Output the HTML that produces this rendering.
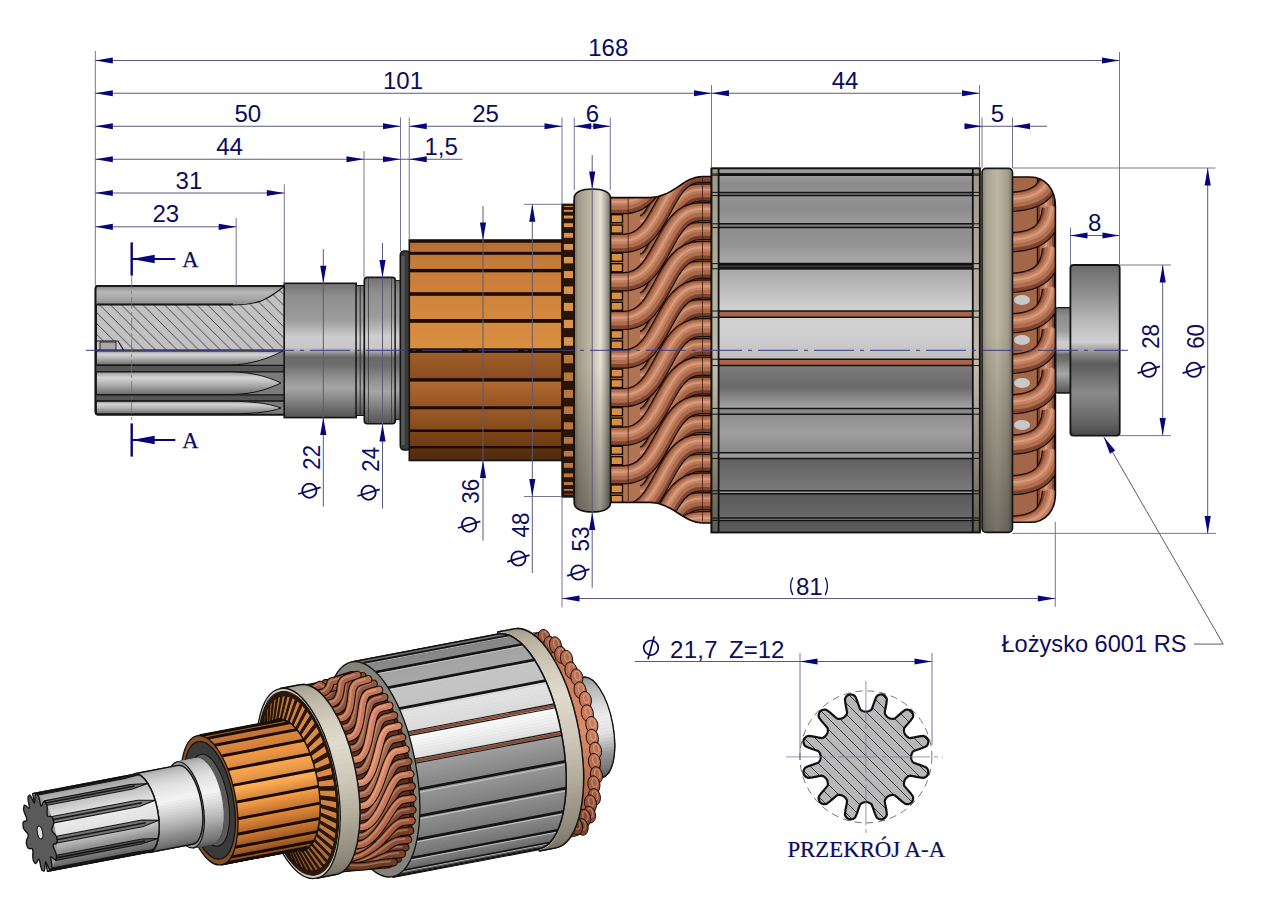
<!DOCTYPE html>
<html><head><meta charset="utf-8"><style>html,body{margin:0;padding:0;background:#fff;overflow:hidden}svg{display:block}</style></head>
<body><svg width="1280" height="905" viewBox="0 0 1280 905"><defs><linearGradient id="metal" x1="0" y1="0" x2="0" y2="1" gradientUnits="objectBoundingBox"><stop offset="0" stop-color="#727272"/><stop offset="0.1" stop-color="#8e8e8e"/><stop offset="0.27" stop-color="#9c9c9c"/><stop offset="0.35" stop-color="#b8b8b8"/><stop offset="0.4" stop-color="#cdcdcd"/><stop offset="0.48" stop-color="#c8c8c8"/><stop offset="0.51" stop-color="#a0a0a0"/><stop offset="0.55" stop-color="#686868"/><stop offset="0.61" stop-color="#6e6e6e"/><stop offset="0.7" stop-color="#909090"/><stop offset="0.78" stop-color="#a6a6a6"/><stop offset="0.88" stop-color="#808080"/><stop offset="1" stop-color="#525252"/></linearGradient><linearGradient id="tooth" x1="0" y1="0" x2="0" y2="1" gradientUnits="objectBoundingBox"><stop offset="0" stop-color="#9a9a9a"/><stop offset="0.25" stop-color="#d4d4d4"/><stop offset="0.5" stop-color="#b8b8b8"/><stop offset="1" stop-color="#6c6c6c"/></linearGradient><linearGradient id="toothTop" x1="0" y1="0" x2="0" y2="1" gradientUnits="objectBoundingBox"><stop offset="0" stop-color="#8a8a8a"/><stop offset="0.3" stop-color="#b8b8b8"/><stop offset="0.7" stop-color="#a6a6a6"/><stop offset="1" stop-color="#8e8e8e"/></linearGradient><pattern id="hatch" patternUnits="userSpaceOnUse" width="10.8" height="10.8" patternTransform="rotate(0)"><rect width="10.8" height="10.8" fill="#c2c2c2"/><path d="M-1,-1 L11.8,11.8 M-6.4,4.4 L6.4,17.2 M4.4,-6.4 L17.2,6.4" stroke="#3a3a3a" stroke-width="0.9"/></pattern><pattern id="hatch2" patternUnits="userSpaceOnUse" width="9" height="9"><rect width="9" height="9" fill="#b9b9b9"/><path d="M-1,-1 L10,10 M-5.5,3.5 L5.5,14.5 M3.5,-5.5 L14.5,5.5" stroke="#2e2e2e" stroke-width="0.9"/></pattern><linearGradient id="collar" x1="0" y1="0" x2="1" y2="0" gradientUnits="objectBoundingBox"><stop offset="0" stop-color="#2a2a2a"/><stop offset="0.5" stop-color="#4a4a4a"/><stop offset="1" stop-color="#2a2a2a"/></linearGradient><linearGradient id="com0" x1="0" y1="0" x2="0" y2="1" gradientUnits="objectBoundingBox"><stop offset="0" stop-color="#b06c32"/><stop offset="1" stop-color="#bf7736"/></linearGradient><linearGradient id="com1" x1="0" y1="0" x2="0" y2="1" gradientUnits="objectBoundingBox"><stop offset="0" stop-color="#c0783a"/><stop offset="1" stop-color="#c97e3a"/></linearGradient><linearGradient id="com2" x1="0" y1="0" x2="0" y2="1" gradientUnits="objectBoundingBox"><stop offset="0" stop-color="#c87c3a"/><stop offset="1" stop-color="#d08238"/></linearGradient><linearGradient id="com3" x1="0" y1="0" x2="0" y2="1" gradientUnits="objectBoundingBox"><stop offset="0" stop-color="#cf833c"/><stop offset="1" stop-color="#d6883e"/></linearGradient><linearGradient id="com4" x1="0" y1="0" x2="0" y2="1" gradientUnits="objectBoundingBox"><stop offset="0" stop-color="#d4893f"/><stop offset="1" stop-color="#d8903f"/></linearGradient><linearGradient id="com5" x1="0" y1="0" x2="0" y2="1" gradientUnits="objectBoundingBox"><stop offset="0" stop-color="#a0602a"/><stop offset="1" stop-color="#8a4c1e"/></linearGradient><linearGradient id="com6" x1="0" y1="0" x2="0" y2="1" gradientUnits="objectBoundingBox"><stop offset="0" stop-color="#b46c32"/><stop offset="1" stop-color="#92521f"/></linearGradient><linearGradient id="com7" x1="0" y1="0" x2="0" y2="1" gradientUnits="objectBoundingBox"><stop offset="0" stop-color="#9c5c28"/><stop offset="1" stop-color="#84481a"/></linearGradient><linearGradient id="com8" x1="0" y1="0" x2="0" y2="1" gradientUnits="objectBoundingBox"><stop offset="0" stop-color="#7e4618"/><stop offset="1" stop-color="#6c3a12"/></linearGradient><linearGradient id="com9" x1="0" y1="0" x2="0" y2="1" gradientUnits="objectBoundingBox"><stop offset="0" stop-color="#5e3210"/><stop offset="1" stop-color="#4e2a0c"/></linearGradient><clipPath id="fwclip"><path d="M610,197.6 L650,197.6 C672,197.6 684,176.6 702,176.6 L712,176.6 L712,523 L702,523 C684,523 672,502.4 650,502.4 L610,502.4 Z"/></clipPath><linearGradient id="ringF" x1="0" y1="0" x2="1" y2="0" gradientUnits="objectBoundingBox"><stop offset="0" stop-color="#7a7366"/><stop offset="0.12" stop-color="#a39b8a"/><stop offset="0.45" stop-color="#bdb6a5"/><stop offset="0.72" stop-color="#e6e2d6"/><stop offset="0.86" stop-color="#b5ad9c"/><stop offset="1" stop-color="#787264"/></linearGradient><linearGradient id="ringFv" x1="0" y1="0" x2="0" y2="1" gradientUnits="objectBoundingBox"><stop offset="0" stop-color="#ffffff"/><stop offset="0.5" stop-color="#ffffff"/><stop offset="1" stop-color="#000000"/></linearGradient><linearGradient id="shadeV" x1="0" y1="0" x2="0" y2="1" gradientUnits="objectBoundingBox"><stop offset="0" stop-color="rgba(0,0,0,0)"/><stop offset="0.55" stop-color="rgba(0,0,0,0)"/><stop offset="1" stop-color="rgba(0,0,0,0.35)"/></linearGradient><linearGradient id="st0" x1="0" y1="0" x2="0" y2="1" gradientUnits="objectBoundingBox"><stop offset="0" stop-color="#a4a4a4"/><stop offset="1" stop-color="#8e8e8e"/></linearGradient><linearGradient id="st1" x1="0" y1="0" x2="0" y2="1" gradientUnits="objectBoundingBox"><stop offset="0" stop-color="#9c9c9c"/><stop offset="0.5" stop-color="#8a8a8a"/><stop offset="1" stop-color="#929292"/></linearGradient><linearGradient id="st2" x1="0" y1="0" x2="0" y2="1" gradientUnits="objectBoundingBox"><stop offset="0" stop-color="#939393"/><stop offset="0.5" stop-color="#8c8c8c"/><stop offset="1" stop-color="#9c9c9c"/></linearGradient><linearGradient id="st3" x1="0" y1="0" x2="0" y2="1" gradientUnits="objectBoundingBox"><stop offset="0" stop-color="#8c8c8c"/><stop offset="0.5" stop-color="#959595"/><stop offset="1" stop-color="#ababab"/></linearGradient><linearGradient id="st4" x1="0" y1="0" x2="0" y2="1" gradientUnits="objectBoundingBox"><stop offset="0" stop-color="#a6a6a6"/><stop offset="0.5" stop-color="#bebebe"/><stop offset="1" stop-color="#d2d2d2"/></linearGradient><linearGradient id="st5" x1="0" y1="0" x2="0" y2="1" gradientUnits="objectBoundingBox"><stop offset="0" stop-color="#d2d2d2"/><stop offset="0.5" stop-color="#cfcfcf"/><stop offset="1" stop-color="#bcbcbc"/></linearGradient><linearGradient id="st6" x1="0" y1="0" x2="0" y2="1" gradientUnits="objectBoundingBox"><stop offset="0" stop-color="#7c7c7c"/><stop offset="0.5" stop-color="#696969"/><stop offset="1" stop-color="#a6a6a6"/></linearGradient><linearGradient id="st7" x1="0" y1="0" x2="0" y2="1" gradientUnits="objectBoundingBox"><stop offset="0" stop-color="#8e8e8e"/><stop offset="0.5" stop-color="#9e9e9e"/><stop offset="1" stop-color="#888888"/></linearGradient><linearGradient id="st8" x1="0" y1="0" x2="0" y2="1" gradientUnits="objectBoundingBox"><stop offset="0" stop-color="#5e5e5e"/><stop offset="0.5" stop-color="#6e6e6e"/><stop offset="1" stop-color="#7a7a7a"/></linearGradient><linearGradient id="st9" x1="0" y1="0" x2="0" y2="1" gradientUnits="objectBoundingBox"><stop offset="0" stop-color="#585858"/><stop offset="0.5" stop-color="#626262"/><stop offset="1" stop-color="#6a6a6a"/></linearGradient><linearGradient id="st10" x1="0" y1="0" x2="0" y2="1" gradientUnits="objectBoundingBox"><stop offset="0" stop-color="#555555"/><stop offset="1" stop-color="#5e5e5e"/></linearGradient><linearGradient id="cap" x1="0" y1="0" x2="0" y2="1" gradientUnits="objectBoundingBox"><stop offset="0" stop-color="#9e9888"/><stop offset="0.3" stop-color="#b4ad9c"/><stop offset="0.55" stop-color="#c2bcaf"/><stop offset="0.8" stop-color="#8e887a"/><stop offset="1" stop-color="#5e5a50"/></linearGradient><clipPath id="bwclip"><path d="M1011,177 L1030,177 C1046,177 1055.4,190 1055.4,206 L1055.4,494 C1055.4,510 1046,522.3 1030,522.3 L1011,522.3 Z"/></clipPath><linearGradient id="ringB" x1="0" y1="0" x2="1" y2="0" gradientUnits="objectBoundingBox"><stop offset="0" stop-color="#8a8372"/><stop offset="0.15" stop-color="#a9a290"/><stop offset="0.5" stop-color="#bdb6a5"/><stop offset="0.85" stop-color="#a49d8c"/><stop offset="1" stop-color="#7a7466"/></linearGradient><linearGradient id="shadeV2" x1="0" y1="0" x2="0" y2="1" gradientUnits="objectBoundingBox"><stop offset="0" stop-color="rgba(0,0,0,0)"/><stop offset="0.45" stop-color="rgba(0,0,0,0)"/><stop offset="1" stop-color="rgba(0,0,0,0.38)"/></linearGradient><linearGradient id="bear" x1="0" y1="0" x2="0" y2="1" gradientUnits="objectBoundingBox"><stop offset="0" stop-color="#6c6c6c"/><stop offset="0.15" stop-color="#8a8a8a"/><stop offset="0.35" stop-color="#bdbdbd"/><stop offset="0.45" stop-color="#d0d0d0"/><stop offset="0.52" stop-color="#8a8a8a"/><stop offset="0.58" stop-color="#5c5c5c"/><stop offset="0.75" stop-color="#8a8a8a"/><stop offset="0.9" stop-color="#6a6a6a"/><stop offset="1" stop-color="#4a4a4a"/></linearGradient><pattern id="hatch3" patternUnits="userSpaceOnUse" width="11" height="11"><rect width="11" height="11" fill="#b8b8b8"/><path d="M-1,-1 L12,12 M-6.5,4.5 L6.5,17.5 M4.5,-6.5 L17.5,6.5" stroke="#2a2a2a" stroke-width="0.9"/></pattern></defs><rect width="1280" height="905" fill="#fff"/><rect x="95.5" y="285.9" width="190" height="128.8" rx="3" fill="#8a8a8a" stroke="#151515" stroke-width="1.6" />
<rect x="96.3" y="286.7" width="188" height="17.5" rx="0" fill="url(#toothTop)" stroke="none" stroke-width="0" />
<path d="M96.3,305 L233,305 C262,305 270,297 284.5,286.2 L284.5,350 L96.3,350 Z" fill="url(#hatch)" stroke="#151515" stroke-width="1.2" />
<line x1="96.3" y1="304.2" x2="233" y2="304.2" stroke="#151515" stroke-width="1.4" />
<path d="M96.3,341 L118,341 L123.5,350 L96.3,350 Z" fill="#c8c8c8" stroke="#151515" stroke-width="1.1" />
<rect x="100" y="342" width="16" height="8" rx="0" fill="#a8a8a8" stroke="#151515" stroke-width="0.9" />
<rect x="96.3" y="350.5" width="188" height="63.5" rx="0" fill="#7a7a7a" stroke="none" stroke-width="0" />
<path d="M96.3,351 L240,351 C262,351 272,351.5 283,350.8 C270,358 250,365 230,365 L96.3,365 Z" fill="url(#tooth)" stroke="#151515" stroke-width="1" />
<rect x="96.3" y="365.3" width="188" height="6.5" rx="0" fill="#575757" stroke="none" stroke-width="0" />
<line x1="96.3" y1="365.3" x2="284" y2="365.3" stroke="#151515" stroke-width="1.3" />
<line x1="96.3" y1="371.8" x2="284" y2="371.8" stroke="#151515" stroke-width="1.3" />
<path d="M96.3,372 L230,372 C255,372 270,378 281,383 C270,388 255,394.5 230,394.5 L96.3,394.5 Z" fill="url(#tooth)" stroke="#151515" stroke-width="1" />
<rect x="96.3" y="394.8" width="188" height="6.2" rx="0" fill="#555" stroke="none" stroke-width="0" />
<line x1="96.3" y1="394.8" x2="284" y2="394.8" stroke="#151515" stroke-width="1.3" />
<line x1="96.3" y1="401" x2="284" y2="401" stroke="#151515" stroke-width="1.3" />
<path d="M96.3,401.3 L230,401.3 C255,401.3 270,404 281,408 C270,412 255,413.8 230,413.8 L96.3,413.8 Z" fill="url(#tooth)" stroke="#151515" stroke-width="1" />
<rect x="95.5" y="285.9" width="190" height="128.8" rx="3" fill="none" stroke="#151515" stroke-width="1.8" />
<rect x="284.2" y="283.3" width="72" height="134.3" rx="0" fill="url(#metal)" stroke="#151515" stroke-width="1.6" />
<rect x="356.2" y="285.5" width="8.2" height="130" rx="0" fill="url(#metal)" stroke="#151515" stroke-width="1" />
<line x1="360.2" y1="286" x2="360.2" y2="415" stroke="#2a2a2a" stroke-width="1.0" />
<rect x="364.3" y="277.4" width="31" height="146.4" rx="3" fill="url(#metal)" stroke="#151515" stroke-width="1.6" />
<line x1="368.5" y1="278" x2="368.5" y2="423" stroke="#3a3a3a" stroke-width="0.8" />
<line x1="391.5" y1="278" x2="391.5" y2="423" stroke="#3a3a3a" stroke-width="0.8" />
<rect x="395.3" y="280.6" width="5.5" height="139" rx="0" fill="url(#metal)" stroke="#151515" stroke-width="1" />
<rect x="400.3" y="251" width="10" height="199" rx="4" fill="#3a3a3a" stroke="#151515" stroke-width="1.6" />
<rect x="401.5" y="256" width="3" height="189" rx="0" fill="#5a5a5a" stroke="none" stroke-width="0" />
<rect x="409.3" y="240" width="152.8" height="13.3" rx="0" fill="url(#com0)" stroke="none" stroke-width="0" />
<rect x="409.3" y="253.3" width="152.8" height="17.3" rx="0" fill="url(#com1)" stroke="none" stroke-width="0" />
<rect x="409.3" y="270.6" width="152.8" height="23.4" rx="0" fill="url(#com2)" stroke="none" stroke-width="0" />
<rect x="409.3" y="294" width="152.8" height="26.9" rx="0" fill="url(#com3)" stroke="none" stroke-width="0" />
<rect x="409.3" y="320.9" width="152.8" height="29.7" rx="0" fill="url(#com4)" stroke="none" stroke-width="0" />
<rect x="409.3" y="350.6" width="152.8" height="29.3" rx="0" fill="url(#com5)" stroke="none" stroke-width="0" />
<rect x="409.3" y="379.9" width="152.8" height="27.9" rx="0" fill="url(#com6)" stroke="none" stroke-width="0" />
<rect x="409.3" y="407.8" width="152.8" height="22.9" rx="0" fill="url(#com7)" stroke="none" stroke-width="0" />
<rect x="409.3" y="430.7" width="152.8" height="16.5" rx="0" fill="url(#com8)" stroke="none" stroke-width="0" />
<rect x="409.3" y="447.2" width="152.8" height="13.3" rx="0" fill="url(#com9)" stroke="none" stroke-width="0" />
<rect x="409.3" y="240.1" width="152.8" height="2.6" rx="0" fill="#1c0a02" stroke="none" stroke-width="0" />
<rect x="409.3" y="251.8" width="152.8" height="3" rx="0" fill="#1c0a02" stroke="none" stroke-width="0" />
<rect x="409.3" y="268.9" width="152.8" height="3.4" rx="0" fill="#1c0a02" stroke="none" stroke-width="0" />
<rect x="409.3" y="292.2" width="152.8" height="3.6" rx="0" fill="#1c0a02" stroke="none" stroke-width="0" />
<rect x="409.3" y="319" width="152.8" height="3.8" rx="0" fill="#1c0a02" stroke="none" stroke-width="0" />
<rect x="409.3" y="348.3" width="152.8" height="4.6" rx="0" fill="#1c0a02" stroke="none" stroke-width="0" />
<rect x="409.3" y="378.2" width="152.8" height="3.4" rx="0" fill="#1c0a02" stroke="none" stroke-width="0" />
<rect x="409.3" y="406.3" width="152.8" height="3" rx="0" fill="#1c0a02" stroke="none" stroke-width="0" />
<rect x="409.3" y="429.4" width="152.8" height="2.6" rx="0" fill="#1c0a02" stroke="none" stroke-width="0" />
<rect x="409.3" y="446" width="152.8" height="2.4" rx="0" fill="#1c0a02" stroke="none" stroke-width="0" />
<rect x="409.3" y="240" width="152.8" height="220.5" rx="0" fill="none" stroke="#151515" stroke-width="1.6" />
<rect x="562" y="204.3" width="12.5" height="292.7" rx="0" fill="#2a1406" stroke="#151515" stroke-width="1.4" />
<rect x="563.3" y="493.21" width="10.3" height="1.7" rx="0" fill="#b8773f" stroke="#1a0a02" stroke-width="0.8" />
<rect x="563.3" y="488.44" width="10.3" height="2.8" rx="0" fill="#b8773f" stroke="#1a0a02" stroke-width="0.8" />
<rect x="563.3" y="481.65" width="10.3" height="3.86" rx="0" fill="#b8773f" stroke="#1a0a02" stroke-width="0.8" />
<rect x="563.3" y="472.94" width="10.3" height="4.87" rx="0" fill="#b8773f" stroke="#1a0a02" stroke-width="0.8" />
<rect x="563.3" y="462.45" width="10.3" height="5.81" rx="0" fill="#b8773f" stroke="#1a0a02" stroke-width="0.8" />
<rect x="563.3" y="450.32" width="10.3" height="6.66" rx="0" fill="#b8773f" stroke="#1a0a02" stroke-width="0.8" />
<rect x="563.3" y="436.73" width="10.3" height="7.41" rx="0" fill="#b8773f" stroke="#1a0a02" stroke-width="0.8" />
<rect x="563.3" y="421.88" width="10.3" height="8.06" rx="0" fill="#b8773f" stroke="#1a0a02" stroke-width="0.8" />
<rect x="563.3" y="405.99" width="10.3" height="8.59" rx="0" fill="#b8773f" stroke="#1a0a02" stroke-width="0.8" />
<rect x="563.3" y="389.29" width="10.3" height="8.99" rx="0" fill="#b8773f" stroke="#1a0a02" stroke-width="0.8" />
<rect x="563.3" y="372.01" width="10.3" height="9.26" rx="0" fill="#b8773f" stroke="#1a0a02" stroke-width="0.8" />
<rect x="563.3" y="354.43" width="10.3" height="9.4" rx="0" fill="#b8773f" stroke="#1a0a02" stroke-width="0.8" />
<rect x="563.3" y="336.78" width="10.3" height="9.4" rx="0" fill="#d8934e" stroke="#1a0a02" stroke-width="0.8" />
<rect x="563.3" y="319.32" width="10.3" height="9.26" rx="0" fill="#d8934e" stroke="#1a0a02" stroke-width="0.8" />
<rect x="563.3" y="302.32" width="10.3" height="8.99" rx="0" fill="#d8934e" stroke="#1a0a02" stroke-width="0.8" />
<rect x="563.3" y="286.02" width="10.3" height="8.59" rx="0" fill="#d8934e" stroke="#1a0a02" stroke-width="0.8" />
<rect x="563.3" y="270.66" width="10.3" height="8.06" rx="0" fill="#d8934e" stroke="#1a0a02" stroke-width="0.8" />
<rect x="563.3" y="256.46" width="10.3" height="7.41" rx="0" fill="#d8934e" stroke="#1a0a02" stroke-width="0.8" />
<rect x="563.3" y="243.62" width="10.3" height="6.66" rx="0" fill="#d8934e" stroke="#1a0a02" stroke-width="0.8" />
<rect x="563.3" y="232.35" width="10.3" height="5.81" rx="0" fill="#d8934e" stroke="#1a0a02" stroke-width="0.8" />
<rect x="563.3" y="222.79" width="10.3" height="4.87" rx="0" fill="#d8934e" stroke="#1a0a02" stroke-width="0.8" />
<rect x="563.3" y="215.09" width="10.3" height="3.86" rx="0" fill="#d8934e" stroke="#1a0a02" stroke-width="0.8" />
<rect x="563.3" y="209.36" width="10.3" height="2.8" rx="0" fill="#d8934e" stroke="#1a0a02" stroke-width="0.8" />
<rect x="563.3" y="205.69" width="10.3" height="1.7" rx="0" fill="#d8934e" stroke="#1a0a02" stroke-width="0.8" />
<g clip-path="url(#fwclip)">
<rect x="609" y="170" width="104" height="360" fill="#b07454"/>
<path d="M640,146.7 C664,146.7 662,76.7 700,76.7 L714,76.7" fill="none" stroke="#1a0a04" stroke-width="18.4" stroke-linecap="butt"/>
<path d="M640,146.7 C664,146.7 662,76.7 700,76.7 L714,76.7" fill="none" stroke="#6e3c28" stroke-width="16" stroke-linecap="butt"/>
<path d="M640,146.7 C664,146.7 662,76.7 700,76.7 L714,76.7" fill="none" stroke="#a86648" stroke-width="12.16" stroke-linecap="butt" transform="translate(0,-1.4)"/>
<path d="M640,146.7 C664,146.7 662,76.7 700,76.7 L714,76.7" fill="none" stroke="#c88868" stroke-width="6.4" stroke-linecap="butt" transform="translate(0,-2.4)" opacity="0.55"/>
<path d="M640,146.7 C664,146.7 662,76.7 700,76.7 L714,76.7" fill="none" stroke="#ecb899" stroke-width="2.24" stroke-linecap="butt" transform="translate(0,-2.8)" opacity="0.45"/>
<path d="M640,185.3 C664,185.3 662,115.3 700,115.3 L714,115.3" fill="none" stroke="#1a0a04" stroke-width="18.4" stroke-linecap="butt"/>
<path d="M640,185.3 C664,185.3 662,115.3 700,115.3 L714,115.3" fill="none" stroke="#6e3c28" stroke-width="16" stroke-linecap="butt"/>
<path d="M640,185.3 C664,185.3 662,115.3 700,115.3 L714,115.3" fill="none" stroke="#a86648" stroke-width="12.16" stroke-linecap="butt" transform="translate(0,-1.4)"/>
<path d="M640,185.3 C664,185.3 662,115.3 700,115.3 L714,115.3" fill="none" stroke="#c88868" stroke-width="6.4" stroke-linecap="butt" transform="translate(0,-2.4)" opacity="0.55"/>
<path d="M640,185.3 C664,185.3 662,115.3 700,115.3 L714,115.3" fill="none" stroke="#ecb899" stroke-width="2.24" stroke-linecap="butt" transform="translate(0,-2.8)" opacity="0.45"/>
<path d="M640,223.9 C664,223.9 662,153.9 700,153.9 L714,153.9" fill="none" stroke="#1a0a04" stroke-width="18.4" stroke-linecap="butt"/>
<path d="M640,223.9 C664,223.9 662,153.9 700,153.9 L714,153.9" fill="none" stroke="#6e3c28" stroke-width="16" stroke-linecap="butt"/>
<path d="M640,223.9 C664,223.9 662,153.9 700,153.9 L714,153.9" fill="none" stroke="#a86648" stroke-width="12.16" stroke-linecap="butt" transform="translate(0,-1.4)"/>
<path d="M640,223.9 C664,223.9 662,153.9 700,153.9 L714,153.9" fill="none" stroke="#c88868" stroke-width="6.4" stroke-linecap="butt" transform="translate(0,-2.4)" opacity="0.55"/>
<path d="M640,223.9 C664,223.9 662,153.9 700,153.9 L714,153.9" fill="none" stroke="#ecb899" stroke-width="2.24" stroke-linecap="butt" transform="translate(0,-2.8)" opacity="0.45"/>
<path d="M640,262.5 C664,262.5 662,192.5 700,192.5 L714,192.5" fill="none" stroke="#1a0a04" stroke-width="18.4" stroke-linecap="butt"/>
<path d="M640,262.5 C664,262.5 662,192.5 700,192.5 L714,192.5" fill="none" stroke="#6e3c28" stroke-width="16" stroke-linecap="butt"/>
<path d="M640,262.5 C664,262.5 662,192.5 700,192.5 L714,192.5" fill="none" stroke="#a86648" stroke-width="12.16" stroke-linecap="butt" transform="translate(0,-1.4)"/>
<path d="M640,262.5 C664,262.5 662,192.5 700,192.5 L714,192.5" fill="none" stroke="#c88868" stroke-width="6.4" stroke-linecap="butt" transform="translate(0,-2.4)" opacity="0.55"/>
<path d="M640,262.5 C664,262.5 662,192.5 700,192.5 L714,192.5" fill="none" stroke="#ecb899" stroke-width="2.24" stroke-linecap="butt" transform="translate(0,-2.8)" opacity="0.45"/>
<path d="M640,301.1 C664,301.1 662,231.1 700,231.1 L714,231.1" fill="none" stroke="#1a0a04" stroke-width="18.4" stroke-linecap="butt"/>
<path d="M640,301.1 C664,301.1 662,231.1 700,231.1 L714,231.1" fill="none" stroke="#6e3c28" stroke-width="16" stroke-linecap="butt"/>
<path d="M640,301.1 C664,301.1 662,231.1 700,231.1 L714,231.1" fill="none" stroke="#a86648" stroke-width="12.16" stroke-linecap="butt" transform="translate(0,-1.4)"/>
<path d="M640,301.1 C664,301.1 662,231.1 700,231.1 L714,231.1" fill="none" stroke="#c88868" stroke-width="6.4" stroke-linecap="butt" transform="translate(0,-2.4)" opacity="0.55"/>
<path d="M640,301.1 C664,301.1 662,231.1 700,231.1 L714,231.1" fill="none" stroke="#ecb899" stroke-width="2.24" stroke-linecap="butt" transform="translate(0,-2.8)" opacity="0.45"/>
<path d="M640,339.7 C664,339.7 662,269.7 700,269.7 L714,269.7" fill="none" stroke="#1a0a04" stroke-width="18.4" stroke-linecap="butt"/>
<path d="M640,339.7 C664,339.7 662,269.7 700,269.7 L714,269.7" fill="none" stroke="#6e3c28" stroke-width="16" stroke-linecap="butt"/>
<path d="M640,339.7 C664,339.7 662,269.7 700,269.7 L714,269.7" fill="none" stroke="#a86648" stroke-width="12.16" stroke-linecap="butt" transform="translate(0,-1.4)"/>
<path d="M640,339.7 C664,339.7 662,269.7 700,269.7 L714,269.7" fill="none" stroke="#c88868" stroke-width="6.4" stroke-linecap="butt" transform="translate(0,-2.4)" opacity="0.55"/>
<path d="M640,339.7 C664,339.7 662,269.7 700,269.7 L714,269.7" fill="none" stroke="#ecb899" stroke-width="2.24" stroke-linecap="butt" transform="translate(0,-2.8)" opacity="0.45"/>
<path d="M640,378.3 C664,378.3 662,308.3 700,308.3 L714,308.3" fill="none" stroke="#1a0a04" stroke-width="18.4" stroke-linecap="butt"/>
<path d="M640,378.3 C664,378.3 662,308.3 700,308.3 L714,308.3" fill="none" stroke="#6e3c28" stroke-width="16" stroke-linecap="butt"/>
<path d="M640,378.3 C664,378.3 662,308.3 700,308.3 L714,308.3" fill="none" stroke="#a86648" stroke-width="12.16" stroke-linecap="butt" transform="translate(0,-1.4)"/>
<path d="M640,378.3 C664,378.3 662,308.3 700,308.3 L714,308.3" fill="none" stroke="#c88868" stroke-width="6.4" stroke-linecap="butt" transform="translate(0,-2.4)" opacity="0.55"/>
<path d="M640,378.3 C664,378.3 662,308.3 700,308.3 L714,308.3" fill="none" stroke="#ecb899" stroke-width="2.24" stroke-linecap="butt" transform="translate(0,-2.8)" opacity="0.45"/>
<path d="M640,416.9 C664,416.9 662,346.9 700,346.9 L714,346.9" fill="none" stroke="#1a0a04" stroke-width="18.4" stroke-linecap="butt"/>
<path d="M640,416.9 C664,416.9 662,346.9 700,346.9 L714,346.9" fill="none" stroke="#6e3c28" stroke-width="16" stroke-linecap="butt"/>
<path d="M640,416.9 C664,416.9 662,346.9 700,346.9 L714,346.9" fill="none" stroke="#a86648" stroke-width="12.16" stroke-linecap="butt" transform="translate(0,-1.4)"/>
<path d="M640,416.9 C664,416.9 662,346.9 700,346.9 L714,346.9" fill="none" stroke="#c88868" stroke-width="6.4" stroke-linecap="butt" transform="translate(0,-2.4)" opacity="0.55"/>
<path d="M640,416.9 C664,416.9 662,346.9 700,346.9 L714,346.9" fill="none" stroke="#ecb899" stroke-width="2.24" stroke-linecap="butt" transform="translate(0,-2.8)" opacity="0.45"/>
<path d="M640,455.5 C664,455.5 662,385.5 700,385.5 L714,385.5" fill="none" stroke="#1a0a04" stroke-width="18.4" stroke-linecap="butt"/>
<path d="M640,455.5 C664,455.5 662,385.5 700,385.5 L714,385.5" fill="none" stroke="#6e3c28" stroke-width="16" stroke-linecap="butt"/>
<path d="M640,455.5 C664,455.5 662,385.5 700,385.5 L714,385.5" fill="none" stroke="#a86648" stroke-width="12.16" stroke-linecap="butt" transform="translate(0,-1.4)"/>
<path d="M640,455.5 C664,455.5 662,385.5 700,385.5 L714,385.5" fill="none" stroke="#c88868" stroke-width="6.4" stroke-linecap="butt" transform="translate(0,-2.4)" opacity="0.55"/>
<path d="M640,455.5 C664,455.5 662,385.5 700,385.5 L714,385.5" fill="none" stroke="#ecb899" stroke-width="2.24" stroke-linecap="butt" transform="translate(0,-2.8)" opacity="0.45"/>
<path d="M640,494.1 C664,494.1 662,424.1 700,424.1 L714,424.1" fill="none" stroke="#1a0a04" stroke-width="18.4" stroke-linecap="butt"/>
<path d="M640,494.1 C664,494.1 662,424.1 700,424.1 L714,424.1" fill="none" stroke="#6e3c28" stroke-width="16" stroke-linecap="butt"/>
<path d="M640,494.1 C664,494.1 662,424.1 700,424.1 L714,424.1" fill="none" stroke="#a86648" stroke-width="12.16" stroke-linecap="butt" transform="translate(0,-1.4)"/>
<path d="M640,494.1 C664,494.1 662,424.1 700,424.1 L714,424.1" fill="none" stroke="#c88868" stroke-width="6.4" stroke-linecap="butt" transform="translate(0,-2.4)" opacity="0.55"/>
<path d="M640,494.1 C664,494.1 662,424.1 700,424.1 L714,424.1" fill="none" stroke="#ecb899" stroke-width="2.24" stroke-linecap="butt" transform="translate(0,-2.8)" opacity="0.45"/>
<path d="M640,532.7 C664,532.7 662,462.7 700,462.7 L714,462.7" fill="none" stroke="#1a0a04" stroke-width="18.4" stroke-linecap="butt"/>
<path d="M640,532.7 C664,532.7 662,462.7 700,462.7 L714,462.7" fill="none" stroke="#6e3c28" stroke-width="16" stroke-linecap="butt"/>
<path d="M640,532.7 C664,532.7 662,462.7 700,462.7 L714,462.7" fill="none" stroke="#a86648" stroke-width="12.16" stroke-linecap="butt" transform="translate(0,-1.4)"/>
<path d="M640,532.7 C664,532.7 662,462.7 700,462.7 L714,462.7" fill="none" stroke="#c88868" stroke-width="6.4" stroke-linecap="butt" transform="translate(0,-2.4)" opacity="0.55"/>
<path d="M640,532.7 C664,532.7 662,462.7 700,462.7 L714,462.7" fill="none" stroke="#ecb899" stroke-width="2.24" stroke-linecap="butt" transform="translate(0,-2.8)" opacity="0.45"/>
<path d="M640,571.3 C664,571.3 662,501.3 700,501.3 L714,501.3" fill="none" stroke="#1a0a04" stroke-width="18.4" stroke-linecap="butt"/>
<path d="M640,571.3 C664,571.3 662,501.3 700,501.3 L714,501.3" fill="none" stroke="#6e3c28" stroke-width="16" stroke-linecap="butt"/>
<path d="M640,571.3 C664,571.3 662,501.3 700,501.3 L714,501.3" fill="none" stroke="#a86648" stroke-width="12.16" stroke-linecap="butt" transform="translate(0,-1.4)"/>
<path d="M640,571.3 C664,571.3 662,501.3 700,501.3 L714,501.3" fill="none" stroke="#c88868" stroke-width="6.4" stroke-linecap="butt" transform="translate(0,-2.4)" opacity="0.55"/>
<path d="M640,571.3 C664,571.3 662,501.3 700,501.3 L714,501.3" fill="none" stroke="#ecb899" stroke-width="2.24" stroke-linecap="butt" transform="translate(0,-2.8)" opacity="0.45"/>
<path d="M640,609.9 C664,609.9 662,539.9 700,539.9 L714,539.9" fill="none" stroke="#1a0a04" stroke-width="18.4" stroke-linecap="butt"/>
<path d="M640,609.9 C664,609.9 662,539.9 700,539.9 L714,539.9" fill="none" stroke="#6e3c28" stroke-width="16" stroke-linecap="butt"/>
<path d="M640,609.9 C664,609.9 662,539.9 700,539.9 L714,539.9" fill="none" stroke="#a86648" stroke-width="12.16" stroke-linecap="butt" transform="translate(0,-1.4)"/>
<path d="M640,609.9 C664,609.9 662,539.9 700,539.9 L714,539.9" fill="none" stroke="#c88868" stroke-width="6.4" stroke-linecap="butt" transform="translate(0,-2.4)" opacity="0.55"/>
<path d="M640,609.9 C664,609.9 662,539.9 700,539.9 L714,539.9" fill="none" stroke="#ecb899" stroke-width="2.24" stroke-linecap="butt" transform="translate(0,-2.8)" opacity="0.45"/>
<path d="M640,648.5 C664,648.5 662,578.5 700,578.5 L714,578.5" fill="none" stroke="#1a0a04" stroke-width="18.4" stroke-linecap="butt"/>
<path d="M640,648.5 C664,648.5 662,578.5 700,578.5 L714,578.5" fill="none" stroke="#6e3c28" stroke-width="16" stroke-linecap="butt"/>
<path d="M640,648.5 C664,648.5 662,578.5 700,578.5 L714,578.5" fill="none" stroke="#a86648" stroke-width="12.16" stroke-linecap="butt" transform="translate(0,-1.4)"/>
<path d="M640,648.5 C664,648.5 662,578.5 700,578.5 L714,578.5" fill="none" stroke="#c88868" stroke-width="6.4" stroke-linecap="butt" transform="translate(0,-2.4)" opacity="0.55"/>
<path d="M640,648.5 C664,648.5 662,578.5 700,578.5 L714,578.5" fill="none" stroke="#ecb899" stroke-width="2.24" stroke-linecap="butt" transform="translate(0,-2.8)" opacity="0.45"/>
<rect x="611" y="98.9" width="11.5" height="8" fill="#d68f45" stroke="#1a0a04" stroke-width="1.4"/>
<rect x="611" y="109.3" width="11.5" height="8" fill="#d68f45" stroke="#1a0a04" stroke-width="1.4"/>
<rect x="611" y="137.5" width="11.5" height="8" fill="#d68f45" stroke="#1a0a04" stroke-width="1.4"/>
<rect x="611" y="147.9" width="11.5" height="8" fill="#d68f45" stroke="#1a0a04" stroke-width="1.4"/>
<rect x="611" y="176.1" width="11.5" height="8" fill="#d68f45" stroke="#1a0a04" stroke-width="1.4"/>
<rect x="611" y="186.5" width="11.5" height="8" fill="#d68f45" stroke="#1a0a04" stroke-width="1.4"/>
<rect x="611" y="214.7" width="11.5" height="8" fill="#d68f45" stroke="#1a0a04" stroke-width="1.4"/>
<rect x="611" y="225.1" width="11.5" height="8" fill="#d68f45" stroke="#1a0a04" stroke-width="1.4"/>
<rect x="611" y="253.3" width="11.5" height="8" fill="#d68f45" stroke="#1a0a04" stroke-width="1.4"/>
<rect x="611" y="263.7" width="11.5" height="8" fill="#d68f45" stroke="#1a0a04" stroke-width="1.4"/>
<rect x="611" y="291.9" width="11.5" height="8" fill="#d68f45" stroke="#1a0a04" stroke-width="1.4"/>
<rect x="611" y="302.3" width="11.5" height="8" fill="#d68f45" stroke="#1a0a04" stroke-width="1.4"/>
<rect x="611" y="330.5" width="11.5" height="8" fill="#d68f45" stroke="#1a0a04" stroke-width="1.4"/>
<rect x="611" y="340.9" width="11.5" height="8" fill="#d68f45" stroke="#1a0a04" stroke-width="1.4"/>
<rect x="611" y="369.1" width="11.5" height="8" fill="#d68f45" stroke="#1a0a04" stroke-width="1.4"/>
<rect x="611" y="379.5" width="11.5" height="8" fill="#d68f45" stroke="#1a0a04" stroke-width="1.4"/>
<rect x="611" y="407.7" width="11.5" height="8" fill="#d68f45" stroke="#1a0a04" stroke-width="1.4"/>
<rect x="611" y="418.1" width="11.5" height="8" fill="#d68f45" stroke="#1a0a04" stroke-width="1.4"/>
<rect x="611" y="446.3" width="11.5" height="8" fill="#d68f45" stroke="#1a0a04" stroke-width="1.4"/>
<rect x="611" y="456.7" width="11.5" height="8" fill="#d68f45" stroke="#1a0a04" stroke-width="1.4"/>
<rect x="611" y="484.9" width="11.5" height="8" fill="#d68f45" stroke="#1a0a04" stroke-width="1.4"/>
<rect x="611" y="495.3" width="11.5" height="8" fill="#d68f45" stroke="#1a0a04" stroke-width="1.4"/>
<rect x="611" y="523.5" width="11.5" height="8" fill="#d68f45" stroke="#1a0a04" stroke-width="1.4"/>
<rect x="611" y="533.9" width="11.5" height="8" fill="#d68f45" stroke="#1a0a04" stroke-width="1.4"/>
<rect x="611" y="562.1" width="11.5" height="8" fill="#d68f45" stroke="#1a0a04" stroke-width="1.4"/>
<rect x="611" y="572.5" width="11.5" height="8" fill="#d68f45" stroke="#1a0a04" stroke-width="1.4"/>
<rect x="611" y="600.7" width="11.5" height="8" fill="#d68f45" stroke="#1a0a04" stroke-width="1.4"/>
<rect x="611" y="611.1" width="11.5" height="8" fill="#d68f45" stroke="#1a0a04" stroke-width="1.4"/>
<path d="M606,127.4 L624,127.4 C664,127.4 662,57.4 700,57.4 L714,57.4" fill="none" stroke="#1a0a04" stroke-width="19.4" stroke-linecap="butt"/>
<path d="M606,127.4 L624,127.4 C664,127.4 662,57.4 700,57.4 L714,57.4" fill="none" stroke="#7e4630" stroke-width="17" stroke-linecap="butt"/>
<path d="M606,127.4 L624,127.4 C664,127.4 662,57.4 700,57.4 L714,57.4" fill="none" stroke="#b06c4c" stroke-width="12.92" stroke-linecap="butt" transform="translate(0,-1.4)"/>
<path d="M606,127.4 L624,127.4 C664,127.4 662,57.4 700,57.4 L714,57.4" fill="none" stroke="#d49878" stroke-width="6.8" stroke-linecap="butt" transform="translate(0,-2.4)" opacity="0.55"/>
<path d="M606,127.4 L624,127.4 C664,127.4 662,57.4 700,57.4 L714,57.4" fill="none" stroke="#ecb899" stroke-width="2.38" stroke-linecap="butt" transform="translate(0,-2.8)" opacity="0.45"/>
<path d="M606,166 L624,166 C664,166 662,96 700,96 L714,96" fill="none" stroke="#1a0a04" stroke-width="19.4" stroke-linecap="butt"/>
<path d="M606,166 L624,166 C664,166 662,96 700,96 L714,96" fill="none" stroke="#7e4630" stroke-width="17" stroke-linecap="butt"/>
<path d="M606,166 L624,166 C664,166 662,96 700,96 L714,96" fill="none" stroke="#b06c4c" stroke-width="12.92" stroke-linecap="butt" transform="translate(0,-1.4)"/>
<path d="M606,166 L624,166 C664,166 662,96 700,96 L714,96" fill="none" stroke="#d49878" stroke-width="6.8" stroke-linecap="butt" transform="translate(0,-2.4)" opacity="0.55"/>
<path d="M606,166 L624,166 C664,166 662,96 700,96 L714,96" fill="none" stroke="#ecb899" stroke-width="2.38" stroke-linecap="butt" transform="translate(0,-2.8)" opacity="0.45"/>
<path d="M606,204.6 L624,204.6 C664,204.6 662,134.6 700,134.6 L714,134.6" fill="none" stroke="#1a0a04" stroke-width="19.4" stroke-linecap="butt"/>
<path d="M606,204.6 L624,204.6 C664,204.6 662,134.6 700,134.6 L714,134.6" fill="none" stroke="#7e4630" stroke-width="17" stroke-linecap="butt"/>
<path d="M606,204.6 L624,204.6 C664,204.6 662,134.6 700,134.6 L714,134.6" fill="none" stroke="#b06c4c" stroke-width="12.92" stroke-linecap="butt" transform="translate(0,-1.4)"/>
<path d="M606,204.6 L624,204.6 C664,204.6 662,134.6 700,134.6 L714,134.6" fill="none" stroke="#d49878" stroke-width="6.8" stroke-linecap="butt" transform="translate(0,-2.4)" opacity="0.55"/>
<path d="M606,204.6 L624,204.6 C664,204.6 662,134.6 700,134.6 L714,134.6" fill="none" stroke="#ecb899" stroke-width="2.38" stroke-linecap="butt" transform="translate(0,-2.8)" opacity="0.45"/>
<path d="M606,243.2 L624,243.2 C664,243.2 662,173.2 700,173.2 L714,173.2" fill="none" stroke="#1a0a04" stroke-width="19.4" stroke-linecap="butt"/>
<path d="M606,243.2 L624,243.2 C664,243.2 662,173.2 700,173.2 L714,173.2" fill="none" stroke="#7e4630" stroke-width="17" stroke-linecap="butt"/>
<path d="M606,243.2 L624,243.2 C664,243.2 662,173.2 700,173.2 L714,173.2" fill="none" stroke="#b06c4c" stroke-width="12.92" stroke-linecap="butt" transform="translate(0,-1.4)"/>
<path d="M606,243.2 L624,243.2 C664,243.2 662,173.2 700,173.2 L714,173.2" fill="none" stroke="#d49878" stroke-width="6.8" stroke-linecap="butt" transform="translate(0,-2.4)" opacity="0.55"/>
<path d="M606,243.2 L624,243.2 C664,243.2 662,173.2 700,173.2 L714,173.2" fill="none" stroke="#ecb899" stroke-width="2.38" stroke-linecap="butt" transform="translate(0,-2.8)" opacity="0.45"/>
<path d="M606,281.8 L624,281.8 C664,281.8 662,211.8 700,211.8 L714,211.8" fill="none" stroke="#1a0a04" stroke-width="19.4" stroke-linecap="butt"/>
<path d="M606,281.8 L624,281.8 C664,281.8 662,211.8 700,211.8 L714,211.8" fill="none" stroke="#7e4630" stroke-width="17" stroke-linecap="butt"/>
<path d="M606,281.8 L624,281.8 C664,281.8 662,211.8 700,211.8 L714,211.8" fill="none" stroke="#b06c4c" stroke-width="12.92" stroke-linecap="butt" transform="translate(0,-1.4)"/>
<path d="M606,281.8 L624,281.8 C664,281.8 662,211.8 700,211.8 L714,211.8" fill="none" stroke="#d49878" stroke-width="6.8" stroke-linecap="butt" transform="translate(0,-2.4)" opacity="0.55"/>
<path d="M606,281.8 L624,281.8 C664,281.8 662,211.8 700,211.8 L714,211.8" fill="none" stroke="#ecb899" stroke-width="2.38" stroke-linecap="butt" transform="translate(0,-2.8)" opacity="0.45"/>
<path d="M606,320.4 L624,320.4 C664,320.4 662,250.4 700,250.4 L714,250.4" fill="none" stroke="#1a0a04" stroke-width="19.4" stroke-linecap="butt"/>
<path d="M606,320.4 L624,320.4 C664,320.4 662,250.4 700,250.4 L714,250.4" fill="none" stroke="#7e4630" stroke-width="17" stroke-linecap="butt"/>
<path d="M606,320.4 L624,320.4 C664,320.4 662,250.4 700,250.4 L714,250.4" fill="none" stroke="#b06c4c" stroke-width="12.92" stroke-linecap="butt" transform="translate(0,-1.4)"/>
<path d="M606,320.4 L624,320.4 C664,320.4 662,250.4 700,250.4 L714,250.4" fill="none" stroke="#d49878" stroke-width="6.8" stroke-linecap="butt" transform="translate(0,-2.4)" opacity="0.55"/>
<path d="M606,320.4 L624,320.4 C664,320.4 662,250.4 700,250.4 L714,250.4" fill="none" stroke="#ecb899" stroke-width="2.38" stroke-linecap="butt" transform="translate(0,-2.8)" opacity="0.45"/>
<path d="M606,359 L624,359 C664,359 662,289 700,289 L714,289" fill="none" stroke="#1a0a04" stroke-width="19.4" stroke-linecap="butt"/>
<path d="M606,359 L624,359 C664,359 662,289 700,289 L714,289" fill="none" stroke="#7e4630" stroke-width="17" stroke-linecap="butt"/>
<path d="M606,359 L624,359 C664,359 662,289 700,289 L714,289" fill="none" stroke="#b06c4c" stroke-width="12.92" stroke-linecap="butt" transform="translate(0,-1.4)"/>
<path d="M606,359 L624,359 C664,359 662,289 700,289 L714,289" fill="none" stroke="#d49878" stroke-width="6.8" stroke-linecap="butt" transform="translate(0,-2.4)" opacity="0.55"/>
<path d="M606,359 L624,359 C664,359 662,289 700,289 L714,289" fill="none" stroke="#ecb899" stroke-width="2.38" stroke-linecap="butt" transform="translate(0,-2.8)" opacity="0.45"/>
<path d="M606,397.6 L624,397.6 C664,397.6 662,327.6 700,327.6 L714,327.6" fill="none" stroke="#1a0a04" stroke-width="19.4" stroke-linecap="butt"/>
<path d="M606,397.6 L624,397.6 C664,397.6 662,327.6 700,327.6 L714,327.6" fill="none" stroke="#7e4630" stroke-width="17" stroke-linecap="butt"/>
<path d="M606,397.6 L624,397.6 C664,397.6 662,327.6 700,327.6 L714,327.6" fill="none" stroke="#b06c4c" stroke-width="12.92" stroke-linecap="butt" transform="translate(0,-1.4)"/>
<path d="M606,397.6 L624,397.6 C664,397.6 662,327.6 700,327.6 L714,327.6" fill="none" stroke="#d49878" stroke-width="6.8" stroke-linecap="butt" transform="translate(0,-2.4)" opacity="0.55"/>
<path d="M606,397.6 L624,397.6 C664,397.6 662,327.6 700,327.6 L714,327.6" fill="none" stroke="#ecb899" stroke-width="2.38" stroke-linecap="butt" transform="translate(0,-2.8)" opacity="0.45"/>
<path d="M606,436.2 L624,436.2 C664,436.2 662,366.2 700,366.2 L714,366.2" fill="none" stroke="#1a0a04" stroke-width="19.4" stroke-linecap="butt"/>
<path d="M606,436.2 L624,436.2 C664,436.2 662,366.2 700,366.2 L714,366.2" fill="none" stroke="#7e4630" stroke-width="17" stroke-linecap="butt"/>
<path d="M606,436.2 L624,436.2 C664,436.2 662,366.2 700,366.2 L714,366.2" fill="none" stroke="#b06c4c" stroke-width="12.92" stroke-linecap="butt" transform="translate(0,-1.4)"/>
<path d="M606,436.2 L624,436.2 C664,436.2 662,366.2 700,366.2 L714,366.2" fill="none" stroke="#d49878" stroke-width="6.8" stroke-linecap="butt" transform="translate(0,-2.4)" opacity="0.55"/>
<path d="M606,436.2 L624,436.2 C664,436.2 662,366.2 700,366.2 L714,366.2" fill="none" stroke="#ecb899" stroke-width="2.38" stroke-linecap="butt" transform="translate(0,-2.8)" opacity="0.45"/>
<path d="M606,474.8 L624,474.8 C664,474.8 662,404.8 700,404.8 L714,404.8" fill="none" stroke="#1a0a04" stroke-width="19.4" stroke-linecap="butt"/>
<path d="M606,474.8 L624,474.8 C664,474.8 662,404.8 700,404.8 L714,404.8" fill="none" stroke="#7e4630" stroke-width="17" stroke-linecap="butt"/>
<path d="M606,474.8 L624,474.8 C664,474.8 662,404.8 700,404.8 L714,404.8" fill="none" stroke="#b06c4c" stroke-width="12.92" stroke-linecap="butt" transform="translate(0,-1.4)"/>
<path d="M606,474.8 L624,474.8 C664,474.8 662,404.8 700,404.8 L714,404.8" fill="none" stroke="#d49878" stroke-width="6.8" stroke-linecap="butt" transform="translate(0,-2.4)" opacity="0.55"/>
<path d="M606,474.8 L624,474.8 C664,474.8 662,404.8 700,404.8 L714,404.8" fill="none" stroke="#ecb899" stroke-width="2.38" stroke-linecap="butt" transform="translate(0,-2.8)" opacity="0.45"/>
<path d="M606,513.4 L624,513.4 C664,513.4 662,443.4 700,443.4 L714,443.4" fill="none" stroke="#1a0a04" stroke-width="19.4" stroke-linecap="butt"/>
<path d="M606,513.4 L624,513.4 C664,513.4 662,443.4 700,443.4 L714,443.4" fill="none" stroke="#7e4630" stroke-width="17" stroke-linecap="butt"/>
<path d="M606,513.4 L624,513.4 C664,513.4 662,443.4 700,443.4 L714,443.4" fill="none" stroke="#b06c4c" stroke-width="12.92" stroke-linecap="butt" transform="translate(0,-1.4)"/>
<path d="M606,513.4 L624,513.4 C664,513.4 662,443.4 700,443.4 L714,443.4" fill="none" stroke="#d49878" stroke-width="6.8" stroke-linecap="butt" transform="translate(0,-2.4)" opacity="0.55"/>
<path d="M606,513.4 L624,513.4 C664,513.4 662,443.4 700,443.4 L714,443.4" fill="none" stroke="#ecb899" stroke-width="2.38" stroke-linecap="butt" transform="translate(0,-2.8)" opacity="0.45"/>
<path d="M606,552 L624,552 C664,552 662,482 700,482 L714,482" fill="none" stroke="#1a0a04" stroke-width="19.4" stroke-linecap="butt"/>
<path d="M606,552 L624,552 C664,552 662,482 700,482 L714,482" fill="none" stroke="#7e4630" stroke-width="17" stroke-linecap="butt"/>
<path d="M606,552 L624,552 C664,552 662,482 700,482 L714,482" fill="none" stroke="#b06c4c" stroke-width="12.92" stroke-linecap="butt" transform="translate(0,-1.4)"/>
<path d="M606,552 L624,552 C664,552 662,482 700,482 L714,482" fill="none" stroke="#d49878" stroke-width="6.8" stroke-linecap="butt" transform="translate(0,-2.4)" opacity="0.55"/>
<path d="M606,552 L624,552 C664,552 662,482 700,482 L714,482" fill="none" stroke="#ecb899" stroke-width="2.38" stroke-linecap="butt" transform="translate(0,-2.8)" opacity="0.45"/>
<path d="M606,590.6 L624,590.6 C664,590.6 662,520.6 700,520.6 L714,520.6" fill="none" stroke="#1a0a04" stroke-width="19.4" stroke-linecap="butt"/>
<path d="M606,590.6 L624,590.6 C664,590.6 662,520.6 700,520.6 L714,520.6" fill="none" stroke="#7e4630" stroke-width="17" stroke-linecap="butt"/>
<path d="M606,590.6 L624,590.6 C664,590.6 662,520.6 700,520.6 L714,520.6" fill="none" stroke="#b06c4c" stroke-width="12.92" stroke-linecap="butt" transform="translate(0,-1.4)"/>
<path d="M606,590.6 L624,590.6 C664,590.6 662,520.6 700,520.6 L714,520.6" fill="none" stroke="#d49878" stroke-width="6.8" stroke-linecap="butt" transform="translate(0,-2.4)" opacity="0.55"/>
<path d="M606,590.6 L624,590.6 C664,590.6 662,520.6 700,520.6 L714,520.6" fill="none" stroke="#ecb899" stroke-width="2.38" stroke-linecap="butt" transform="translate(0,-2.8)" opacity="0.45"/>
<path d="M606,629.2 L624,629.2 C664,629.2 662,559.2 700,559.2 L714,559.2" fill="none" stroke="#1a0a04" stroke-width="19.4" stroke-linecap="butt"/>
<path d="M606,629.2 L624,629.2 C664,629.2 662,559.2 700,559.2 L714,559.2" fill="none" stroke="#7e4630" stroke-width="17" stroke-linecap="butt"/>
<path d="M606,629.2 L624,629.2 C664,629.2 662,559.2 700,559.2 L714,559.2" fill="none" stroke="#b06c4c" stroke-width="12.92" stroke-linecap="butt" transform="translate(0,-1.4)"/>
<path d="M606,629.2 L624,629.2 C664,629.2 662,559.2 700,559.2 L714,559.2" fill="none" stroke="#d49878" stroke-width="6.8" stroke-linecap="butt" transform="translate(0,-2.4)" opacity="0.55"/>
<path d="M606,629.2 L624,629.2 C664,629.2 662,559.2 700,559.2 L714,559.2" fill="none" stroke="#ecb899" stroke-width="2.38" stroke-linecap="butt" transform="translate(0,-2.8)" opacity="0.45"/>
</g>
<path d="M610,197.6 L650,197.6 C672,197.6 684,176.6 702,176.6 L712,176.6" fill="none" stroke="#140800" stroke-width="1.6"/>
<path d="M610,502.4 L650,502.4 C672,502.4 684,523 702,523 L712,523" fill="none" stroke="#140800" stroke-width="1.6"/>
<line x1="628.2" y1="199" x2="628.2" y2="501" stroke="#3a1a0a" stroke-width="0.8" />
<line x1="702.5" y1="178" x2="702.5" y2="521" stroke="#3a1a0a" stroke-width="0.8" />
<path d="M574.2,198 C574.2,192 582,189 592.3,189 C602.6,189 610.5,192 610.5,198 L610.5,503 C610.5,509 602.6,512 592.3,512 C582,512 574.2,509 574.2,503 Z" fill="url(#ringF)" stroke="#151515" stroke-width="1.6" />
<path d="M574.2,198 C574.2,192 582,189 592.3,189 C602.6,189 610.5,192 610.5,198 L610.5,503 C610.5,509 602.6,512 592.3,512 C582,512 574.2,509 574.2,503 Z" fill="url(#shadeV)" stroke="none" stroke-width="0" />
<line x1="574.2" y1="200" x2="574.2" y2="500" stroke="#151515" stroke-width="1.2" />
<rect x="711.5" y="168.4" width="268.3" height="364" rx="0" fill="#222" stroke="#111" stroke-width="1.6" />
<rect x="711.5" y="168.4" width="268.3" height="5.6" rx="0" fill="url(#st0)" stroke="none" stroke-width="0" />
<rect x="711.5" y="175.2" width="268.3" height="17.2" rx="0" fill="url(#st1)" stroke="none" stroke-width="0" />
<rect x="711.5" y="195.6" width="268.3" height="28.2" rx="0" fill="url(#st2)" stroke="none" stroke-width="0" />
<rect x="711.5" y="227.6" width="268.3" height="36" rx="0" fill="url(#st3)" stroke="none" stroke-width="0" />
<rect x="711.5" y="268.8" width="268.3" height="42.2" rx="0" fill="url(#st4)" stroke="none" stroke-width="0" />
<rect x="711.5" y="317.2" width="268.3" height="42" rx="0" fill="url(#st5)" stroke="none" stroke-width="0" />
<rect x="711.5" y="365.6" width="268.3" height="42.8" rx="0" fill="url(#st6)" stroke="none" stroke-width="0" />
<rect x="711.5" y="414.2" width="268.3" height="38.6" rx="0" fill="url(#st7)" stroke="none" stroke-width="0" />
<rect x="711.5" y="458.4" width="268.3" height="32.4" rx="0" fill="url(#st8)" stroke="none" stroke-width="0" />
<rect x="711.5" y="493.8" width="268.3" height="24.2" rx="0" fill="url(#st9)" stroke="none" stroke-width="0" />
<rect x="711.5" y="520.4" width="268.3" height="11.9" rx="0" fill="url(#st10)" stroke="none" stroke-width="0" />
<rect x="711.5" y="174" width="268.3" height="1.2" rx="0" fill="#111" stroke="none" stroke-width="0" />
<line x1="711.5" y1="174" x2="979.8" y2="174" stroke="#111" stroke-width="1.5" />
<line x1="711.5" y1="175.2" x2="979.8" y2="175.2" stroke="#111" stroke-width="1.5" />
<rect x="711.5" y="192.4" width="268.3" height="3.2" rx="0" fill="#777" stroke="none" stroke-width="0" />
<line x1="711.5" y1="192.4" x2="979.8" y2="192.4" stroke="#111" stroke-width="1.5" />
<line x1="711.5" y1="195.6" x2="979.8" y2="195.6" stroke="#111" stroke-width="1.5" />
<rect x="711.5" y="223.8" width="268.3" height="3.8" rx="0" fill="#7a7a7a" stroke="none" stroke-width="0" />
<line x1="711.5" y1="223.8" x2="979.8" y2="223.8" stroke="#111" stroke-width="1.5" />
<line x1="711.5" y1="227.6" x2="979.8" y2="227.6" stroke="#111" stroke-width="1.5" />
<rect x="711.5" y="263.6" width="268.3" height="5.2" rx="0" fill="#3a3a3a" stroke="none" stroke-width="0" />
<line x1="711.5" y1="263.6" x2="979.8" y2="263.6" stroke="#111" stroke-width="1.5" />
<line x1="711.5" y1="268.8" x2="979.8" y2="268.8" stroke="#111" stroke-width="1.5" />
<rect x="711.5" y="311" width="268.3" height="6.2" rx="0" fill="#a8654a" stroke="none" stroke-width="0" />
<line x1="711.5" y1="311" x2="979.8" y2="311" stroke="#111" stroke-width="1.5" />
<line x1="711.5" y1="317.2" x2="979.8" y2="317.2" stroke="#111" stroke-width="1.5" />
<rect x="711.5" y="359.2" width="268.3" height="6.4" rx="0" fill="#a8654a" stroke="none" stroke-width="0" />
<line x1="711.5" y1="359.2" x2="979.8" y2="359.2" stroke="#111" stroke-width="1.5" />
<line x1="711.5" y1="365.6" x2="979.8" y2="365.6" stroke="#111" stroke-width="1.5" />
<rect x="711.5" y="408.4" width="268.3" height="5.8" rx="0" fill="#8a8a8a" stroke="none" stroke-width="0" />
<line x1="711.5" y1="408.4" x2="979.8" y2="408.4" stroke="#111" stroke-width="1.5" />
<line x1="711.5" y1="414.2" x2="979.8" y2="414.2" stroke="#111" stroke-width="1.5" />
<rect x="711.5" y="452.8" width="268.3" height="5.6" rx="0" fill="#9a9a9a" stroke="none" stroke-width="0" />
<line x1="711.5" y1="452.8" x2="979.8" y2="452.8" stroke="#111" stroke-width="1.5" />
<line x1="711.5" y1="458.4" x2="979.8" y2="458.4" stroke="#111" stroke-width="1.5" />
<rect x="711.5" y="490.8" width="268.3" height="3" rx="0" fill="#9a9a9a" stroke="none" stroke-width="0" />
<line x1="711.5" y1="490.8" x2="979.8" y2="490.8" stroke="#111" stroke-width="1.5" />
<line x1="711.5" y1="493.8" x2="979.8" y2="493.8" stroke="#111" stroke-width="1.5" />
<rect x="711.5" y="518" width="268.3" height="2.4" rx="0" fill="#8a8a8a" stroke="none" stroke-width="0" />
<line x1="711.5" y1="518" x2="979.8" y2="518" stroke="#111" stroke-width="1.5" />
<line x1="711.5" y1="520.4" x2="979.8" y2="520.4" stroke="#111" stroke-width="1.5" />
<line x1="711.5" y1="174.6" x2="979.8" y2="174.6" stroke="#111" stroke-width="2.4" />
<line x1="711.5" y1="264.5" x2="979.8" y2="264.5" stroke="#111" stroke-width="2.2" />
<line x1="711.5" y1="268.2" x2="979.8" y2="268.2" stroke="#111" stroke-width="2.0" />
<rect x="712.3" y="169.2" width="5.9" height="362.4" rx="0" fill="url(#cap)" stroke="none" stroke-width="0" />
<line x1="712.3" y1="174" x2="718.2" y2="174" stroke="#111" stroke-width="1.0" />
<line x1="712.3" y1="175.2" x2="718.2" y2="175.2" stroke="#111" stroke-width="1.0" />
<line x1="712.3" y1="192.4" x2="718.2" y2="192.4" stroke="#111" stroke-width="1.0" />
<line x1="712.3" y1="195.6" x2="718.2" y2="195.6" stroke="#111" stroke-width="1.0" />
<line x1="712.3" y1="223.8" x2="718.2" y2="223.8" stroke="#111" stroke-width="1.0" />
<line x1="712.3" y1="227.6" x2="718.2" y2="227.6" stroke="#111" stroke-width="1.0" />
<line x1="712.3" y1="263.6" x2="718.2" y2="263.6" stroke="#111" stroke-width="1.0" />
<line x1="712.3" y1="268.8" x2="718.2" y2="268.8" stroke="#111" stroke-width="1.0" />
<line x1="712.3" y1="311" x2="718.2" y2="311" stroke="#111" stroke-width="1.0" />
<line x1="712.3" y1="317.2" x2="718.2" y2="317.2" stroke="#111" stroke-width="1.0" />
<line x1="712.3" y1="359.2" x2="718.2" y2="359.2" stroke="#111" stroke-width="1.0" />
<line x1="712.3" y1="365.6" x2="718.2" y2="365.6" stroke="#111" stroke-width="1.0" />
<line x1="712.3" y1="408.4" x2="718.2" y2="408.4" stroke="#111" stroke-width="1.0" />
<line x1="712.3" y1="414.2" x2="718.2" y2="414.2" stroke="#111" stroke-width="1.0" />
<line x1="712.3" y1="452.8" x2="718.2" y2="452.8" stroke="#111" stroke-width="1.0" />
<line x1="712.3" y1="458.4" x2="718.2" y2="458.4" stroke="#111" stroke-width="1.0" />
<line x1="712.3" y1="490.8" x2="718.2" y2="490.8" stroke="#111" stroke-width="1.0" />
<line x1="712.3" y1="493.8" x2="718.2" y2="493.8" stroke="#111" stroke-width="1.0" />
<line x1="712.3" y1="518" x2="718.2" y2="518" stroke="#111" stroke-width="1.0" />
<line x1="712.3" y1="520.4" x2="718.2" y2="520.4" stroke="#111" stroke-width="1.0" />
<rect x="973.2" y="169.2" width="6" height="362.4" rx="0" fill="url(#cap)" stroke="none" stroke-width="0" />
<line x1="973.2" y1="174" x2="979.2" y2="174" stroke="#111" stroke-width="1.0" />
<line x1="973.2" y1="175.2" x2="979.2" y2="175.2" stroke="#111" stroke-width="1.0" />
<line x1="973.2" y1="192.4" x2="979.2" y2="192.4" stroke="#111" stroke-width="1.0" />
<line x1="973.2" y1="195.6" x2="979.2" y2="195.6" stroke="#111" stroke-width="1.0" />
<line x1="973.2" y1="223.8" x2="979.2" y2="223.8" stroke="#111" stroke-width="1.0" />
<line x1="973.2" y1="227.6" x2="979.2" y2="227.6" stroke="#111" stroke-width="1.0" />
<line x1="973.2" y1="263.6" x2="979.2" y2="263.6" stroke="#111" stroke-width="1.0" />
<line x1="973.2" y1="268.8" x2="979.2" y2="268.8" stroke="#111" stroke-width="1.0" />
<line x1="973.2" y1="311" x2="979.2" y2="311" stroke="#111" stroke-width="1.0" />
<line x1="973.2" y1="317.2" x2="979.2" y2="317.2" stroke="#111" stroke-width="1.0" />
<line x1="973.2" y1="359.2" x2="979.2" y2="359.2" stroke="#111" stroke-width="1.0" />
<line x1="973.2" y1="365.6" x2="979.2" y2="365.6" stroke="#111" stroke-width="1.0" />
<line x1="973.2" y1="408.4" x2="979.2" y2="408.4" stroke="#111" stroke-width="1.0" />
<line x1="973.2" y1="414.2" x2="979.2" y2="414.2" stroke="#111" stroke-width="1.0" />
<line x1="973.2" y1="452.8" x2="979.2" y2="452.8" stroke="#111" stroke-width="1.0" />
<line x1="973.2" y1="458.4" x2="979.2" y2="458.4" stroke="#111" stroke-width="1.0" />
<line x1="973.2" y1="490.8" x2="979.2" y2="490.8" stroke="#111" stroke-width="1.0" />
<line x1="973.2" y1="493.8" x2="979.2" y2="493.8" stroke="#111" stroke-width="1.0" />
<line x1="973.2" y1="518" x2="979.2" y2="518" stroke="#111" stroke-width="1.0" />
<line x1="973.2" y1="520.4" x2="979.2" y2="520.4" stroke="#111" stroke-width="1.0" />
<line x1="718.6" y1="168.4" x2="718.6" y2="532.3" stroke="#111" stroke-width="1.8" />
<line x1="972.8" y1="168.4" x2="972.8" y2="532.3" stroke="#111" stroke-width="1.8" />
<rect x="711.5" y="168.4" width="268.3" height="364" rx="0" fill="none" stroke="#111" stroke-width="1.8" />
<g clip-path="url(#bwclip)">
<rect x="1010" y="170" width="50" height="360" fill="#a46648"/>
<ellipse cx="1022" cy="300" rx="8" ry="5" fill="#c8c8c8"/>
<ellipse cx="1022" cy="340" rx="8" ry="5" fill="#c8c8c8"/>
<ellipse cx="1022" cy="383" rx="8" ry="5" fill="#c8c8c8"/>
<ellipse cx="1022" cy="425" rx="8" ry="5" fill="#c8c8c8"/>
<path d="M1046,160 L1046,540" fill="none" stroke="#1a0a04" stroke-width="18.4" stroke-linecap="butt"/>
<path d="M1046,160 L1046,540" fill="none" stroke="#7e4630" stroke-width="16" stroke-linecap="butt"/>
<path d="M1046,160 L1046,540" fill="none" stroke="#b06c4c" stroke-width="12.16" stroke-linecap="butt" transform="translate(0,-1.4)"/>
<path d="M1046,160 L1046,540" fill="none" stroke="#d49878" stroke-width="6.4" stroke-linecap="butt" transform="translate(0,-2.4)" opacity="0.55"/>
<path d="M1046,160 L1046,540" fill="none" stroke="#ecb899" stroke-width="2.24" stroke-linecap="butt" transform="translate(0,-2.8)" opacity="0.45"/>
<path d="M1006,161.5 C1034,161.5 1050,153.5 1052,127.5" fill="none" stroke="#1a0a04" stroke-width="20.4" stroke-linecap="butt"/>
<path d="M1006,161.5 C1034,161.5 1050,153.5 1052,127.5" fill="none" stroke="#7e4630" stroke-width="18" stroke-linecap="butt"/>
<path d="M1006,161.5 C1034,161.5 1050,153.5 1052,127.5" fill="none" stroke="#b06c4c" stroke-width="13.68" stroke-linecap="butt" transform="translate(0,-1.4)"/>
<path d="M1006,161.5 C1034,161.5 1050,153.5 1052,127.5" fill="none" stroke="#d49878" stroke-width="7.2" stroke-linecap="butt" transform="translate(0,-2.4)" opacity="0.55"/>
<path d="M1006,161.5 C1034,161.5 1050,153.5 1052,127.5" fill="none" stroke="#ecb899" stroke-width="2.52" stroke-linecap="butt" transform="translate(0,-2.8)" opacity="0.45"/>
<path d="M1006,202 C1034,202 1050,194 1052,168" fill="none" stroke="#1a0a04" stroke-width="20.4" stroke-linecap="butt"/>
<path d="M1006,202 C1034,202 1050,194 1052,168" fill="none" stroke="#7e4630" stroke-width="18" stroke-linecap="butt"/>
<path d="M1006,202 C1034,202 1050,194 1052,168" fill="none" stroke="#b06c4c" stroke-width="13.68" stroke-linecap="butt" transform="translate(0,-1.4)"/>
<path d="M1006,202 C1034,202 1050,194 1052,168" fill="none" stroke="#d49878" stroke-width="7.2" stroke-linecap="butt" transform="translate(0,-2.4)" opacity="0.55"/>
<path d="M1006,202 C1034,202 1050,194 1052,168" fill="none" stroke="#ecb899" stroke-width="2.52" stroke-linecap="butt" transform="translate(0,-2.8)" opacity="0.45"/>
<path d="M1006,242.5 C1034,242.5 1050,234.5 1052,208.5" fill="none" stroke="#1a0a04" stroke-width="20.4" stroke-linecap="butt"/>
<path d="M1006,242.5 C1034,242.5 1050,234.5 1052,208.5" fill="none" stroke="#7e4630" stroke-width="18" stroke-linecap="butt"/>
<path d="M1006,242.5 C1034,242.5 1050,234.5 1052,208.5" fill="none" stroke="#b06c4c" stroke-width="13.68" stroke-linecap="butt" transform="translate(0,-1.4)"/>
<path d="M1006,242.5 C1034,242.5 1050,234.5 1052,208.5" fill="none" stroke="#d49878" stroke-width="7.2" stroke-linecap="butt" transform="translate(0,-2.4)" opacity="0.55"/>
<path d="M1006,242.5 C1034,242.5 1050,234.5 1052,208.5" fill="none" stroke="#ecb899" stroke-width="2.52" stroke-linecap="butt" transform="translate(0,-2.8)" opacity="0.45"/>
<path d="M1006,283 C1034,283 1050,275 1052,249" fill="none" stroke="#1a0a04" stroke-width="20.4" stroke-linecap="butt"/>
<path d="M1006,283 C1034,283 1050,275 1052,249" fill="none" stroke="#7e4630" stroke-width="18" stroke-linecap="butt"/>
<path d="M1006,283 C1034,283 1050,275 1052,249" fill="none" stroke="#b06c4c" stroke-width="13.68" stroke-linecap="butt" transform="translate(0,-1.4)"/>
<path d="M1006,283 C1034,283 1050,275 1052,249" fill="none" stroke="#d49878" stroke-width="7.2" stroke-linecap="butt" transform="translate(0,-2.4)" opacity="0.55"/>
<path d="M1006,283 C1034,283 1050,275 1052,249" fill="none" stroke="#ecb899" stroke-width="2.52" stroke-linecap="butt" transform="translate(0,-2.8)" opacity="0.45"/>
<path d="M1006,323.5 C1034,323.5 1050,315.5 1052,289.5" fill="none" stroke="#1a0a04" stroke-width="20.4" stroke-linecap="butt"/>
<path d="M1006,323.5 C1034,323.5 1050,315.5 1052,289.5" fill="none" stroke="#7e4630" stroke-width="18" stroke-linecap="butt"/>
<path d="M1006,323.5 C1034,323.5 1050,315.5 1052,289.5" fill="none" stroke="#b06c4c" stroke-width="13.68" stroke-linecap="butt" transform="translate(0,-1.4)"/>
<path d="M1006,323.5 C1034,323.5 1050,315.5 1052,289.5" fill="none" stroke="#d49878" stroke-width="7.2" stroke-linecap="butt" transform="translate(0,-2.4)" opacity="0.55"/>
<path d="M1006,323.5 C1034,323.5 1050,315.5 1052,289.5" fill="none" stroke="#ecb899" stroke-width="2.52" stroke-linecap="butt" transform="translate(0,-2.8)" opacity="0.45"/>
<path d="M1006,364 C1034,364 1050,356 1052,330" fill="none" stroke="#1a0a04" stroke-width="20.4" stroke-linecap="butt"/>
<path d="M1006,364 C1034,364 1050,356 1052,330" fill="none" stroke="#7e4630" stroke-width="18" stroke-linecap="butt"/>
<path d="M1006,364 C1034,364 1050,356 1052,330" fill="none" stroke="#b06c4c" stroke-width="13.68" stroke-linecap="butt" transform="translate(0,-1.4)"/>
<path d="M1006,364 C1034,364 1050,356 1052,330" fill="none" stroke="#d49878" stroke-width="7.2" stroke-linecap="butt" transform="translate(0,-2.4)" opacity="0.55"/>
<path d="M1006,364 C1034,364 1050,356 1052,330" fill="none" stroke="#ecb899" stroke-width="2.52" stroke-linecap="butt" transform="translate(0,-2.8)" opacity="0.45"/>
<path d="M1006,404.5 C1034,404.5 1050,396.5 1052,370.5" fill="none" stroke="#1a0a04" stroke-width="20.4" stroke-linecap="butt"/>
<path d="M1006,404.5 C1034,404.5 1050,396.5 1052,370.5" fill="none" stroke="#7e4630" stroke-width="18" stroke-linecap="butt"/>
<path d="M1006,404.5 C1034,404.5 1050,396.5 1052,370.5" fill="none" stroke="#b06c4c" stroke-width="13.68" stroke-linecap="butt" transform="translate(0,-1.4)"/>
<path d="M1006,404.5 C1034,404.5 1050,396.5 1052,370.5" fill="none" stroke="#d49878" stroke-width="7.2" stroke-linecap="butt" transform="translate(0,-2.4)" opacity="0.55"/>
<path d="M1006,404.5 C1034,404.5 1050,396.5 1052,370.5" fill="none" stroke="#ecb899" stroke-width="2.52" stroke-linecap="butt" transform="translate(0,-2.8)" opacity="0.45"/>
<path d="M1006,445 C1034,445 1050,437 1052,411" fill="none" stroke="#1a0a04" stroke-width="20.4" stroke-linecap="butt"/>
<path d="M1006,445 C1034,445 1050,437 1052,411" fill="none" stroke="#7e4630" stroke-width="18" stroke-linecap="butt"/>
<path d="M1006,445 C1034,445 1050,437 1052,411" fill="none" stroke="#b06c4c" stroke-width="13.68" stroke-linecap="butt" transform="translate(0,-1.4)"/>
<path d="M1006,445 C1034,445 1050,437 1052,411" fill="none" stroke="#d49878" stroke-width="7.2" stroke-linecap="butt" transform="translate(0,-2.4)" opacity="0.55"/>
<path d="M1006,445 C1034,445 1050,437 1052,411" fill="none" stroke="#ecb899" stroke-width="2.52" stroke-linecap="butt" transform="translate(0,-2.8)" opacity="0.45"/>
<path d="M1006,485.5 C1034,485.5 1050,477.5 1052,451.5" fill="none" stroke="#1a0a04" stroke-width="20.4" stroke-linecap="butt"/>
<path d="M1006,485.5 C1034,485.5 1050,477.5 1052,451.5" fill="none" stroke="#7e4630" stroke-width="18" stroke-linecap="butt"/>
<path d="M1006,485.5 C1034,485.5 1050,477.5 1052,451.5" fill="none" stroke="#b06c4c" stroke-width="13.68" stroke-linecap="butt" transform="translate(0,-1.4)"/>
<path d="M1006,485.5 C1034,485.5 1050,477.5 1052,451.5" fill="none" stroke="#d49878" stroke-width="7.2" stroke-linecap="butt" transform="translate(0,-2.4)" opacity="0.55"/>
<path d="M1006,485.5 C1034,485.5 1050,477.5 1052,451.5" fill="none" stroke="#ecb899" stroke-width="2.52" stroke-linecap="butt" transform="translate(0,-2.8)" opacity="0.45"/>
<path d="M1006,526 C1034,526 1050,518 1052,492" fill="none" stroke="#1a0a04" stroke-width="20.4" stroke-linecap="butt"/>
<path d="M1006,526 C1034,526 1050,518 1052,492" fill="none" stroke="#7e4630" stroke-width="18" stroke-linecap="butt"/>
<path d="M1006,526 C1034,526 1050,518 1052,492" fill="none" stroke="#b06c4c" stroke-width="13.68" stroke-linecap="butt" transform="translate(0,-1.4)"/>
<path d="M1006,526 C1034,526 1050,518 1052,492" fill="none" stroke="#d49878" stroke-width="7.2" stroke-linecap="butt" transform="translate(0,-2.4)" opacity="0.55"/>
<path d="M1006,526 C1034,526 1050,518 1052,492" fill="none" stroke="#ecb899" stroke-width="2.52" stroke-linecap="butt" transform="translate(0,-2.8)" opacity="0.45"/>
<path d="M1006,566.5 C1034,566.5 1050,558.5 1052,532.5" fill="none" stroke="#1a0a04" stroke-width="20.4" stroke-linecap="butt"/>
<path d="M1006,566.5 C1034,566.5 1050,558.5 1052,532.5" fill="none" stroke="#7e4630" stroke-width="18" stroke-linecap="butt"/>
<path d="M1006,566.5 C1034,566.5 1050,558.5 1052,532.5" fill="none" stroke="#b06c4c" stroke-width="13.68" stroke-linecap="butt" transform="translate(0,-1.4)"/>
<path d="M1006,566.5 C1034,566.5 1050,558.5 1052,532.5" fill="none" stroke="#d49878" stroke-width="7.2" stroke-linecap="butt" transform="translate(0,-2.4)" opacity="0.55"/>
<path d="M1006,566.5 C1034,566.5 1050,558.5 1052,532.5" fill="none" stroke="#ecb899" stroke-width="2.52" stroke-linecap="butt" transform="translate(0,-2.8)" opacity="0.45"/>
</g>
<path d="M1011,177 L1030,177 C1046,177 1055.4,190 1055.4,206 L1055.4,494 C1055.4,510 1046,522.3 1030,522.3 L1011,522.3" fill="none" stroke="#140800" stroke-width="1.6"/>
<rect x="982" y="168.4" width="30.5" height="364" rx="4" fill="url(#ringB)" stroke="#151515" stroke-width="1.6" />
<rect x="982" y="168.4" width="30.5" height="364" rx="4" fill="url(#shadeV2)" stroke="none" stroke-width="0" />
<rect x="1055.8" y="307.6" width="15" height="85.4" rx="2" fill="url(#metal)" stroke="#151515" stroke-width="1.3" />
<rect x="1070.4" y="265" width="49.3" height="170.6" rx="3" fill="url(#bear)" stroke="#151515" stroke-width="1.8" />
<line x1="95.3" y1="51" x2="95.3" y2="286" stroke="#66668e" stroke-width="0.9" />
<line x1="1119.5" y1="52" x2="1119.5" y2="265" stroke="#66668e" stroke-width="0.9" />
<line x1="711.5" y1="85" x2="711.5" y2="168" stroke="#66668e" stroke-width="0.9" />
<line x1="979.5" y1="85" x2="979.5" y2="168" stroke="#66668e" stroke-width="0.9" />
<line x1="400.5" y1="117.5" x2="400.5" y2="251" stroke="#66668e" stroke-width="0.9" />
<line x1="409.25" y1="117.5" x2="409.25" y2="240" stroke="#66668e" stroke-width="0.9" />
<line x1="364" y1="151" x2="364" y2="277" stroke="#66668e" stroke-width="0.9" />
<line x1="284.3" y1="184.4" x2="284.3" y2="284" stroke="#66668e" stroke-width="0.9" />
<line x1="236.2" y1="218" x2="236.2" y2="286" stroke="#66668e" stroke-width="0.9" />
<line x1="562" y1="117.5" x2="562" y2="204" stroke="#66668e" stroke-width="0.9" />
<line x1="574.25" y1="117.5" x2="574.25" y2="190" stroke="#66668e" stroke-width="0.9" />
<line x1="610.25" y1="117.5" x2="610.25" y2="190" stroke="#66668e" stroke-width="0.9" />
<line x1="982" y1="117.5" x2="982" y2="168" stroke="#66668e" stroke-width="0.9" />
<line x1="1012.5" y1="117.5" x2="1012.5" y2="168" stroke="#66668e" stroke-width="0.9" />
<line x1="1070.5" y1="227.5" x2="1070.5" y2="265" stroke="#66668e" stroke-width="0.9" />
<line x1="562" y1="497" x2="562" y2="607.5" stroke="#66668e" stroke-width="0.9" />
<line x1="1055.3" y1="522" x2="1055.3" y2="606.8" stroke="#66668e" stroke-width="0.9" />
<line x1="524" y1="204.3" x2="562" y2="204.3" stroke="#66668e" stroke-width="0.9" />
<line x1="524" y1="496.5" x2="562" y2="496.5" stroke="#66668e" stroke-width="0.9" />
<line x1="1119.7" y1="265" x2="1171" y2="265" stroke="#66668e" stroke-width="0.9" />
<line x1="1119.7" y1="435.6" x2="1171" y2="435.6" stroke="#66668e" stroke-width="0.9" />
<line x1="1012.5" y1="168" x2="1215.5" y2="168" stroke="#66668e" stroke-width="0.9" />
<line x1="1012.5" y1="533.4" x2="1216" y2="533.4" stroke="#66668e" stroke-width="0.9" />
<line x1="95.3" y1="60.5" x2="1119.5" y2="60.5" stroke="#5a5a7e" stroke-width="1.0" />
<polygon points="95.3,60.5 112.8,57.4 112.8,63.6" fill="#06067a"/>
<polygon points="1119.5,60.5 1102,63.6 1102,57.4" fill="#06067a"/>
<text x="608.3" y="55.8" font-family="&quot;Liberation Sans&quot;, sans-serif" font-size="24" text-anchor="middle" fill="#0c0c5e" >168</text>
<line x1="95.3" y1="93.25" x2="979.5" y2="93.25" stroke="#5a5a7e" stroke-width="1.0" />
<polygon points="95.3,93.25 112.8,90.15 112.8,96.35" fill="#06067a"/>
<polygon points="711.5,93.25 694,96.35 694,90.15" fill="#06067a"/>
<polygon points="711.5,93.25 729,90.15 729,96.35" fill="#06067a"/>
<polygon points="979.5,93.25 962,96.35 962,90.15" fill="#06067a"/>
<text x="403" y="89" font-family="&quot;Liberation Sans&quot;, sans-serif" font-size="24" text-anchor="middle" fill="#0c0c5e" >101</text>
<text x="845" y="89" font-family="&quot;Liberation Sans&quot;, sans-serif" font-size="24" text-anchor="middle" fill="#0c0c5e" >44</text>
<line x1="95.3" y1="126.25" x2="400.5" y2="126.25" stroke="#5a5a7e" stroke-width="1.0" />
<polygon points="95.3,126.25 112.8,123.15 112.8,129.35" fill="#06067a"/>
<polygon points="400.5,126.25 383,129.35 383,123.15" fill="#06067a"/>
<text x="247.8" y="122.4" font-family="&quot;Liberation Sans&quot;, sans-serif" font-size="24" text-anchor="middle" fill="#0c0c5e" >50</text>
<line x1="409.25" y1="126.25" x2="562" y2="126.25" stroke="#5a5a7e" stroke-width="1.0" />
<polygon points="409.25,126.25 426.75,123.15 426.75,129.35" fill="#06067a"/>
<polygon points="562,126.25 544.5,129.35 544.5,123.15" fill="#06067a"/>
<text x="485.5" y="122" font-family="&quot;Liberation Sans&quot;, sans-serif" font-size="24" text-anchor="middle" fill="#0c0c5e" >25</text>
<line x1="574.25" y1="126.25" x2="610.25" y2="126.25" stroke="#5a5a7e" stroke-width="1.0" />
<polygon points="574.25,126.25 591.25,123.15 591.25,129.35" fill="#06067a"/>
<polygon points="610.25,126.25 593.25,129.35 593.25,123.15" fill="#06067a"/>
<text x="592.5" y="122" font-family="&quot;Liberation Sans&quot;, sans-serif" font-size="24" text-anchor="middle" fill="#0c0c5e" >6</text>
<line x1="964.5" y1="126.25" x2="1047" y2="126.25" stroke="#5a5a7e" stroke-width="1.0" />
<polygon points="982,126.25 964.5,129.35 964.5,123.15" fill="#06067a"/>
<polygon points="1012.5,126.25 1030,123.15 1030,129.35" fill="#06067a"/>
<text x="997.4" y="122" font-family="&quot;Liberation Sans&quot;, sans-serif" font-size="24" text-anchor="middle" fill="#0c0c5e" >5</text>
<line x1="95.3" y1="159.25" x2="462.5" y2="159.25" stroke="#5a5a7e" stroke-width="1.0" />
<polygon points="95.3,159.25 112.8,156.15 112.8,162.35" fill="#06067a"/>
<polygon points="364,159.25 346.5,162.35 346.5,156.15" fill="#06067a"/>
<polygon points="400.5,159.25 383,162.35 383,156.15" fill="#06067a"/>
<polygon points="409.25,159.25 426.75,156.15 426.75,162.35" fill="#06067a"/>
<text x="229.5" y="154.6" font-family="&quot;Liberation Sans&quot;, sans-serif" font-size="24" text-anchor="middle" fill="#0c0c5e" >44</text>
<text x="424.5" y="155" font-family="&quot;Liberation Sans&quot;, sans-serif" font-size="24" text-anchor="start" fill="#0c0c5e" >1,5</text>
<line x1="95.3" y1="193" x2="284.3" y2="193" stroke="#5a5a7e" stroke-width="1.0" />
<polygon points="95.3,193 112.8,189.9 112.8,196.1" fill="#06067a"/>
<polygon points="284.3,193 266.8,196.1 266.8,189.9" fill="#06067a"/>
<text x="188.9" y="189" font-family="&quot;Liberation Sans&quot;, sans-serif" font-size="24" text-anchor="middle" fill="#0c0c5e" >31</text>
<line x1="95.3" y1="226.8" x2="236.2" y2="226.8" stroke="#5a5a7e" stroke-width="1.0" />
<polygon points="95.3,226.8 112.8,223.7 112.8,229.9" fill="#06067a"/>
<polygon points="236.2,226.8 218.7,229.9 218.7,223.7" fill="#06067a"/>
<text x="165.8" y="222.2" font-family="&quot;Liberation Sans&quot;, sans-serif" font-size="24" text-anchor="middle" fill="#0c0c5e" >23</text>
<line x1="1070.5" y1="235.5" x2="1119.5" y2="235.5" stroke="#5a5a7e" stroke-width="1.0" />
<polygon points="1070.5,235.5 1087.5,232.4 1087.5,238.6" fill="#06067a"/>
<polygon points="1119.5,235.5 1102.5,238.6 1102.5,232.4" fill="#06067a"/>
<text x="1094.6" y="231" font-family="&quot;Liberation Sans&quot;, sans-serif" font-size="24" text-anchor="middle" fill="#0c0c5e" >8</text>
<line x1="562" y1="598.5" x2="1055.3" y2="598.5" stroke="#5a5a7e" stroke-width="1.0" />
<polygon points="562,598.5 579.5,595.4 579.5,601.6" fill="#06067a"/>
<polygon points="1055.3,598.5 1037.8,601.6 1037.8,595.4" fill="#06067a"/>
<path d="M792.8,577.5 Q788.3,586 792.8,595" fill="none" stroke="#0c0c5e" stroke-width="1.3"/>
<text x="809.3" y="594.5" font-family="&quot;Liberation Sans&quot;, sans-serif" font-size="24" text-anchor="middle" fill="#0c0c5e" >81</text>
<path d="M825.2,577.5 Q829.7,586 825.2,595" fill="none" stroke="#0c0c5e" stroke-width="1.3"/>
<line x1="634.6" y1="661.5" x2="932" y2="661.5" stroke="#5a5a7e" stroke-width="1.0" />
<polygon points="800,661.5 817.5,658.4 817.5,664.6" fill="#06067a"/>
<polygon points="932,661.5 914.5,664.6 914.5,658.4" fill="#06067a"/>
<line x1="800" y1="653" x2="800" y2="760" stroke="#66668e" stroke-width="0.9" />
<line x1="932" y1="653" x2="932" y2="745" stroke="#66668e" stroke-width="0.9" />
<g transform="translate(651,647.8) rotate(0) scale(1)"><ellipse cx="0" cy="0" rx="7.3" ry="7.3" fill="none" stroke="#0c0c5e" stroke-width="1.7"/><line x1="3.2" y1="-11.5" x2="-3" y2="11.5" stroke="#0c0c5e" stroke-width="1.7"/></g>
<text x="670" y="657.7" font-family="&quot;Liberation Sans&quot;, sans-serif" font-size="24" text-anchor="start" fill="#0c0c5e" letter-spacing="0.3">21,7</text>
<text x="729" y="657.7" font-family="&quot;Liberation Sans&quot;, sans-serif" font-size="24" text-anchor="start" fill="#0c0c5e" >Z=12</text>
<line x1="323.3" y1="249" x2="323.3" y2="506.6" stroke="#5a5a7e" stroke-width="1.0" />
<polygon points="323.3,283.3 320.2,265.8 326.4,265.8" fill="#06067a"/>
<polygon points="323.3,417.6 326.4,435.1 320.2,435.1" fill="#06067a"/>
<g transform="translate(319.7,490.7) rotate(-90)"><ellipse cx="0" cy="-10.3" rx="7.1" ry="7.1" fill="none" stroke="#0c0c5e" stroke-width="1.8"/><line x1="-3.3" y1="-21.5" x2="3.4" y2="0.9" stroke="#0c0c5e" stroke-width="1.8"/><text x="21" y="0" font-family="&quot;Liberation Sans&quot;, sans-serif" font-size="24" fill="#0c0c5e" textLength="24.8" lengthAdjust="spacingAndGlyphs">22</text></g>
<line x1="382.5" y1="243" x2="382.5" y2="508.6" stroke="#5a5a7e" stroke-width="1.0" />
<polygon points="382.5,277.5 379.4,260 385.6,260" fill="#06067a"/>
<polygon points="382.5,424 385.6,441.5 379.4,441.5" fill="#06067a"/>
<g transform="translate(378.9,492.7) rotate(-90)"><ellipse cx="0" cy="-10.3" rx="7.1" ry="7.1" fill="none" stroke="#0c0c5e" stroke-width="1.8"/><line x1="-3.3" y1="-21.5" x2="3.4" y2="0.9" stroke="#0c0c5e" stroke-width="1.8"/><text x="21" y="0" font-family="&quot;Liberation Sans&quot;, sans-serif" font-size="24" fill="#0c0c5e" textLength="24.8" lengthAdjust="spacingAndGlyphs">24</text></g>
<line x1="483" y1="206" x2="483" y2="540.6" stroke="#5a5a7e" stroke-width="1.0" />
<polygon points="483,240 479.9,222.5 486.1,222.5" fill="#06067a"/>
<polygon points="483,460.5 486.1,478 479.9,478" fill="#06067a"/>
<g transform="translate(479.4,524.7) rotate(-90)"><ellipse cx="0" cy="-10.3" rx="7.1" ry="7.1" fill="none" stroke="#0c0c5e" stroke-width="1.8"/><line x1="-3.3" y1="-21.5" x2="3.4" y2="0.9" stroke="#0c0c5e" stroke-width="1.8"/><text x="21" y="0" font-family="&quot;Liberation Sans&quot;, sans-serif" font-size="24" fill="#0c0c5e" textLength="24.8" lengthAdjust="spacingAndGlyphs">36</text></g>
<line x1="532.3" y1="204.3" x2="532.3" y2="573" stroke="#5a5a7e" stroke-width="1.0" />
<polygon points="532.3,204.3 535.4,221.8 529.2,221.8" fill="#06067a"/>
<polygon points="532.3,496.5 529.2,479 535.4,479" fill="#06067a"/>
<g transform="translate(528.7,558.5) rotate(-90)"><ellipse cx="0" cy="-10.3" rx="7.1" ry="7.1" fill="none" stroke="#0c0c5e" stroke-width="1.8"/><line x1="-3.3" y1="-21.5" x2="3.4" y2="0.9" stroke="#0c0c5e" stroke-width="1.8"/><text x="21" y="0" font-family="&quot;Liberation Sans&quot;, sans-serif" font-size="24" fill="#0c0c5e" textLength="24.8" lengthAdjust="spacingAndGlyphs">48</text></g>
<line x1="592.2" y1="155" x2="592.2" y2="587.8" stroke="#5a5a7e" stroke-width="1.0" />
<polygon points="592.2,189 589.1,171.5 595.3,171.5" fill="#06067a"/>
<polygon points="592.2,512.5 595.3,530 589.1,530" fill="#06067a"/>
<g transform="translate(588.6,572.5) rotate(-90)"><ellipse cx="0" cy="-10.3" rx="7.1" ry="7.1" fill="none" stroke="#0c0c5e" stroke-width="1.8"/><line x1="-3.3" y1="-21.5" x2="3.4" y2="0.9" stroke="#0c0c5e" stroke-width="1.8"/><text x="21" y="0" font-family="&quot;Liberation Sans&quot;, sans-serif" font-size="24" fill="#0c0c5e" textLength="24.8" lengthAdjust="spacingAndGlyphs">53</text></g>
<line x1="1162.7" y1="265" x2="1162.7" y2="435.6" stroke="#5a5a7e" stroke-width="1.0" />
<polygon points="1162.7,265 1165.8,282.5 1159.6,282.5" fill="#06067a"/>
<polygon points="1162.7,435.6 1159.6,418.1 1165.8,418.1" fill="#06067a"/>
<g transform="translate(1159.1,369.8) rotate(-90)"><ellipse cx="0" cy="-10.3" rx="7.1" ry="7.1" fill="none" stroke="#0c0c5e" stroke-width="1.8"/><line x1="-3.3" y1="-21.5" x2="3.4" y2="0.9" stroke="#0c0c5e" stroke-width="1.8"/><text x="21" y="0" font-family="&quot;Liberation Sans&quot;, sans-serif" font-size="24" fill="#0c0c5e" textLength="24.8" lengthAdjust="spacingAndGlyphs">28</text></g>
<line x1="1207.7" y1="168" x2="1207.7" y2="533.4" stroke="#5a5a7e" stroke-width="1.0" />
<polygon points="1207.7,168 1210.8,185.5 1204.6,185.5" fill="#06067a"/>
<polygon points="1207.7,533.4 1204.6,515.9 1210.8,515.9" fill="#06067a"/>
<g transform="translate(1204.1,369.8) rotate(-90)"><ellipse cx="0" cy="-10.3" rx="7.1" ry="7.1" fill="none" stroke="#0c0c5e" stroke-width="1.8"/><line x1="-3.3" y1="-21.5" x2="3.4" y2="0.9" stroke="#0c0c5e" stroke-width="1.8"/><text x="21" y="0" font-family="&quot;Liberation Sans&quot;, sans-serif" font-size="24" fill="#0c0c5e" textLength="24.8" lengthAdjust="spacingAndGlyphs">60</text></g>
<polyline points="1103.8,437 1223.2,644.1 1194,644.1" fill="none" stroke="#5a5a7e" stroke-width="1"/>
<polygon points="1103.8,437 1115.23,450.61 1109.86,453.71" fill="#06067a"/>
<text x="1001.5" y="652.4" font-family="&quot;Liberation Sans&quot;, sans-serif" font-size="23.6" text-anchor="start" fill="#0c0c5e" >Łożysko 6001 RS</text>
<line x1="131.7" y1="242.4" x2="131.7" y2="275.6" stroke="#06067a" stroke-width="2.4" />
<line x1="131.7" y1="259" x2="175.3" y2="259" stroke="#06067a" stroke-width="1.8" />
<polygon points="131.7,259 154.7,254.8 154.7,263.2" fill="#06067a"/>
<text x="182.3" y="267.3" font-family="&quot;Liberation Serif&quot;, serif" font-size="22.5" text-anchor="start" fill="#0c0c5e" stroke="#0c0c5e" stroke-width="0.25">A</text>
<line x1="131.7" y1="423.4" x2="131.7" y2="456.6" stroke="#06067a" stroke-width="2.4" />
<line x1="131.7" y1="440" x2="175.3" y2="440" stroke="#06067a" stroke-width="1.8" />
<polygon points="131.7,440 154.7,435.8 154.7,444.2" fill="#06067a"/>
<text x="182.3" y="448.3" font-family="&quot;Liberation Serif&quot;, serif" font-size="22.5" text-anchor="start" fill="#0c0c5e" stroke="#0c0c5e" stroke-width="0.25">A</text>
<line x1="131.7" y1="276" x2="131.7" y2="423" stroke="#6a6a9a" stroke-width="0.8" stroke-dasharray="12,3,3,3"/>
<line x1="86" y1="350.3" x2="1128" y2="350.3" stroke="#3a3a8a" stroke-width="1.0" stroke-dasharray="40,6,4,6"/>
<g transform="translate(40,832.5) rotate(-10.77)">
<path d="M535.68,-51 L562.46,-51 A20.4,51 0 0 1 562.46,51 L535.68,51 Z" fill="#888" stroke="#111" stroke-width="1.2"/>
<polygon points="535.68,-51 562.46,-51 563.8,-50.89 537.01,-50.89" fill="#7b7b7b" stroke="#7b7b7b" stroke-width="0.6"/>
<polygon points="537.01,-50.89 563.8,-50.89 565.13,-50.57 538.34,-50.57" fill="#828282" stroke="#828282" stroke-width="0.6"/>
<polygon points="538.34,-50.57 565.13,-50.57 566.44,-50.02 539.66,-50.02" fill="#898989" stroke="#898989" stroke-width="0.6"/>
<polygon points="539.66,-50.02 566.44,-50.02 567.74,-49.26 540.96,-49.26" fill="#909090" stroke="#909090" stroke-width="0.6"/>
<polygon points="540.96,-49.26 567.74,-49.26 569.02,-48.3 542.24,-48.3" fill="#969696" stroke="#969696" stroke-width="0.6"/>
<polygon points="542.24,-48.3 569.02,-48.3 570.27,-47.12 543.49,-47.12" fill="#9d9d9d" stroke="#9d9d9d" stroke-width="0.6"/>
<polygon points="543.49,-47.12 570.27,-47.12 571.49,-45.74 544.7,-45.74" fill="#a4a4a4" stroke="#a4a4a4" stroke-width="0.6"/>
<polygon points="544.7,-45.74 571.49,-45.74 572.66,-44.17 545.88,-44.17" fill="#a9a9a9" stroke="#a9a9a9" stroke-width="0.6"/>
<polygon points="545.88,-44.17 572.66,-44.17 573.8,-42.41 547.01,-42.41" fill="#adadad" stroke="#adadad" stroke-width="0.6"/>
<polygon points="547.01,-42.41 573.8,-42.41 574.88,-40.46 548.1,-40.46" fill="#b1b1b1" stroke="#b1b1b1" stroke-width="0.6"/>
<polygon points="548.1,-40.46 574.88,-40.46 575.91,-38.35 549.13,-38.35" fill="#b6b6b6" stroke="#b6b6b6" stroke-width="0.6"/>
<polygon points="549.13,-38.35 575.91,-38.35 576.89,-36.06 550.1,-36.06" fill="#bababa" stroke="#bababa" stroke-width="0.6"/>
<polygon points="550.1,-36.06 576.89,-36.06 577.8,-33.63 551.02,-33.63" fill="#bfbfbf" stroke="#bfbfbf" stroke-width="0.6"/>
<polygon points="551.02,-33.63 577.8,-33.63 578.65,-31.05 551.86,-31.05" fill="#c3c3c3" stroke="#c3c3c3" stroke-width="0.6"/>
<polygon points="551.86,-31.05 578.65,-31.05 579.42,-28.34 552.64,-28.34" fill="#c7c7c7" stroke="#c7c7c7" stroke-width="0.6"/>
<polygon points="552.64,-28.34 579.42,-28.34 580.13,-25.5 553.35,-25.5" fill="#cdcdcd" stroke="#cdcdcd" stroke-width="0.6"/>
<polygon points="553.35,-25.5 580.13,-25.5 580.76,-22.56 553.97,-22.56" fill="#d2d2d2" stroke="#d2d2d2" stroke-width="0.6"/>
<polygon points="553.97,-22.56 580.76,-22.56 581.31,-19.52 554.53,-19.52" fill="#d8d8d8" stroke="#d8d8d8" stroke-width="0.6"/>
<polygon points="554.53,-19.52 581.31,-19.52 581.78,-16.39 555,-16.39" fill="#dedede" stroke="#dedede" stroke-width="0.6"/>
<polygon points="555,-16.39 581.78,-16.39 582.17,-13.2 555.38,-13.2" fill="#e4e4e4" stroke="#e4e4e4" stroke-width="0.6"/>
<polygon points="555.38,-13.2 582.17,-13.2 582.47,-9.95 555.69,-9.95" fill="#e9e9e9" stroke="#e9e9e9" stroke-width="0.6"/>
<polygon points="555.69,-9.95 582.47,-9.95 582.69,-6.66 555.9,-6.66" fill="#eeeeee" stroke="#eeeeee" stroke-width="0.6"/>
<polygon points="555.9,-6.66 582.69,-6.66 582.82,-3.34 556.03,-3.34" fill="#ebebeb" stroke="#ebebeb" stroke-width="0.6"/>
<polygon points="556.03,-3.34 582.82,-3.34 582.86,-0 556.08,-0" fill="#e9e9e9" stroke="#e9e9e9" stroke-width="0.6"/>
<polygon points="556.08,-0 582.86,-0 582.82,3.34 556.03,3.34" fill="#e6e6e6" stroke="#e6e6e6" stroke-width="0.6"/>
<polygon points="556.03,3.34 582.82,3.34 582.69,6.66 555.9,6.66" fill="#e4e4e4" stroke="#e4e4e4" stroke-width="0.6"/>
<polygon points="555.9,6.66 582.69,6.66 582.47,9.95 555.69,9.95" fill="#e1e1e1" stroke="#e1e1e1" stroke-width="0.6"/>
<polygon points="555.69,9.95 582.47,9.95 582.17,13.2 555.38,13.2" fill="#d8d8d8" stroke="#d8d8d8" stroke-width="0.6"/>
<polygon points="555.38,13.2 582.17,13.2 581.78,16.39 555,16.39" fill="#cccccc" stroke="#cccccc" stroke-width="0.6"/>
<polygon points="555,16.39 581.78,16.39 581.31,19.52 554.53,19.52" fill="#c1c1c1" stroke="#c1c1c1" stroke-width="0.6"/>
<polygon points="554.53,19.52 581.31,19.52 580.76,22.56 553.97,22.56" fill="#b6b6b6" stroke="#b6b6b6" stroke-width="0.6"/>
<polygon points="553.97,22.56 580.76,22.56 580.13,25.5 553.35,25.5" fill="#ababab" stroke="#ababab" stroke-width="0.6"/>
<polygon points="553.35,25.5 580.13,25.5 579.42,28.34 552.64,28.34" fill="#9f9f9f" stroke="#9f9f9f" stroke-width="0.6"/>
<polygon points="552.64,28.34 579.42,28.34 578.65,31.05 551.86,31.05" fill="#959595" stroke="#959595" stroke-width="0.6"/>
<polygon points="551.86,31.05 578.65,31.05 577.8,33.63 551.02,33.63" fill="#8f8f8f" stroke="#8f8f8f" stroke-width="0.6"/>
<polygon points="551.02,33.63 577.8,33.63 576.89,36.06 550.1,36.06" fill="#8a8a8a" stroke="#8a8a8a" stroke-width="0.6"/>
<polygon points="550.1,36.06 576.89,36.06 575.91,38.35 549.13,38.35" fill="#848484" stroke="#848484" stroke-width="0.6"/>
<polygon points="549.13,38.35 575.91,38.35 574.88,40.46 548.1,40.46" fill="#7f7f7f" stroke="#7f7f7f" stroke-width="0.6"/>
<polygon points="548.1,40.46 574.88,40.46 573.8,42.41 547.01,42.41" fill="#797979" stroke="#797979" stroke-width="0.6"/>
<polygon points="547.01,42.41 573.8,42.41 572.66,44.17 545.88,44.17" fill="#737373" stroke="#737373" stroke-width="0.6"/>
<polygon points="545.88,44.17 572.66,44.17 571.49,45.74 544.7,45.74" fill="#6e6e6e" stroke="#6e6e6e" stroke-width="0.6"/>
<polygon points="544.7,45.74 571.49,45.74 570.27,47.12 543.49,47.12" fill="#686868" stroke="#686868" stroke-width="0.6"/>
<polygon points="543.49,47.12 570.27,47.12 569.02,48.3 542.24,48.3" fill="#656565" stroke="#656565" stroke-width="0.6"/>
<polygon points="542.24,48.3 569.02,48.3 567.74,49.26 540.96,49.26" fill="#616161" stroke="#616161" stroke-width="0.6"/>
<polygon points="540.96,49.26 567.74,49.26 566.44,50.02 539.66,50.02" fill="#5d5d5d" stroke="#5d5d5d" stroke-width="0.6"/>
<polygon points="539.66,50.02 566.44,50.02 565.13,50.57 538.34,50.57" fill="#595959" stroke="#595959" stroke-width="0.6"/>
<polygon points="538.34,50.57 565.13,50.57 563.8,50.89 537.01,50.89" fill="#565656" stroke="#565656" stroke-width="0.6"/>
<polygon points="537.01,50.89 563.8,50.89 562.46,51 535.68,51" fill="#525252" stroke="#525252" stroke-width="0.6"/>
<path d="M535.68,-51 L562.46,-51 A20.4,51 0 0 1 562.46,51 L535.68,51" fill="none" stroke="#111" stroke-width="1.3"/>
<ellipse cx="535.68" cy="0" rx="20.4" ry="51" fill="#b8b8b8" stroke="#222" stroke-width="1" />
<path d="M527.64,-26.23 L535.68,-26.23 A10.49,26.23 0 0 1 535.68,26.23 L527.64,26.23 Z" fill="#999" stroke="#111" stroke-width="1.2"/>
<polygon points="527.64,-26.23 535.68,-26.23 537.05,-26.01 529.01,-26.01" fill="#7f7f7f" stroke="#7f7f7f" stroke-width="0.6"/>
<polygon points="529.01,-26.01 537.05,-26.01 538.4,-25.34 530.36,-25.34" fill="#8c8c8c" stroke="#8c8c8c" stroke-width="0.6"/>
<polygon points="530.36,-25.34 538.4,-25.34 539.69,-24.23 531.66,-24.23" fill="#9a9a9a" stroke="#9a9a9a" stroke-width="0.6"/>
<polygon points="531.66,-24.23 539.69,-24.23 540.93,-22.72 532.89,-22.72" fill="#a6a6a6" stroke="#a6a6a6" stroke-width="0.6"/>
<polygon points="532.89,-22.72 540.93,-22.72 542.07,-20.81 534.03,-20.81" fill="#afafaf" stroke="#afafaf" stroke-width="0.6"/>
<polygon points="534.03,-20.81 542.07,-20.81 543.1,-18.55 535.06,-18.55" fill="#b8b8b8" stroke="#b8b8b8" stroke-width="0.6"/>
<polygon points="535.06,-18.55 543.1,-18.55 544,-15.97 535.97,-15.97" fill="#c1c1c1" stroke="#c1c1c1" stroke-width="0.6"/>
<polygon points="535.97,-15.97 544,-15.97 544.76,-13.11 536.73,-13.11" fill="#cacaca" stroke="#cacaca" stroke-width="0.6"/>
<polygon points="536.73,-13.11 544.76,-13.11 545.37,-10.04 537.34,-10.04" fill="#d5d5d5" stroke="#d5d5d5" stroke-width="0.6"/>
<polygon points="537.34,-10.04 545.37,-10.04 545.81,-6.79 537.78,-6.79" fill="#e1e1e1" stroke="#e1e1e1" stroke-width="0.6"/>
<polygon points="537.78,-6.79 545.81,-6.79 546.08,-3.42 538.05,-3.42" fill="#ececec" stroke="#ececec" stroke-width="0.6"/>
<polygon points="538.05,-3.42 546.08,-3.42 546.17,-0 538.14,-0" fill="#eaeaea" stroke="#eaeaea" stroke-width="0.6"/>
<polygon points="538.14,-0 546.17,-0 546.08,3.42 538.05,3.42" fill="#e5e5e5" stroke="#e5e5e5" stroke-width="0.6"/>
<polygon points="538.05,3.42 546.08,3.42 545.81,6.79 537.78,6.79" fill="#dddddd" stroke="#dddddd" stroke-width="0.6"/>
<polygon points="537.78,6.79 545.81,6.79 545.37,10.04 537.34,10.04" fill="#c7c7c7" stroke="#c7c7c7" stroke-width="0.6"/>
<polygon points="537.34,10.04 545.37,10.04 544.76,13.11 536.73,13.11" fill="#b0b0b0" stroke="#b0b0b0" stroke-width="0.6"/>
<polygon points="536.73,13.11 544.76,13.11 544,15.97 535.97,15.97" fill="#9a9a9a" stroke="#9a9a9a" stroke-width="0.6"/>
<polygon points="535.97,15.97 544,15.97 543.1,18.55 535.06,18.55" fill="#8d8d8d" stroke="#8d8d8d" stroke-width="0.6"/>
<polygon points="535.06,18.55 543.1,18.55 542.07,20.81 534.03,20.81" fill="#818181" stroke="#818181" stroke-width="0.6"/>
<polygon points="534.03,20.81 542.07,20.81 540.93,22.72 532.89,22.72" fill="#767676" stroke="#767676" stroke-width="0.6"/>
<polygon points="532.89,22.72 540.93,22.72 539.69,24.23 531.66,24.23" fill="#6b6b6b" stroke="#6b6b6b" stroke-width="0.6"/>
<polygon points="531.66,24.23 539.69,24.23 538.4,25.34 530.36,25.34" fill="#636363" stroke="#636363" stroke-width="0.6"/>
<polygon points="530.36,25.34 538.4,25.34 537.05,26.01 529.01,26.01" fill="#5b5b5b" stroke="#5b5b5b" stroke-width="0.6"/>
<polygon points="529.01,26.01 537.05,26.01 535.68,26.23 527.64,26.23" fill="#545454" stroke="#545454" stroke-width="0.6"/>
<path d="M503.87,-103.46 L523.96,-103.46 A41.38,103.46 0 0 1 523.96,103.46 L503.87,103.46 Z" fill="#8a4a30" stroke="#1a0a02" stroke-width="1.2"/>
<polygon points="503.87,-103.46 523.96,-103.46 526.67,-103.24 506.58,-103.24" fill="#98563d" stroke="#98563d" stroke-width="0.6"/>
<polygon points="506.58,-103.24 526.67,-103.24 529.36,-102.58 509.28,-102.58" fill="#9c593f" stroke="#9c593f" stroke-width="0.6"/>
<polygon points="509.28,-102.58 529.36,-102.58 532.03,-101.47 511.95,-101.47" fill="#9f5c42" stroke="#9f5c42" stroke-width="0.6"/>
<polygon points="511.95,-101.47 532.03,-101.47 534.67,-99.94 514.58,-99.94" fill="#a35e44" stroke="#a35e44" stroke-width="0.6"/>
<polygon points="514.58,-99.94 534.67,-99.94 537.26,-97.97 517.17,-97.97" fill="#a76146" stroke="#a76146" stroke-width="0.6"/>
<polygon points="517.17,-97.97 537.26,-97.97 539.8,-95.59 519.71,-95.59" fill="#ab6348" stroke="#ab6348" stroke-width="0.6"/>
<polygon points="519.71,-95.59 539.8,-95.59 542.26,-92.79 522.18,-92.79" fill="#ae664b" stroke="#ae664b" stroke-width="0.6"/>
<polygon points="522.18,-92.79 542.26,-92.79 544.65,-89.6 524.56,-89.6" fill="#b2694d" stroke="#b2694d" stroke-width="0.6"/>
<polygon points="524.56,-89.6 544.65,-89.6 546.95,-86.02 526.86,-86.02" fill="#b66b4f" stroke="#b66b4f" stroke-width="0.6"/>
<polygon points="526.86,-86.02 546.95,-86.02 549.15,-82.08 529.06,-82.08" fill="#ba6e51" stroke="#ba6e51" stroke-width="0.6"/>
<polygon points="529.06,-82.08 549.15,-82.08 551.24,-77.79 531.16,-77.79" fill="#bd7154" stroke="#bd7154" stroke-width="0.6"/>
<polygon points="531.16,-77.79 551.24,-77.79 553.22,-73.16 533.13,-73.16" fill="#c17356" stroke="#c17356" stroke-width="0.6"/>
<polygon points="533.13,-73.16 553.22,-73.16 555.07,-68.22 534.98,-68.22" fill="#c57658" stroke="#c57658" stroke-width="0.6"/>
<polygon points="534.98,-68.22 555.07,-68.22 556.79,-62.98 536.7,-62.98" fill="#c8785a" stroke="#c8785a" stroke-width="0.6"/>
<polygon points="536.7,-62.98 556.79,-62.98 558.37,-57.48 538.28,-57.48" fill="#ca7a5c" stroke="#ca7a5c" stroke-width="0.6"/>
<polygon points="538.28,-57.48 558.37,-57.48 559.8,-51.73 539.71,-51.73" fill="#cc7c5d" stroke="#cc7c5d" stroke-width="0.6"/>
<polygon points="539.71,-51.73 559.8,-51.73 561.07,-45.76 540.99,-45.76" fill="#ce7e5e" stroke="#ce7e5e" stroke-width="0.6"/>
<polygon points="540.99,-45.76 561.07,-45.76 562.19,-39.59 542.1,-39.59" fill="#d08060" stroke="#d08060" stroke-width="0.6"/>
<polygon points="542.1,-39.59 562.19,-39.59 563.14,-33.26 543.06,-33.26" fill="#d28261" stroke="#d28261" stroke-width="0.6"/>
<polygon points="543.06,-33.26 563.14,-33.26 563.93,-26.78 543.84,-26.78" fill="#d48463" stroke="#d48463" stroke-width="0.6"/>
<polygon points="543.84,-26.78 563.93,-26.78 564.55,-20.18 544.46,-20.18" fill="#d58564" stroke="#d58564" stroke-width="0.6"/>
<polygon points="544.46,-20.18 564.55,-20.18 564.99,-13.5 544.9,-13.5" fill="#d78765" stroke="#d78765" stroke-width="0.6"/>
<polygon points="544.9,-13.5 564.99,-13.5 565.25,-6.77 545.16,-6.77" fill="#d98967" stroke="#d98967" stroke-width="0.6"/>
<polygon points="545.16,-6.77 565.25,-6.77 565.34,-0 545.25,-0" fill="#db8b68" stroke="#db8b68" stroke-width="0.6"/>
<polygon points="545.25,-0 565.34,-0 565.25,6.77 545.16,6.77" fill="#da8a67" stroke="#da8a67" stroke-width="0.6"/>
<polygon points="545.16,6.77 565.25,6.77 564.99,13.5 544.9,13.5" fill="#d68664" stroke="#d68664" stroke-width="0.6"/>
<polygon points="544.9,13.5 564.99,13.5 564.55,20.18 544.46,20.18" fill="#d28361" stroke="#d28361" stroke-width="0.6"/>
<polygon points="544.46,20.18 564.55,20.18 563.93,26.78 543.84,26.78" fill="#ce7f5d" stroke="#ce7f5d" stroke-width="0.6"/>
<polygon points="543.84,26.78 563.93,26.78 563.14,33.26 543.06,33.26" fill="#c97b5a" stroke="#c97b5a" stroke-width="0.6"/>
<polygon points="543.06,33.26 563.14,33.26 562.19,39.59 542.1,39.59" fill="#c57756" stroke="#c57756" stroke-width="0.6"/>
<polygon points="542.1,39.59 562.19,39.59 561.07,45.76 540.99,45.76" fill="#c17453" stroke="#c17453" stroke-width="0.6"/>
<polygon points="540.99,45.76 561.07,45.76 559.8,51.73 539.71,51.73" fill="#bd7050" stroke="#bd7050" stroke-width="0.6"/>
<polygon points="539.71,51.73 559.8,51.73 558.37,57.48 538.28,57.48" fill="#b96c4c" stroke="#b96c4c" stroke-width="0.6"/>
<polygon points="538.28,57.48 558.37,57.48 556.79,62.98 536.7,62.98" fill="#b56849" stroke="#b56849" stroke-width="0.6"/>
<polygon points="536.7,62.98 556.79,62.98 555.07,68.22 534.98,68.22" fill="#b16546" stroke="#b16546" stroke-width="0.6"/>
<polygon points="534.98,68.22 555.07,68.22 553.22,73.16 533.13,73.16" fill="#ad6142" stroke="#ad6142" stroke-width="0.6"/>
<polygon points="533.13,73.16 553.22,73.16 551.24,77.79 531.16,77.79" fill="#a85d3f" stroke="#a85d3f" stroke-width="0.6"/>
<polygon points="531.16,77.79 551.24,77.79 549.15,82.08 529.06,82.08" fill="#a45a3c" stroke="#a45a3c" stroke-width="0.6"/>
<polygon points="529.06,82.08 549.15,82.08 546.95,86.02 526.86,86.02" fill="#9f573a" stroke="#9f573a" stroke-width="0.6"/>
<polygon points="526.86,86.02 546.95,86.02 544.65,89.6 524.56,89.6" fill="#9a5438" stroke="#9a5438" stroke-width="0.6"/>
<polygon points="524.56,89.6 544.65,89.6 542.26,92.79 522.18,92.79" fill="#955135" stroke="#955135" stroke-width="0.6"/>
<polygon points="522.18,92.79 542.26,92.79 539.8,95.59 519.71,95.59" fill="#904e33" stroke="#904e33" stroke-width="0.6"/>
<polygon points="519.71,95.59 539.8,95.59 537.26,97.97 517.17,97.97" fill="#8a4b31" stroke="#8a4b31" stroke-width="0.6"/>
<polygon points="517.17,97.97 537.26,97.97 534.67,99.94 514.58,99.94" fill="#85492f" stroke="#85492f" stroke-width="0.6"/>
<polygon points="514.58,99.94 534.67,99.94 532.03,101.47 511.95,101.47" fill="#80462d" stroke="#80462d" stroke-width="0.6"/>
<polygon points="511.95,101.47 532.03,101.47 529.36,102.58 509.28,102.58" fill="#7b432b" stroke="#7b432b" stroke-width="0.6"/>
<polygon points="509.28,102.58 529.36,102.58 526.67,103.24 506.58,103.24" fill="#764029" stroke="#764029" stroke-width="0.6"/>
<polygon points="506.58,103.24 526.67,103.24 523.96,103.46 503.87,103.46" fill="#713d27" stroke="#713d27" stroke-width="0.6"/>
<ellipse cx="526.28" cy="-94.92" rx="6" ry="8.5" fill="#92533b" stroke="#1a0a02" stroke-width="0.9"/>
<ellipse cx="527.28" cy="-96.42" rx="2.5" ry="4.5" fill="none" stroke="#b88369" stroke-width="1.2"/>
<ellipse cx="531.61" cy="-97.06" rx="6" ry="8.5" fill="#98583e" stroke="#1a0a02" stroke-width="0.9"/>
<ellipse cx="532.61" cy="-98.56" rx="2.5" ry="4.5" fill="none" stroke="#bc866b" stroke-width="1.2"/>
<ellipse cx="535.97" cy="-89.11" rx="6" ry="8.5" fill="#9f5c42" stroke="#1a0a02" stroke-width="0.9"/>
<ellipse cx="536.97" cy="-90.61" rx="2.5" ry="4.5" fill="none" stroke="#c1896e" stroke-width="1.2"/>
<ellipse cx="541.34" cy="-87.72" rx="6" ry="8.5" fill="#a56146" stroke="#1a0a02" stroke-width="0.9"/>
<ellipse cx="542.34" cy="-89.22" rx="2.5" ry="4.5" fill="none" stroke="#c58c70" stroke-width="1.2"/>
<ellipse cx="544.73" cy="-77.22" rx="6" ry="8.5" fill="#ac654a" stroke="#1a0a02" stroke-width="0.9"/>
<ellipse cx="545.73" cy="-78.72" rx="2.5" ry="4.5" fill="none" stroke="#c98f73" stroke-width="1.2"/>
<ellipse cx="549.77" cy="-72.41" rx="6" ry="8.5" fill="#b26a4e" stroke="#1a0a02" stroke-width="0.9"/>
<ellipse cx="550.77" cy="-73.91" rx="2.5" ry="4.5" fill="none" stroke="#cd9275" stroke-width="1.2"/>
<ellipse cx="551.95" cy="-60.07" rx="6" ry="8.5" fill="#b86e51" stroke="#1a0a02" stroke-width="0.9"/>
<ellipse cx="552.95" cy="-61.57" rx="2.5" ry="4.5" fill="none" stroke="#d19477" stroke-width="1.2"/>
<ellipse cx="556.33" cy="-52.15" rx="6" ry="8.5" fill="#bb7154" stroke="#1a0a02" stroke-width="0.9"/>
<ellipse cx="557.33" cy="-53.65" rx="2.5" ry="4.5" fill="none" stroke="#d39779" stroke-width="1.2"/>
<ellipse cx="557.16" cy="-38.82" rx="6" ry="8.5" fill="#be7456" stroke="#1a0a02" stroke-width="0.9"/>
<ellipse cx="558.16" cy="-40.32" rx="2.5" ry="4.5" fill="none" stroke="#d5997a" stroke-width="1.2"/>
<ellipse cx="560.57" cy="-28.35" rx="6" ry="8.5" fill="#c17758" stroke="#1a0a02" stroke-width="0.9"/>
<ellipse cx="561.57" cy="-29.85" rx="2.5" ry="4.5" fill="none" stroke="#d79b7c" stroke-width="1.2"/>
<ellipse cx="559.99" cy="-14.93" rx="6" ry="8.5" fill="#c57b5b" stroke="#1a0a02" stroke-width="0.9"/>
<ellipse cx="560.99" cy="-16.43" rx="2.5" ry="4.5" fill="none" stroke="#d99d7e" stroke-width="1.2"/>
<ellipse cx="562.2" cy="-2.61" rx="6" ry="8.5" fill="#c87e5d" stroke="#1a0a02" stroke-width="0.9"/>
<ellipse cx="563.2" cy="-4.11" rx="2.5" ry="4.5" fill="none" stroke="#db9f7f" stroke-width="1.2"/>
<ellipse cx="560.25" cy="9.98" rx="6" ry="8.5" fill="#c37959" stroke="#1a0a02" stroke-width="0.9"/>
<ellipse cx="561.25" cy="8.48" rx="2.5" ry="4.5" fill="none" stroke="#d89c7c" stroke-width="1.2"/>
<ellipse cx="561.11" cy="23.3" rx="6" ry="8.5" fill="#bc7353" stroke="#1a0a02" stroke-width="0.9"/>
<ellipse cx="562.11" cy="21.8" rx="2.5" ry="4.5" fill="none" stroke="#d39879" stroke-width="1.2"/>
<ellipse cx="557.93" cy="34.21" rx="6" ry="8.5" fill="#b56d4e" stroke="#1a0a02" stroke-width="0.9"/>
<ellipse cx="558.93" cy="32.71" rx="2.5" ry="4.5" fill="none" stroke="#cf9475" stroke-width="1.2"/>
<ellipse cx="557.37" cy="47.63" rx="6" ry="8.5" fill="#ae6648" stroke="#1a0a02" stroke-width="0.9"/>
<ellipse cx="558.37" cy="46.13" rx="2.5" ry="4.5" fill="none" stroke="#ca8f71" stroke-width="1.2"/>
<ellipse cx="553.17" cy="56.1" rx="6" ry="8.5" fill="#a76042" stroke="#1a0a02" stroke-width="0.9"/>
<ellipse cx="554.17" cy="54.6" rx="2.5" ry="4.5" fill="none" stroke="#c68b6e" stroke-width="1.2"/>
<ellipse cx="551.25" cy="68.71" rx="6" ry="8.5" fill="#a05a3c" stroke="#1a0a02" stroke-width="0.9"/>
<ellipse cx="552.25" cy="67.21" rx="2.5" ry="4.5" fill="none" stroke="#c1876a" stroke-width="1.2"/>
<ellipse cx="546.31" cy="74.18" rx="6" ry="8.5" fill="#995337" stroke="#1a0a02" stroke-width="0.9"/>
<ellipse cx="547.31" cy="72.68" rx="2.5" ry="4.5" fill="none" stroke="#bc8366" stroke-width="1.2"/>
<ellipse cx="543.15" cy="85.11" rx="6" ry="8.5" fill="#904f34" stroke="#1a0a02" stroke-width="0.9"/>
<ellipse cx="544.15" cy="83.61" rx="2.5" ry="4.5" fill="none" stroke="#b78064" stroke-width="1.2"/>
<ellipse cx="537.81" cy="87.19" rx="6" ry="8.5" fill="#874a30" stroke="#1a0a02" stroke-width="0.9"/>
<ellipse cx="538.81" cy="85.69" rx="2.5" ry="4.5" fill="none" stroke="#b17d62" stroke-width="1.2"/>
<ellipse cx="533.63" cy="95.71" rx="6" ry="8.5" fill="#7e452d" stroke="#1a0a02" stroke-width="0.9"/>
<ellipse cx="534.63" cy="94.21" rx="2.5" ry="4.5" fill="none" stroke="#ab7a5f" stroke-width="1.2"/>
<ellipse cx="528.26" cy="94.27" rx="6" ry="8.5" fill="#764029" stroke="#1a0a02" stroke-width="0.9"/>
<ellipse cx="529.26" cy="92.77" rx="2.5" ry="4.5" fill="none" stroke="#a6775d" stroke-width="1.2"/>
<path d="M487.13,-111.48 L503.87,-111.48 A44.58,111.48 0 0 1 503.87,111.48 L487.13,111.48 Z" fill="#bbb" stroke="#111" stroke-width="1.4"/>
<polygon points="487.13,-111.48 503.87,-111.48 506.21,-111.32 489.47,-111.32" fill="#989182" stroke="#989182" stroke-width="0.6"/>
<polygon points="489.47,-111.32 506.21,-111.32 508.53,-110.87 491.79,-110.87" fill="#9b9485" stroke="#9b9485" stroke-width="0.6"/>
<polygon points="491.79,-110.87 508.53,-110.87 510.85,-110.1 494.11,-110.1" fill="#9f9888" stroke="#9f9888" stroke-width="0.6"/>
<polygon points="494.11,-110.1 510.85,-110.1 513.14,-109.04 496.4,-109.04" fill="#a29b8b" stroke="#a29b8b" stroke-width="0.6"/>
<polygon points="496.4,-109.04 513.14,-109.04 515.41,-107.68 498.67,-107.68" fill="#a59e8f" stroke="#a59e8f" stroke-width="0.6"/>
<polygon points="498.67,-107.68 515.41,-107.68 517.65,-106.02 500.91,-106.02" fill="#a9a292" stroke="#a9a292" stroke-width="0.6"/>
<polygon points="500.91,-106.02 517.65,-106.02 519.85,-104.07 503.11,-104.07" fill="#aca595" stroke="#aca595" stroke-width="0.6"/>
<polygon points="503.11,-104.07 519.85,-104.07 522.01,-101.84 505.27,-101.84" fill="#b0a998" stroke="#b0a998" stroke-width="0.6"/>
<polygon points="505.27,-101.84 522.01,-101.84 524.11,-99.33 507.37,-99.33" fill="#b3ac9c" stroke="#b3ac9c" stroke-width="0.6"/>
<polygon points="507.37,-99.33 524.11,-99.33 526.17,-96.54 509.43,-96.54" fill="#b7b09f" stroke="#b7b09f" stroke-width="0.6"/>
<polygon points="509.43,-96.54 526.17,-96.54 528.16,-93.49 511.42,-93.49" fill="#bab3a2" stroke="#bab3a2" stroke-width="0.6"/>
<polygon points="511.42,-93.49 528.16,-93.49 530.08,-90.19 513.34,-90.19" fill="#bdb6a5" stroke="#bdb6a5" stroke-width="0.6"/>
<polygon points="513.34,-90.19 530.08,-90.19 531.93,-86.63 515.19,-86.63" fill="#c0baa9" stroke="#c0baa9" stroke-width="0.6"/>
<polygon points="515.19,-86.63 531.93,-86.63 533.71,-82.84 516.97,-82.84" fill="#c4bdac" stroke="#c4bdac" stroke-width="0.6"/>
<polygon points="516.97,-82.84 533.71,-82.84 535.4,-78.83 518.66,-78.83" fill="#c6c0af" stroke="#c6c0af" stroke-width="0.6"/>
<polygon points="518.66,-78.83 535.4,-78.83 537.01,-74.59 520.27,-74.59" fill="#cac3b3" stroke="#cac3b3" stroke-width="0.6"/>
<polygon points="520.27,-74.59 537.01,-74.59 538.52,-70.15 521.78,-70.15" fill="#ccc6b6" stroke="#ccc6b6" stroke-width="0.6"/>
<polygon points="521.78,-70.15 538.52,-70.15 539.94,-65.52 523.2,-65.52" fill="#d0caba" stroke="#d0caba" stroke-width="0.6"/>
<polygon points="523.2,-65.52 539.94,-65.52 541.27,-60.71 524.53,-60.71" fill="#d2cdbd" stroke="#d2cdbd" stroke-width="0.6"/>
<polygon points="524.53,-60.71 541.27,-60.71 542.49,-55.74 525.75,-55.74" fill="#d6d0c0" stroke="#d6d0c0" stroke-width="0.6"/>
<polygon points="525.75,-55.74 542.49,-55.74 543.6,-50.61 526.86,-50.61" fill="#d8d3c4" stroke="#d8d3c4" stroke-width="0.6"/>
<polygon points="526.86,-50.61 543.6,-50.61 544.6,-45.34 527.86,-45.34" fill="#dcd6c7" stroke="#dcd6c7" stroke-width="0.6"/>
<polygon points="527.86,-45.34 544.6,-45.34 545.5,-39.95 528.76,-39.95" fill="#ded9ca" stroke="#ded9ca" stroke-width="0.6"/>
<polygon points="528.76,-39.95 545.5,-39.95 546.28,-34.45 529.54,-34.45" fill="#e1dccd" stroke="#e1dccd" stroke-width="0.6"/>
<polygon points="529.54,-34.45 546.28,-34.45 546.94,-28.85 530.2,-28.85" fill="#ded9ca" stroke="#ded9ca" stroke-width="0.6"/>
<polygon points="530.2,-28.85 546.94,-28.85 547.48,-23.18 530.74,-23.18" fill="#dcd6c7" stroke="#dcd6c7" stroke-width="0.6"/>
<polygon points="530.74,-23.18 547.48,-23.18 547.91,-17.44 531.17,-17.44" fill="#d9d4c4" stroke="#d9d4c4" stroke-width="0.6"/>
<polygon points="531.17,-17.44 547.91,-17.44 548.21,-11.65 531.47,-11.65" fill="#d7d1c2" stroke="#d7d1c2" stroke-width="0.6"/>
<polygon points="531.47,-11.65 548.21,-11.65 548.4,-5.83 531.66,-5.83" fill="#d5cebf" stroke="#d5cebf" stroke-width="0.6"/>
<polygon points="531.66,-5.83 548.4,-5.83 548.46,-0 531.72,-0" fill="#d2ccbc" stroke="#d2ccbc" stroke-width="0.6"/>
<polygon points="531.72,-0 548.46,-0 548.4,5.83 531.66,5.83" fill="#d0c9b9" stroke="#d0c9b9" stroke-width="0.6"/>
<polygon points="531.66,5.83 548.4,5.83 548.21,11.65 531.47,11.65" fill="#cdc6b6" stroke="#cdc6b6" stroke-width="0.6"/>
<polygon points="531.47,11.65 548.21,11.65 547.91,17.44 531.17,17.44" fill="#cac3b3" stroke="#cac3b3" stroke-width="0.6"/>
<polygon points="531.17,17.44 547.91,17.44 547.48,23.18 530.74,23.18" fill="#c6bfaf" stroke="#c6bfaf" stroke-width="0.6"/>
<polygon points="530.74,23.18 547.48,23.18 546.94,28.85 530.2,28.85" fill="#c2bbab" stroke="#c2bbab" stroke-width="0.6"/>
<polygon points="530.2,28.85 546.94,28.85 546.28,34.45 529.54,34.45" fill="#beb7a8" stroke="#beb7a8" stroke-width="0.6"/>
<polygon points="529.54,34.45 546.28,34.45 545.5,39.95 528.76,39.95" fill="#bab3a4" stroke="#bab3a4" stroke-width="0.6"/>
<polygon points="528.76,39.95 545.5,39.95 544.6,45.34 527.86,45.34" fill="#b6b0a0" stroke="#b6b0a0" stroke-width="0.6"/>
<polygon points="527.86,45.34 544.6,45.34 543.6,50.61 526.86,50.61" fill="#b3ac9c" stroke="#b3ac9c" stroke-width="0.6"/>
<polygon points="526.86,50.61 543.6,50.61 542.49,55.74 525.75,55.74" fill="#afa898" stroke="#afa898" stroke-width="0.6"/>
<polygon points="525.75,55.74 542.49,55.74 541.27,60.71 524.53,60.71" fill="#aba495" stroke="#aba495" stroke-width="0.6"/>
<polygon points="524.53,60.71 541.27,60.71 539.94,65.52 523.2,65.52" fill="#a7a091" stroke="#a7a091" stroke-width="0.6"/>
<polygon points="523.2,65.52 539.94,65.52 538.52,70.15 521.78,70.15" fill="#a39c8d" stroke="#a39c8d" stroke-width="0.6"/>
<polygon points="521.78,70.15 538.52,70.15 537.01,74.59 520.27,74.59" fill="#a0998a" stroke="#a0998a" stroke-width="0.6"/>
<polygon points="520.27,74.59 537.01,74.59 535.4,78.83 518.66,78.83" fill="#9c9687" stroke="#9c9687" stroke-width="0.6"/>
<polygon points="518.66,78.83 535.4,78.83 533.71,82.84 516.97,82.84" fill="#9a9384" stroke="#9a9384" stroke-width="0.6"/>
<polygon points="516.97,82.84 533.71,82.84 531.93,86.63 515.19,86.63" fill="#969081" stroke="#969081" stroke-width="0.6"/>
<polygon points="515.19,86.63 531.93,86.63 530.08,90.19 513.34,90.19" fill="#948d7e" stroke="#948d7e" stroke-width="0.6"/>
<polygon points="513.34,90.19 530.08,90.19 528.16,93.49 511.42,93.49" fill="#908a7c" stroke="#908a7c" stroke-width="0.6"/>
<polygon points="511.42,93.49 528.16,93.49 526.17,96.54 509.43,96.54" fill="#8e8779" stroke="#8e8779" stroke-width="0.6"/>
<polygon points="509.43,96.54 526.17,96.54 524.11,99.33 507.37,99.33" fill="#8a8476" stroke="#8a8476" stroke-width="0.6"/>
<polygon points="507.37,99.33 524.11,99.33 522.01,101.84 505.27,101.84" fill="#888173" stroke="#888173" stroke-width="0.6"/>
<polygon points="505.27,101.84 522.01,101.84 519.85,104.07 503.11,104.07" fill="#847e70" stroke="#847e70" stroke-width="0.6"/>
<polygon points="503.11,104.07 519.85,104.07 517.65,106.02 500.91,106.02" fill="#817b6e" stroke="#817b6e" stroke-width="0.6"/>
<polygon points="500.91,106.02 517.65,106.02 515.41,107.68 498.67,107.68" fill="#7e786a" stroke="#7e786a" stroke-width="0.6"/>
<polygon points="498.67,107.68 515.41,107.68 513.14,109.04 496.4,109.04" fill="#7a7468" stroke="#7a7468" stroke-width="0.6"/>
<polygon points="496.4,109.04 513.14,109.04 510.85,110.1 494.11,110.1" fill="#767164" stroke="#767164" stroke-width="0.6"/>
<polygon points="494.11,110.1 510.85,110.1 508.53,110.87 491.79,110.87" fill="#726d62" stroke="#726d62" stroke-width="0.6"/>
<polygon points="491.79,110.87 508.53,110.87 506.21,111.32 489.47,111.32" fill="#6f695e" stroke="#6f695e" stroke-width="0.6"/>
<polygon points="489.47,111.32 506.21,111.32 503.87,111.48 487.13,111.48" fill="#6b665c" stroke="#6b665c" stroke-width="0.6"/>
<path d="M487.13,-111.48 L503.87,-111.48 A44.58,111.48 0 0 1 503.87,111.48 L487.13,111.48" fill="none" stroke="#111" stroke-width="1.4"/>
<path d="M338.15,-109.29 L487.13,-109.29 A43.71,109.29 0 0 1 487.13,109.29 L338.15,109.29 Z" fill="#999" stroke="#111" stroke-width="1.4"/>
<polygon points="338.15,-109.29 487.13,-109.29 488.28,-109.25 339.29,-109.25" fill="#717171" stroke="#717171" stroke-width="0.6"/>
<polygon points="339.29,-109.25 488.28,-109.25 489.42,-109.14 340.44,-109.14" fill="#727272" stroke="#727272" stroke-width="0.6"/>
<polygon points="340.44,-109.14 489.42,-109.14 490.56,-108.95 341.58,-108.95" fill="#727272" stroke="#727272" stroke-width="0.6"/>
<polygon points="341.58,-108.95 490.56,-108.95 491.7,-108.69 342.72,-108.69" fill="#727272" stroke="#727272" stroke-width="0.6"/>
<polygon points="342.72,-108.69 491.7,-108.69 492.84,-108.36 343.85,-108.36" fill="#727272" stroke="#727272" stroke-width="0.6"/>
<polygon points="343.85,-108.36 492.84,-108.36 493.97,-107.94 344.99,-107.94" fill="#717171" stroke="#717171" stroke-width="0.6"/>
<polygon points="344.99,-107.94 493.97,-107.94 495.1,-107.46 346.11,-107.46" fill="#717171" stroke="#717171" stroke-width="0.6"/>
<polygon points="346.11,-107.46 495.1,-107.46 496.22,-106.9 347.24,-106.9" fill="#717171" stroke="#717171" stroke-width="0.6"/>
<polygon points="347.24,-106.9 496.22,-106.9 497.34,-106.27 348.35,-106.27" fill="#717171" stroke="#717171" stroke-width="0.6"/>
<polygon points="348.35,-106.27 497.34,-106.27 498.45,-105.57 349.46,-105.57" fill="#707070" stroke="#707070" stroke-width="0.6"/>
<polygon points="349.46,-105.57 498.45,-105.57 499.55,-104.79 350.56,-104.79" fill="#848484" stroke="#848484" stroke-width="0.6"/>
<polygon points="350.56,-104.79 499.55,-104.79 500.64,-103.94 351.66,-103.94" fill="#858585" stroke="#858585" stroke-width="0.6"/>
<polygon points="351.66,-103.94 500.64,-103.94 501.72,-103.02 352.74,-103.02" fill="#868686" stroke="#868686" stroke-width="0.6"/>
<polygon points="352.74,-103.02 501.72,-103.02 502.8,-102.03 353.81,-102.03" fill="#878787" stroke="#878787" stroke-width="0.6"/>
<polygon points="353.81,-102.03 502.8,-102.03 503.86,-100.97 354.88,-100.97" fill="#888888" stroke="#888888" stroke-width="0.6"/>
<polygon points="354.88,-100.97 503.86,-100.97 504.91,-99.84 355.93,-99.84" fill="#888888" stroke="#888888" stroke-width="0.6"/>
<polygon points="355.93,-99.84 504.91,-99.84 505.95,-98.64 356.97,-98.64" fill="#898989" stroke="#898989" stroke-width="0.6"/>
<polygon points="356.97,-98.64 505.95,-98.64 506.98,-97.38 357.99,-97.38" fill="#898989" stroke="#898989" stroke-width="0.6"/>
<polygon points="357.99,-97.38 506.98,-97.38 507.99,-96.05 359,-96.05" fill="#8a8a8a" stroke="#8a8a8a" stroke-width="0.6"/>
<polygon points="359,-96.05 507.99,-96.05 508.99,-94.65 360,-94.65" fill="#8a8a8a" stroke="#8a8a8a" stroke-width="0.6"/>
<polygon points="360,-94.65 508.99,-94.65 509.97,-93.19 360.99,-93.19" fill="#a3a3a3" stroke="#a3a3a3" stroke-width="0.6"/>
<polygon points="360.99,-93.19 509.97,-93.19 510.94,-91.66 361.95,-91.66" fill="#a3a3a3" stroke="#a3a3a3" stroke-width="0.6"/>
<polygon points="361.95,-91.66 510.94,-91.66 511.89,-90.07 362.91,-90.07" fill="#a4a4a4" stroke="#a4a4a4" stroke-width="0.6"/>
<polygon points="362.91,-90.07 511.89,-90.07 512.83,-88.42 363.84,-88.42" fill="#a5a5a5" stroke="#a5a5a5" stroke-width="0.6"/>
<polygon points="363.84,-88.42 512.83,-88.42 513.74,-86.71 364.76,-86.71" fill="#a6a6a6" stroke="#a6a6a6" stroke-width="0.6"/>
<polygon points="364.76,-86.71 513.74,-86.71 514.64,-84.93 365.66,-84.93" fill="#a6a6a6" stroke="#a6a6a6" stroke-width="0.6"/>
<polygon points="365.66,-84.93 514.64,-84.93 515.52,-83.1 366.54,-83.1" fill="#a7a7a7" stroke="#a7a7a7" stroke-width="0.6"/>
<polygon points="366.54,-83.1 515.52,-83.1 516.38,-81.22 367.4,-81.22" fill="#a7a7a7" stroke="#a7a7a7" stroke-width="0.6"/>
<polygon points="367.4,-81.22 516.38,-81.22 517.22,-79.28 368.24,-79.28" fill="#a7a7a7" stroke="#a7a7a7" stroke-width="0.6"/>
<polygon points="368.24,-79.28 517.22,-79.28 518.04,-77.28 369.06,-77.28" fill="#a7a7a7" stroke="#a7a7a7" stroke-width="0.6"/>
<polygon points="369.06,-77.28 518.04,-77.28 518.84,-75.23 369.85,-75.23" fill="#c5c5c5" stroke="#c5c5c5" stroke-width="0.6"/>
<polygon points="369.85,-75.23 518.84,-75.23 519.62,-73.13 370.63,-73.13" fill="#c5c5c5" stroke="#c5c5c5" stroke-width="0.6"/>
<polygon points="370.63,-73.13 519.62,-73.13 520.37,-70.98 371.39,-70.98" fill="#c5c5c5" stroke="#c5c5c5" stroke-width="0.6"/>
<polygon points="371.39,-70.98 520.37,-70.98 521.1,-68.78 372.12,-68.78" fill="#c5c5c5" stroke="#c5c5c5" stroke-width="0.6"/>
<polygon points="372.12,-68.78 521.1,-68.78 521.81,-66.53 372.83,-66.53" fill="#c5c5c5" stroke="#c5c5c5" stroke-width="0.6"/>
<polygon points="372.83,-66.53 521.81,-66.53 522.5,-64.24 373.51,-64.24" fill="#c5c5c5" stroke="#c5c5c5" stroke-width="0.6"/>
<polygon points="373.51,-64.24 522.5,-64.24 523.16,-61.9 374.17,-61.9" fill="#c5c5c5" stroke="#c5c5c5" stroke-width="0.6"/>
<polygon points="374.17,-61.9 523.16,-61.9 523.79,-59.52 374.81,-59.52" fill="#c4c4c4" stroke="#c4c4c4" stroke-width="0.6"/>
<polygon points="374.81,-59.52 523.79,-59.52 524.4,-57.1 375.42,-57.1" fill="#c4c4c4" stroke="#c4c4c4" stroke-width="0.6"/>
<polygon points="375.42,-57.1 524.4,-57.1 524.99,-54.65 376,-54.65" fill="#c3c3c3" stroke="#c3c3c3" stroke-width="0.6"/>
<polygon points="376,-54.65 524.99,-54.65 525.55,-52.15 376.56,-52.15" fill="#e5e5e5" stroke="#e5e5e5" stroke-width="0.6"/>
<polygon points="376.56,-52.15 525.55,-52.15 526.08,-49.62 377.09,-49.62" fill="#e4e4e4" stroke="#e4e4e4" stroke-width="0.6"/>
<polygon points="377.09,-49.62 526.08,-49.62 526.59,-47.05 377.6,-47.05" fill="#e3e3e3" stroke="#e3e3e3" stroke-width="0.6"/>
<polygon points="377.6,-47.05 526.59,-47.05 527.07,-44.45 378.08,-44.45" fill="#e2e2e2" stroke="#e2e2e2" stroke-width="0.6"/>
<polygon points="378.08,-44.45 527.07,-44.45 527.52,-41.82 378.53,-41.82" fill="#e1e1e1" stroke="#e1e1e1" stroke-width="0.6"/>
<polygon points="378.53,-41.82 527.52,-41.82 527.94,-39.17 378.95,-39.17" fill="#dfdfdf" stroke="#dfdfdf" stroke-width="0.6"/>
<polygon points="378.95,-39.17 527.94,-39.17 528.34,-36.48 379.35,-36.48" fill="#dedede" stroke="#dedede" stroke-width="0.6"/>
<polygon points="379.35,-36.48 528.34,-36.48 528.7,-33.77 379.72,-33.77" fill="#dddddd" stroke="#dddddd" stroke-width="0.6"/>
<polygon points="379.72,-33.77 528.7,-33.77 529.04,-31.04 380.06,-31.04" fill="#dbdbdb" stroke="#dbdbdb" stroke-width="0.6"/>
<polygon points="380.06,-31.04 529.04,-31.04 529.35,-28.29 380.37,-28.29" fill="#dadada" stroke="#dadada" stroke-width="0.6"/>
<polygon points="380.37,-28.29 529.35,-28.29 529.64,-25.51 380.65,-25.51" fill="#fdfdfd" stroke="#fdfdfd" stroke-width="0.6"/>
<polygon points="380.65,-25.51 529.64,-25.51 529.89,-22.72 380.9,-22.72" fill="#fafafa" stroke="#fafafa" stroke-width="0.6"/>
<polygon points="380.9,-22.72 529.89,-22.72 530.11,-19.92 381.13,-19.92" fill="#f7f7f7" stroke="#f7f7f7" stroke-width="0.6"/>
<polygon points="381.13,-19.92 530.11,-19.92 530.31,-17.1 381.32,-17.1" fill="#f3f3f3" stroke="#f3f3f3" stroke-width="0.6"/>
<polygon points="381.32,-17.1 530.31,-17.1 530.47,-14.27 381.48,-14.27" fill="#f0f0f0" stroke="#f0f0f0" stroke-width="0.6"/>
<polygon points="381.48,-14.27 530.47,-14.27 530.6,-11.42 381.62,-11.42" fill="#ededed" stroke="#ededed" stroke-width="0.6"/>
<polygon points="381.62,-11.42 530.6,-11.42 530.71,-8.57 381.72,-8.57" fill="#e9e9e9" stroke="#e9e9e9" stroke-width="0.6"/>
<polygon points="381.72,-8.57 530.71,-8.57 530.78,-5.72 381.8,-5.72" fill="#e6e6e6" stroke="#e6e6e6" stroke-width="0.6"/>
<polygon points="381.8,-5.72 530.78,-5.72 530.83,-2.86 381.84,-2.86" fill="#e2e2e2" stroke="#e2e2e2" stroke-width="0.6"/>
<polygon points="381.84,-2.86 530.83,-2.86 530.84,-0 381.86,-0" fill="#bcbcbc" stroke="#bcbcbc" stroke-width="0.6"/>
<polygon points="381.86,-0 530.84,-0 530.83,2.86 381.84,2.86" fill="#a9a9a9" stroke="#a9a9a9" stroke-width="0.6"/>
<polygon points="381.84,2.86 530.83,2.86 530.78,5.72 381.8,5.72" fill="#9e9e9e" stroke="#9e9e9e" stroke-width="0.6"/>
<polygon points="381.8,5.72 530.78,5.72 530.71,8.57 381.72,8.57" fill="#9a9a9a" stroke="#9a9a9a" stroke-width="0.6"/>
<polygon points="381.72,8.57 530.71,8.57 530.6,11.42 381.62,11.42" fill="#979797" stroke="#979797" stroke-width="0.6"/>
<polygon points="381.62,11.42 530.6,11.42 530.47,14.27 381.48,14.27" fill="#949494" stroke="#949494" stroke-width="0.6"/>
<polygon points="381.48,14.27 530.47,14.27 530.31,17.1 381.32,17.1" fill="#919191" stroke="#919191" stroke-width="0.6"/>
<polygon points="381.32,17.1 530.31,17.1 530.11,19.92 381.13,19.92" fill="#8e8e8e" stroke="#8e8e8e" stroke-width="0.6"/>
<polygon points="381.13,19.92 530.11,19.92 529.89,22.72 380.9,22.72" fill="#8b8b8b" stroke="#8b8b8b" stroke-width="0.6"/>
<polygon points="380.9,22.72 529.89,22.72 529.64,25.51 380.65,25.51" fill="#888888" stroke="#888888" stroke-width="0.6"/>
<polygon points="380.65,25.51 529.64,25.51 529.35,28.29 380.37,28.29" fill="#858585" stroke="#858585" stroke-width="0.6"/>
<polygon points="380.37,28.29 529.35,28.29 529.04,31.04 380.06,31.04" fill="#989898" stroke="#989898" stroke-width="0.6"/>
<polygon points="380.06,31.04 529.04,31.04 528.7,33.77 379.72,33.77" fill="#959595" stroke="#959595" stroke-width="0.6"/>
<polygon points="379.72,33.77 528.7,33.77 528.34,36.48 379.35,36.48" fill="#929292" stroke="#929292" stroke-width="0.6"/>
<polygon points="379.35,36.48 528.34,36.48 527.94,39.17 378.95,39.17" fill="#8f8f8f" stroke="#8f8f8f" stroke-width="0.6"/>
<polygon points="378.95,39.17 527.94,39.17 527.52,41.82 378.53,41.82" fill="#8c8c8c" stroke="#8c8c8c" stroke-width="0.6"/>
<polygon points="378.53,41.82 527.52,41.82 527.07,44.45 378.08,44.45" fill="#8a8a8a" stroke="#8a8a8a" stroke-width="0.6"/>
<polygon points="378.08,44.45 527.07,44.45 526.59,47.05 377.6,47.05" fill="#878787" stroke="#878787" stroke-width="0.6"/>
<polygon points="377.6,47.05 526.59,47.05 526.08,49.62 377.09,49.62" fill="#848484" stroke="#848484" stroke-width="0.6"/>
<polygon points="377.09,49.62 526.08,49.62 525.55,52.15 376.56,52.15" fill="#818181" stroke="#818181" stroke-width="0.6"/>
<polygon points="376.56,52.15 525.55,52.15 524.99,54.64 376,54.64" fill="#7e7e7e" stroke="#7e7e7e" stroke-width="0.6"/>
<polygon points="376,54.64 524.99,54.64 524.4,57.1 375.42,57.1" fill="#919191" stroke="#919191" stroke-width="0.6"/>
<polygon points="375.42,57.1 524.4,57.1 523.79,59.52 374.81,59.52" fill="#8f8f8f" stroke="#8f8f8f" stroke-width="0.6"/>
<polygon points="374.81,59.52 523.79,59.52 523.16,61.9 374.17,61.9" fill="#8c8c8c" stroke="#8c8c8c" stroke-width="0.6"/>
<polygon points="374.17,61.9 523.16,61.9 522.5,64.24 373.51,64.24" fill="#898989" stroke="#898989" stroke-width="0.6"/>
<polygon points="373.51,64.24 522.5,64.24 521.81,66.53 372.83,66.53" fill="#868686" stroke="#868686" stroke-width="0.6"/>
<polygon points="372.83,66.53 521.81,66.53 521.1,68.78 372.12,68.78" fill="#848484" stroke="#848484" stroke-width="0.6"/>
<polygon points="372.12,68.78 521.1,68.78 520.37,70.98 371.39,70.98" fill="#818181" stroke="#818181" stroke-width="0.6"/>
<polygon points="371.39,70.98 520.37,70.98 519.62,73.13 370.63,73.13" fill="#7e7e7e" stroke="#7e7e7e" stroke-width="0.6"/>
<polygon points="370.63,73.13 519.62,73.13 518.84,75.23 369.85,75.23" fill="#7b7b7b" stroke="#7b7b7b" stroke-width="0.6"/>
<polygon points="369.85,75.23 518.84,75.23 518.04,77.28 369.06,77.28" fill="#797979" stroke="#797979" stroke-width="0.6"/>
<polygon points="369.06,77.28 518.04,77.28 517.22,79.28 368.24,79.28" fill="#8a8a8a" stroke="#8a8a8a" stroke-width="0.6"/>
<polygon points="368.24,79.28 517.22,79.28 516.38,81.22 367.4,81.22" fill="#888888" stroke="#888888" stroke-width="0.6"/>
<polygon points="367.4,81.22 516.38,81.22 515.52,83.1 366.54,83.1" fill="#858585" stroke="#858585" stroke-width="0.6"/>
<polygon points="366.54,83.1 515.52,83.1 514.64,84.93 365.66,84.93" fill="#828282" stroke="#828282" stroke-width="0.6"/>
<polygon points="365.66,84.93 514.64,84.93 513.74,86.71 364.76,86.71" fill="#7f7f7f" stroke="#7f7f7f" stroke-width="0.6"/>
<polygon points="364.76,86.71 513.74,86.71 512.83,88.42 363.84,88.42" fill="#7c7c7c" stroke="#7c7c7c" stroke-width="0.6"/>
<polygon points="363.84,88.42 512.83,88.42 511.89,90.07 362.91,90.07" fill="#7a7a7a" stroke="#7a7a7a" stroke-width="0.6"/>
<polygon points="362.91,90.07 511.89,90.07 510.94,91.66 361.95,91.66" fill="#777777" stroke="#777777" stroke-width="0.6"/>
<polygon points="361.95,91.66 510.94,91.66 509.97,93.19 360.99,93.19" fill="#747474" stroke="#747474" stroke-width="0.6"/>
<polygon points="360.99,93.19 509.97,93.19 508.99,94.65 360,94.65" fill="#727272" stroke="#727272" stroke-width="0.6"/>
<polygon points="360,94.65 508.99,94.65 507.99,96.05 359,96.05" fill="#828282" stroke="#828282" stroke-width="0.6"/>
<polygon points="359,96.05 507.99,96.05 506.98,97.38 357.99,97.38" fill="#7f7f7f" stroke="#7f7f7f" stroke-width="0.6"/>
<polygon points="357.99,97.38 506.98,97.38 505.95,98.64 356.97,98.64" fill="#7c7c7c" stroke="#7c7c7c" stroke-width="0.6"/>
<polygon points="356.97,98.64 505.95,98.64 504.91,99.84 355.93,99.84" fill="#787878" stroke="#787878" stroke-width="0.6"/>
<polygon points="355.93,99.84 504.91,99.84 503.86,100.97 354.88,100.97" fill="#757575" stroke="#757575" stroke-width="0.6"/>
<polygon points="354.88,100.97 503.86,100.97 502.8,102.03 353.81,102.03" fill="#727272" stroke="#727272" stroke-width="0.6"/>
<polygon points="353.81,102.03 502.8,102.03 501.72,103.02 352.74,103.02" fill="#6f6f6f" stroke="#6f6f6f" stroke-width="0.6"/>
<polygon points="352.74,103.02 501.72,103.02 500.64,103.94 351.66,103.94" fill="#6c6c6c" stroke="#6c6c6c" stroke-width="0.6"/>
<polygon points="351.66,103.94 500.64,103.94 499.55,104.79 350.56,104.79" fill="#696969" stroke="#696969" stroke-width="0.6"/>
<polygon points="350.56,104.79 499.55,104.79 498.45,105.57 349.46,105.57" fill="#666666" stroke="#666666" stroke-width="0.6"/>
<polygon points="349.46,105.57 498.45,105.57 497.34,106.27 348.35,106.27" fill="#747474" stroke="#747474" stroke-width="0.6"/>
<polygon points="348.35,106.27 497.34,106.27 496.22,106.9 347.24,106.9" fill="#717171" stroke="#717171" stroke-width="0.6"/>
<polygon points="347.24,106.9 496.22,106.9 495.1,107.46 346.11,107.46" fill="#6e6e6e" stroke="#6e6e6e" stroke-width="0.6"/>
<polygon points="346.11,107.46 495.1,107.46 493.97,107.94 344.99,107.94" fill="#6b6b6b" stroke="#6b6b6b" stroke-width="0.6"/>
<polygon points="344.99,107.94 493.97,107.94 492.84,108.36 343.85,108.36" fill="#686868" stroke="#686868" stroke-width="0.6"/>
<polygon points="343.85,108.36 492.84,108.36 491.7,108.69 342.72,108.69" fill="#646464" stroke="#646464" stroke-width="0.6"/>
<polygon points="342.72,108.69 491.7,108.69 490.56,108.95 341.58,108.95" fill="#606060" stroke="#606060" stroke-width="0.6"/>
<polygon points="341.58,108.95 490.56,108.95 489.42,109.14 340.44,109.14" fill="#5d5d5d" stroke="#5d5d5d" stroke-width="0.6"/>
<polygon points="340.44,109.14 489.42,109.14 488.28,109.25 339.29,109.25" fill="#5a5a5a" stroke="#5a5a5a" stroke-width="0.6"/>
<polygon points="339.29,109.25 488.28,109.25 487.13,109.29 338.15,109.29" fill="#565656" stroke="#565656" stroke-width="0.6"/>
<line x1="349.46" y1="-105.57" x2="498.45" y2="-105.57" stroke="#141414" stroke-width="2.8"/>
<line x1="350.71" y1="-104.68" x2="499.69" y2="-104.68" stroke="#d0d0d0" stroke-width="0.8"/>
<line x1="360" y1="-94.65" x2="508.99" y2="-94.65" stroke="#141414" stroke-width="2.8"/>
<line x1="361.12" y1="-92.99" x2="510.1" y2="-92.99" stroke="#d0d0d0" stroke-width="0.8"/>
<line x1="369.06" y1="-77.28" x2="518.04" y2="-77.28" stroke="#141414" stroke-width="2.8"/>
<line x1="369.96" y1="-74.95" x2="518.94" y2="-74.95" stroke="#d0d0d0" stroke-width="0.8"/>
<line x1="376" y1="-54.65" x2="524.99" y2="-54.65" stroke="#141414" stroke-width="2.8"/>
<line x1="376.63" y1="-51.81" x2="525.62" y2="-51.81" stroke="#d0d0d0" stroke-width="0.8"/>
<line x1="380.37" y1="-28.29" x2="529.35" y2="-28.29" stroke="#8a4a30" stroke-width="2.6"/>
<line x1="380.14" y1="-30.31" x2="529.13" y2="-30.31" stroke="#111" stroke-width="1.1"/>
<line x1="380.58" y1="-26.25" x2="529.56" y2="-26.25" stroke="#111" stroke-width="1.1"/>
<line x1="381.86" y1="-0" x2="530.84" y2="-0" stroke="#8a4a30" stroke-width="2.6"/>
<line x1="381.85" y1="-2.1" x2="530.84" y2="-2.1" stroke="#111" stroke-width="1.1"/>
<line x1="381.85" y1="2.1" x2="530.84" y2="2.1" stroke="#111" stroke-width="1.1"/>
<line x1="380.37" y1="28.29" x2="529.35" y2="28.29" stroke="#141414" stroke-width="2.8"/>
<line x1="380.01" y1="31.41" x2="529" y2="31.41" stroke="#d0d0d0" stroke-width="0.8"/>
<line x1="376" y1="54.64" x2="524.99" y2="54.64" stroke="#141414" stroke-width="2.8"/>
<line x1="375.34" y1="57.43" x2="524.32" y2="57.43" stroke="#d0d0d0" stroke-width="0.8"/>
<line x1="369.06" y1="77.28" x2="518.04" y2="77.28" stroke="#141414" stroke-width="2.8"/>
<line x1="368.13" y1="79.54" x2="517.11" y2="79.54" stroke="#d0d0d0" stroke-width="0.8"/>
<line x1="360" y1="94.65" x2="508.99" y2="94.65" stroke="#141414" stroke-width="2.8"/>
<line x1="358.87" y1="96.23" x2="507.86" y2="96.23" stroke="#d0d0d0" stroke-width="0.8"/>
<line x1="349.46" y1="105.57" x2="498.45" y2="105.57" stroke="#141414" stroke-width="2.8"/>
<line x1="348.2" y1="106.36" x2="497.19" y2="106.36" stroke="#d0d0d0" stroke-width="0.8"/>
<line x1="338.15" y1="109.29" x2="487.13" y2="109.29" stroke="#141414" stroke-width="2.8"/>
<line x1="336.85" y1="109.24" x2="485.84" y2="109.24" stroke="#d0d0d0" stroke-width="0.8"/>
<path d="M338.15,-109.29 L487.13,-109.29 A43.71,109.29 0 0 1 487.13,109.29 L338.15,109.29" fill="none" stroke="#111" stroke-width="1.5"/>
<ellipse cx="338.15" cy="0" rx="43.71" ry="109.29" fill="#85827a" stroke="#111" stroke-width="1.3" />
<ellipse cx="338.15" cy="0" rx="38.17" ry="95.45" fill="#4a2818" stroke="#111" stroke-width="1" />
<path d="M282.91,-95.45 L334.8,-95.45 A38.17,95.45 0 0 1 334.8,95.45 L282.91,95.45 Z" fill="#5a3020" stroke="#1a0a02" stroke-width="1"/>
<polyline points="291.95,-87.47 294.21,-87.7 296.47,-87.94 298.72,-88.18 300.79,-88.53 302.55,-89.07 304.03,-89.75 305.23,-90.51 306.19,-91.29 306.95,-92 307.55,-92.59 308.05,-93.01 308.51,-93.21 309,-93.22 309.56,-93.04 310.27,-92.74 311.16,-92.37 312.29,-92.02 313.69,-91.76 315.38,-91.65 317.37,-91.74 319.58,-91.98 321.78,-92.21 323.99,-92.44 326.19,-92.68" fill="none" stroke="#1a0a02" stroke-width="8.6" stroke-linecap="round" stroke-linejoin="round"/>
<polyline points="291.95,-87.47 294.21,-87.7 296.47,-87.94 298.72,-88.18 300.79,-88.53 302.55,-89.07 304.03,-89.75 305.23,-90.51 306.19,-91.29 306.95,-92 307.55,-92.59 308.05,-93.01 308.51,-93.21 309,-93.22 309.56,-93.04 310.27,-92.74 311.16,-92.37 312.29,-92.02 313.69,-91.76 315.38,-91.65 317.37,-91.74 319.58,-91.98 321.78,-92.21 323.99,-92.44 326.19,-92.68" fill="none" stroke="#76422c" stroke-width="6.4" stroke-linecap="round" stroke-linejoin="round"/>
<polyline points="296.47,-87.94 298.72,-88.18 300.79,-88.53 302.55,-89.07 304.03,-89.75 305.23,-90.51 306.19,-91.29 306.95,-92 307.55,-92.59 308.05,-93.01 308.51,-93.21 309,-93.22 309.56,-93.04 310.27,-92.74 311.16,-92.37 312.29,-92.02 313.69,-91.76 315.38,-91.65 317.37,-91.74 319.58,-91.98 321.78,-92.21 323.99,-92.44" fill="none" stroke="#ad7d67" stroke-width="1.8" stroke-linecap="round" transform="translate(-0.8,-1.2)" opacity="0.8"/>
<polyline points="300.7,-78.63 302.98,-78.84 305.26,-79.06 307.54,-79.27 309.65,-79.72 311.48,-80.54 313.05,-81.69 314.37,-83.09 315.45,-84.66 316.34,-86.31 317.06,-87.93 317.66,-89.45 318.2,-90.8 318.74,-91.93 319.35,-92.84 320.07,-93.54 320.98,-94.05 322.11,-94.42 323.51,-94.71 325.2,-94.96 327.22,-95.2 329.44,-95.44 331.68,-95.69 333.91,-95.93 336.14,-96.17" fill="none" stroke="#1a0a02" stroke-width="8.6" stroke-linecap="round" stroke-linejoin="round"/>
<polyline points="300.7,-78.63 302.98,-78.84 305.26,-79.06 307.54,-79.27 309.65,-79.72 311.48,-80.54 313.05,-81.69 314.37,-83.09 315.45,-84.66 316.34,-86.31 317.06,-87.93 317.66,-89.45 318.2,-90.8 318.74,-91.93 319.35,-92.84 320.07,-93.54 320.98,-94.05 322.11,-94.42 323.51,-94.71 325.2,-94.96 327.22,-95.2 329.44,-95.44 331.68,-95.69 333.91,-95.93 336.14,-96.17" fill="none" stroke="#804832" stroke-width="6.4" stroke-linecap="round" stroke-linejoin="round"/>
<polyline points="305.26,-79.06 307.54,-79.27 309.65,-79.72 311.48,-80.54 313.05,-81.69 314.37,-83.09 315.45,-84.66 316.34,-86.31 317.06,-87.93 317.66,-89.45 318.2,-90.8 318.74,-91.93 319.35,-92.84 320.07,-93.54 320.98,-94.05 322.11,-94.42 323.51,-94.71 325.2,-94.96 327.22,-95.2 329.44,-95.44 331.68,-95.69 333.91,-95.93" fill="none" stroke="#b3816a" stroke-width="1.8" stroke-linecap="round" transform="translate(-0.8,-1.2)" opacity="0.8"/>
<polyline points="308.23,-64.44 310.53,-64.61 312.83,-64.79 315.13,-64.96 317.29,-65.48 319.23,-66.53 320.94,-68.06 322.43,-70.01 323.72,-72.27 324.82,-74.73 325.76,-77.28 326.57,-79.8 327.31,-82.2 328.03,-84.39 328.78,-86.32 329.63,-87.96 330.63,-89.32 331.84,-90.39 333.3,-91.21 335.04,-91.8 337.08,-92.17 339.34,-92.41 341.59,-92.64 343.85,-92.88 346.1,-93.11" fill="none" stroke="#1a0a02" stroke-width="8.6" stroke-linecap="round" stroke-linejoin="round"/>
<polyline points="308.23,-64.44 310.53,-64.61 312.83,-64.79 315.13,-64.96 317.29,-65.48 319.23,-66.53 320.94,-68.06 322.43,-70.01 323.72,-72.27 324.82,-74.73 325.76,-77.28 326.57,-79.8 327.31,-82.2 328.03,-84.39 328.78,-86.32 329.63,-87.96 330.63,-89.32 331.84,-90.39 333.3,-91.21 335.04,-91.8 337.08,-92.17 339.34,-92.41 341.59,-92.64 343.85,-92.88 346.1,-93.11" fill="none" stroke="#8a4f38" stroke-width="6.4" stroke-linecap="round" stroke-linejoin="round"/>
<polyline points="312.83,-64.79 315.13,-64.96 317.29,-65.48 319.23,-66.53 320.94,-68.06 322.43,-70.01 323.72,-72.27 324.82,-74.73 325.76,-77.28 326.57,-79.8 327.31,-82.2 328.03,-84.39 328.78,-86.32 329.63,-87.96 330.63,-89.32 331.84,-90.39 333.3,-91.21 335.04,-91.8 337.08,-92.17 339.34,-92.41 341.59,-92.64 343.85,-92.88" fill="none" stroke="#b9866d" stroke-width="1.8" stroke-linecap="round" transform="translate(-0.8,-1.2)" opacity="0.8"/>
<polyline points="314.04,-45.85 316.36,-45.98 318.67,-46.1 320.99,-46.23 323.2,-46.77 325.26,-47.98 327.14,-49.8 328.86,-52.16 330.42,-54.95 331.81,-58.06 333.06,-61.36 334.18,-64.71 335.22,-67.99 336.22,-71.09 337.22,-73.91 338.28,-76.39 339.47,-78.5 340.82,-80.2 342.39,-81.49 344.21,-82.38 346.3,-82.86 348.58,-83.07 350.86,-83.28 353.14,-83.5 355.41,-83.71" fill="none" stroke="#1a0a02" stroke-width="8.6" stroke-linecap="round" stroke-linejoin="round"/>
<polyline points="314.04,-45.85 316.36,-45.98 318.67,-46.1 320.99,-46.23 323.2,-46.77 325.26,-47.98 327.14,-49.8 328.86,-52.16 330.42,-54.95 331.81,-58.06 333.06,-61.36 334.18,-64.71 335.22,-67.99 336.22,-71.09 337.22,-73.91 338.28,-76.39 339.47,-78.5 340.82,-80.2 342.39,-81.49 344.21,-82.38 346.3,-82.86 348.58,-83.07 350.86,-83.28 353.14,-83.5 355.41,-83.71" fill="none" stroke="#93563e" stroke-width="6.4" stroke-linecap="round" stroke-linejoin="round"/>
<polyline points="318.67,-46.1 320.99,-46.23 323.2,-46.77 325.26,-47.98 327.14,-49.8 328.86,-52.16 330.42,-54.95 331.81,-58.06 333.06,-61.36 334.18,-64.71 335.22,-67.99 336.22,-71.09 337.22,-73.91 338.28,-76.39 339.47,-78.5 340.82,-80.2 342.39,-81.49 344.21,-82.38 346.3,-82.86 348.58,-83.07 350.86,-83.28 353.14,-83.5" fill="none" stroke="#be8a71" stroke-width="1.8" stroke-linecap="round" transform="translate(-0.8,-1.2)" opacity="0.8"/>
<polyline points="317.73,-24.14 320.05,-24.21 322.38,-24.27 324.7,-24.34 326.97,-24.88 329.16,-26.16 331.25,-28.14 333.23,-30.75 335.09,-33.89 336.84,-37.44 338.46,-41.26 339.97,-45.22 341.39,-49.15 342.75,-52.94 344.08,-56.47 345.45,-59.62 346.88,-62.33 348.44,-64.54 350.17,-66.22 352.09,-67.34 354.24,-67.9 356.53,-68.08 358.83,-68.25 361.13,-68.42 363.43,-68.6" fill="none" stroke="#1a0a02" stroke-width="8.6" stroke-linecap="round" stroke-linejoin="round"/>
<polyline points="317.73,-24.14 320.05,-24.21 322.38,-24.27 324.7,-24.34 326.97,-24.88 329.16,-26.16 331.25,-28.14 333.23,-30.75 335.09,-33.89 336.84,-37.44 338.46,-41.26 339.97,-45.22 341.39,-49.15 342.75,-52.94 344.08,-56.47 345.45,-59.62 346.88,-62.33 348.44,-64.54 350.17,-66.22 352.09,-67.34 354.24,-67.9 356.53,-68.08 358.83,-68.25 361.13,-68.42 363.43,-68.6" fill="none" stroke="#9a5c42" stroke-width="6.4" stroke-linecap="round" stroke-linejoin="round"/>
<polyline points="322.38,-24.27 324.7,-24.34 326.97,-24.88 329.16,-26.16 331.25,-28.14 333.23,-30.75 335.09,-33.89 336.84,-37.44 338.46,-41.26 339.97,-45.22 341.39,-49.15 342.75,-52.94 344.08,-56.47 345.45,-59.62 346.88,-62.33 348.44,-64.54 350.17,-66.22 352.09,-67.34 354.24,-67.9 356.53,-68.08 358.83,-68.25 361.13,-68.42" fill="none" stroke="#c28d74" stroke-width="1.8" stroke-linecap="round" transform="translate(-0.8,-1.2)" opacity="0.8"/>
<polyline points="319.04,-0.79 321.37,-0.79 323.7,-0.79 326.03,-0.8 328.35,-1.29 330.67,-2.56 332.97,-4.56 335.23,-7.25 337.43,-10.52 339.56,-14.26 341.6,-18.35 343.54,-22.64 345.4,-26.97 347.18,-31.19 348.91,-35.17 350.63,-38.78 352.37,-41.91 354.18,-44.49 356.1,-46.44 358.15,-47.72 360.36,-48.31 362.67,-48.44 364.99,-48.57 367.3,-48.69 369.62,-48.81" fill="none" stroke="#1a0a02" stroke-width="8.6" stroke-linecap="round" stroke-linejoin="round"/>
<polyline points="319.04,-0.79 321.37,-0.79 323.7,-0.79 326.03,-0.8 328.35,-1.29 330.67,-2.56 332.97,-4.56 335.23,-7.25 337.43,-10.52 339.56,-14.26 341.6,-18.35 343.54,-22.64 345.4,-26.97 347.18,-31.19 348.91,-35.17 350.63,-38.78 352.37,-41.91 354.18,-44.49 356.1,-46.44 358.15,-47.72 360.36,-48.31 362.67,-48.44 364.99,-48.57 367.3,-48.69 369.62,-48.81" fill="none" stroke="#9f6046" stroke-width="6.4" stroke-linecap="round" stroke-linejoin="round"/>
<polyline points="323.7,-0.79 326.03,-0.8 328.35,-1.29 330.67,-2.56 332.97,-4.56 335.23,-7.25 337.43,-10.52 339.56,-14.26 341.6,-18.35 343.54,-22.64 345.4,-26.97 347.18,-31.19 348.91,-35.17 350.63,-38.78 352.37,-41.91 354.18,-44.49 356.1,-46.44 358.15,-47.72 360.36,-48.31 362.67,-48.44 364.99,-48.57 367.3,-48.69" fill="none" stroke="#c59076" stroke-width="1.8" stroke-linecap="round" transform="translate(-0.8,-1.2)" opacity="0.8"/>
<polyline points="317.89,22.62 320.21,22.68 322.54,22.74 324.87,22.8 327.24,22.39 329.69,21.22 332.19,19.32 334.73,16.75 337.27,13.57 339.79,9.89 342.26,5.81 344.66,1.49 346.97,-2.94 349.2,-7.32 351.37,-11.48 353.48,-15.3 355.56,-18.64 357.65,-21.4 359.78,-23.49 361.97,-24.85 364.24,-25.43 366.56,-25.51 368.89,-25.57 371.21,-25.64 373.54,-25.7" fill="none" stroke="#1a0a02" stroke-width="8.6" stroke-linecap="round" stroke-linejoin="round"/>
<polyline points="317.89,22.62 320.21,22.68 322.54,22.74 324.87,22.8 327.24,22.39 329.69,21.22 332.19,19.32 334.73,16.75 337.27,13.57 339.79,9.89 342.26,5.81 344.66,1.49 346.97,-2.94 349.2,-7.32 351.37,-11.48 353.48,-15.3 355.56,-18.64 357.65,-21.4 359.78,-23.49 361.97,-24.85 364.24,-25.43 366.56,-25.51 368.89,-25.57 371.21,-25.64 373.54,-25.7" fill="none" stroke="#a46549" stroke-width="6.4" stroke-linecap="round" stroke-linejoin="round"/>
<polyline points="322.54,22.74 324.87,22.8 327.24,22.39 329.69,21.22 332.19,19.32 334.73,16.75 337.27,13.57 339.79,9.89 342.26,5.81 344.66,1.49 346.97,-2.94 349.2,-7.32 351.37,-11.48 353.48,-15.3 355.56,-18.64 357.65,-21.4 359.78,-23.49 361.97,-24.85 364.24,-25.43 366.56,-25.51 368.89,-25.57 371.21,-25.64" fill="none" stroke="#c89378" stroke-width="1.8" stroke-linecap="round" transform="translate(-0.8,-1.2)" opacity="0.8"/>
<polyline points="314.36,44.49 316.67,44.61 318.99,44.73 321.31,44.84 323.72,44.54 326.28,43.55 328.97,41.89 331.76,39.61 334.62,36.74 337.51,33.36 340.39,29.58 343.23,25.51 346,21.28 348.69,17.06 351.29,12.99 353.8,9.22 356.23,5.9 358.61,3.15 360.96,1.06 363.29,-0.28 365.62,-0.82 367.95,-0.83 370.28,-0.84 372.61,-0.84 374.94,-0.84" fill="none" stroke="#1a0a02" stroke-width="8.6" stroke-linecap="round" stroke-linejoin="round"/>
<polyline points="314.36,44.49 316.67,44.61 318.99,44.73 321.31,44.84 323.72,44.54 326.28,43.55 328.97,41.89 331.76,39.61 334.62,36.74 337.51,33.36 340.39,29.58 343.23,25.51 346,21.28 348.69,17.06 351.29,12.99 353.8,9.22 356.23,5.9 358.61,3.15 360.96,1.06 363.29,-0.28 365.62,-0.82 367.95,-0.83 370.28,-0.84 372.61,-0.84 374.94,-0.84" fill="none" stroke="#9a5c41" stroke-width="6.4" stroke-linecap="round" stroke-linejoin="round"/>
<polyline points="318.99,44.73 321.31,44.84 323.72,44.54 326.28,43.55 328.97,41.89 331.76,39.61 334.62,36.74 337.51,33.36 340.39,29.58 343.23,25.51 346,21.28 348.69,17.06 351.29,12.99 353.8,9.22 356.23,5.9 358.61,3.15 360.96,1.06 363.29,-0.28 365.62,-0.82 367.95,-0.83 370.28,-0.84 372.61,-0.84" fill="none" stroke="#c28d73" stroke-width="1.8" stroke-linecap="round" transform="translate(-0.8,-1.2)" opacity="0.8"/>
<polyline points="308.68,63.32 310.98,63.49 313.28,63.67 315.58,63.83 318.02,63.65 320.67,62.91 323.52,61.61 326.53,59.76 329.67,57.4 332.88,54.56 336.13,51.33 339.37,47.79 342.56,44.06 345.67,40.27 348.68,36.57 351.57,33.12 354.34,30.04 357,27.48 359.56,25.54 362.03,24.31 364.41,23.85 366.74,23.9 369.06,23.96 371.39,24.02 373.71,24.08" fill="none" stroke="#1a0a02" stroke-width="8.6" stroke-linecap="round" stroke-linejoin="round"/>
<polyline points="308.68,63.32 310.98,63.49 313.28,63.67 315.58,63.83 318.02,63.65 320.67,62.91 323.52,61.61 326.53,59.76 329.67,57.4 332.88,54.56 336.13,51.33 339.37,47.79 342.56,44.06 345.67,40.27 348.68,36.57 351.57,33.12 354.34,30.04 357,27.48 359.56,25.54 362.03,24.31 364.41,23.85 366.74,23.9 369.06,23.96 371.39,24.02 373.71,24.08" fill="none" stroke="#8f5238" stroke-width="6.4" stroke-linecap="round" stroke-linejoin="round"/>
<polyline points="313.28,63.67 315.58,63.83 318.02,63.65 320.67,62.91 323.52,61.61 326.53,59.76 329.67,57.4 332.88,54.56 336.13,51.33 339.37,47.79 342.56,44.06 345.67,40.27 348.68,36.57 351.57,33.12 354.34,30.04 357,27.48 359.56,25.54 362.03,24.31 364.41,23.85 366.74,23.9 369.06,23.96 371.39,24.02" fill="none" stroke="#bc876e" stroke-width="1.8" stroke-linecap="round" transform="translate(-0.8,-1.2)" opacity="0.8"/>
<polyline points="301.25,77.85 303.53,78.05 305.81,78.26 308.09,78.47 310.54,78.43 313.25,77.98 316.21,77.12 319.39,75.84 322.74,74.15 326.22,72.05 329.77,69.58 333.34,66.82 336.88,63.83 340.35,60.74 343.71,57.67 346.94,54.75 350.01,52.13 352.93,49.94 355.67,48.27 358.26,47.24 360.68,46.89 363,47 365.32,47.12 367.64,47.24 369.95,47.36" fill="none" stroke="#1a0a02" stroke-width="8.6" stroke-linecap="round" stroke-linejoin="round"/>
<polyline points="301.25,77.85 303.53,78.05 305.81,78.26 308.09,78.47 310.54,78.43 313.25,77.98 316.21,77.12 319.39,75.84 322.74,74.15 326.22,72.05 329.77,69.58 333.34,66.82 336.88,63.83 340.35,60.74 343.71,57.67 346.94,54.75 350.01,52.13 352.93,49.94 355.67,48.27 358.26,47.24 360.68,46.89 363,47 365.32,47.12 367.64,47.24 369.95,47.36" fill="none" stroke="#84492f" stroke-width="6.4" stroke-linecap="round" stroke-linejoin="round"/>
<polyline points="305.81,78.26 308.09,78.47 310.54,78.43 313.25,77.98 316.21,77.12 319.39,75.84 322.74,74.15 326.22,72.05 329.77,69.58 333.34,66.82 336.88,63.83 340.35,60.74 343.71,57.67 346.94,54.75 350.01,52.13 352.93,49.94 355.67,48.27 358.26,47.24 360.68,46.89 363,47 365.32,47.12 367.64,47.24" fill="none" stroke="#b58268" stroke-width="1.8" stroke-linecap="round" transform="translate(-0.8,-1.2)" opacity="0.8"/>
<polyline points="292.56,87.06 294.82,87.29 297.08,87.53 299.34,87.76 301.78,87.86 304.53,87.74 307.55,87.38 310.83,86.76 314.32,85.84 317.97,84.62 321.73,83.09 325.54,81.29 329.35,79.26 333.1,77.07 336.74,74.83 340.23,72.66 343.55,70.67 346.66,68.99 349.57,67.72 352.25,66.95 354.7,66.74 357.01,66.9 359.31,67.07 361.61,67.24 363.91,67.41" fill="none" stroke="#1a0a02" stroke-width="8.6" stroke-linecap="round" stroke-linejoin="round"/>
<polyline points="292.56,87.06 294.82,87.29 297.08,87.53 299.34,87.76 301.78,87.86 304.53,87.74 307.55,87.38 310.83,86.76 314.32,85.84 317.97,84.62 321.73,83.09 325.54,81.29 329.35,79.26 333.1,77.07 336.74,74.83 340.23,72.66 343.55,70.67 346.66,68.99 349.57,67.72 352.25,66.95 354.7,66.74 357.01,66.9 359.31,67.07 361.61,67.24 363.91,67.41" fill="none" stroke="#784029" stroke-width="6.4" stroke-linecap="round" stroke-linejoin="round"/>
<polyline points="297.08,87.53 299.34,87.76 301.78,87.86 304.53,87.74 307.55,87.38 310.83,86.76 314.32,85.84 317.97,84.62 321.73,83.09 325.54,81.29 329.35,79.26 333.1,77.07 336.74,74.83 340.23,72.66 343.55,70.67 346.66,68.99 349.57,67.72 352.25,66.95 354.7,66.74 357.01,66.9 359.31,67.07 361.61,67.24" fill="none" stroke="#ae7d65" stroke-width="1.8" stroke-linecap="round" transform="translate(-0.8,-1.2)" opacity="0.8"/>
<polyline points="283.22,90.34 285.45,90.59 287.69,90.83 289.92,91.07 292.35,91.31 295.09,91.53 298.12,91.69 301.43,91.76 304.97,91.69 308.7,91.43 312.56,90.94 316.51,90.22 320.48,89.28 324.4,88.15 328.22,86.9 331.9,85.62 335.38,84.4 338.64,83.35 341.65,82.55 344.4,82.1 346.87,82.04 349.15,82.24 351.43,82.45 353.72,82.66 356,82.87" fill="none" stroke="#1a0a02" stroke-width="8.6" stroke-linecap="round" stroke-linejoin="round"/>
<polyline points="283.22,90.34 285.45,90.59 287.69,90.83 289.92,91.07 292.35,91.31 295.09,91.53 298.12,91.69 301.43,91.76 304.97,91.69 308.7,91.43 312.56,90.94 316.51,90.22 320.48,89.28 324.4,88.15 328.22,86.9 331.9,85.62 335.38,84.4 338.64,83.35 341.65,82.55 344.4,82.1 346.87,82.04 349.15,82.24 351.43,82.45 353.72,82.66 356,82.87" fill="none" stroke="#6a3923" stroke-width="6.4" stroke-linecap="round" stroke-linejoin="round"/>
<polyline points="287.69,90.83 289.92,91.07 292.35,91.31 295.09,91.53 298.12,91.69 301.43,91.76 304.97,91.69 308.7,91.43 312.56,90.94 316.51,90.22 320.48,89.28 324.4,88.15 328.22,86.9 331.9,85.62 335.38,84.4 338.64,83.35 341.65,82.55 344.4,82.1 346.87,82.04 349.15,82.24 351.43,82.45 353.72,82.66" fill="none" stroke="#a67861" stroke-width="1.8" stroke-linecap="round" transform="translate(-0.8,-1.2)" opacity="0.8"/>
<polyline points="273.86,87.47 276.07,87.7 278.27,87.94 280.48,88.18 282.88,88.53 285.58,89.07 288.57,89.75 291.83,90.51 295.33,91.29 299.04,92 302.9,92.59 306.86,93.01 310.87,93.21 314.85,93.22 318.75,93.04 322.51,92.74 326.07,92.37 329.41,92.02 332.48,91.76 335.25,91.65 337.72,91.74 339.98,91.98 342.24,92.21 344.5,92.44 346.75,92.68" fill="none" stroke="#1a0a02" stroke-width="8.6" stroke-linecap="round" stroke-linejoin="round"/>
<polyline points="273.86,87.47 276.07,87.7 278.27,87.94 280.48,88.18 282.88,88.53 285.58,89.07 288.57,89.75 291.83,90.51 295.33,91.29 299.04,92 302.9,92.59 306.86,93.01 310.87,93.21 314.85,93.22 318.75,93.04 322.51,92.74 326.07,92.37 329.41,92.02 332.48,91.76 335.25,91.65 337.72,91.74 339.98,91.98 342.24,92.21 344.5,92.44 346.75,92.68" fill="none" stroke="#5d321e" stroke-width="6.4" stroke-linecap="round" stroke-linejoin="round"/>
<polyline points="278.27,87.94 280.48,88.18 282.88,88.53 285.58,89.07 288.57,89.75 291.83,90.51 295.33,91.29 299.04,92 302.9,92.59 306.86,93.01 310.87,93.21 314.85,93.22 318.75,93.04 322.51,92.74 326.07,92.37 329.41,92.02 332.48,91.76 335.25,91.65 337.72,91.74 339.98,91.98 342.24,92.21 344.5,92.44" fill="none" stroke="#9e745e" stroke-width="1.8" stroke-linecap="round" transform="translate(-0.8,-1.2)" opacity="0.8"/>
<polyline points="265.11,78.63 267.3,78.84 269.48,79.06 271.67,79.27 274.02,79.72 276.65,80.54 279.54,81.69 282.69,83.09 286.07,84.66 289.65,86.31 293.4,87.93 297.26,89.45 301.18,90.8 305.1,91.93 308.96,92.84 312.7,93.54 316.26,94.05 319.59,94.42 322.66,94.71 325.43,94.96 327.87,95.2 330.11,95.44 332.34,95.69 334.58,95.93 336.81,96.17" fill="none" stroke="#1a0a02" stroke-width="8.6" stroke-linecap="round" stroke-linejoin="round"/>
<polyline points="265.11,78.63 267.3,78.84 269.48,79.06 271.67,79.27 274.02,79.72 276.65,80.54 279.54,81.69 282.69,83.09 286.07,84.66 289.65,86.31 293.4,87.93 297.26,89.45 301.18,90.8 305.1,91.93 308.96,92.84 312.7,93.54 316.26,94.05 319.59,94.42 322.66,94.71 325.43,94.96 327.87,95.2 330.11,95.44 332.34,95.69 334.58,95.93 336.81,96.17" fill="none" stroke="#5c321e" stroke-width="6.4" stroke-linecap="round" stroke-linejoin="round"/>
<polyline points="269.48,79.06 271.67,79.27 274.02,79.72 276.65,80.54 279.54,81.69 282.69,83.09 286.07,84.66 289.65,86.31 293.4,87.93 297.26,89.45 301.18,90.8 305.1,91.93 308.96,92.84 312.7,93.54 316.26,94.05 319.59,94.42 322.66,94.71 325.43,94.96 327.87,95.2 330.11,95.44 332.34,95.69 334.58,95.93" fill="none" stroke="#9e745e" stroke-width="1.8" stroke-linecap="round" transform="translate(-0.8,-1.2)" opacity="0.8"/>
<polyline points="287.31,-89.67 289.55,-89.91 291.8,-90.16 294.04,-90.4 296.09,-90.7 297.83,-91.08 299.28,-91.5 300.45,-91.92 301.38,-92.28 302.11,-92.51 302.7,-92.56 303.19,-92.4 303.66,-92.03 304.15,-91.46 304.74,-90.75 305.48,-89.94 306.4,-89.15 307.56,-88.44 308.98,-87.91 310.68,-87.63 312.67,-87.64 314.86,-87.86 317.06,-88.08 319.25,-88.31 321.44,-88.53" fill="none" stroke="#1a0a02" stroke-width="8.6" stroke-linecap="round" stroke-linejoin="round"/>
<polyline points="287.31,-89.67 289.55,-89.91 291.8,-90.16 294.04,-90.4 296.09,-90.7 297.83,-91.08 299.28,-91.5 300.45,-91.92 301.38,-92.28 302.11,-92.51 302.7,-92.56 303.19,-92.4 303.66,-92.03 304.15,-91.46 304.74,-90.75 305.48,-89.94 306.4,-89.15 307.56,-88.44 308.98,-87.91 310.68,-87.63 312.67,-87.64 314.86,-87.86 317.06,-88.08 319.25,-88.31 321.44,-88.53" fill="none" stroke="#96553c" stroke-width="6.4" stroke-linecap="round" stroke-linejoin="round"/>
<polyline points="291.8,-90.16 294.04,-90.4 296.09,-90.7 297.83,-91.08 299.28,-91.5 300.45,-91.92 301.38,-92.28 302.11,-92.51 302.7,-92.56 303.19,-92.4 303.66,-92.03 304.15,-91.46 304.74,-90.75 305.48,-89.94 306.4,-89.15 307.56,-88.44 308.98,-87.91 310.68,-87.63 312.67,-87.64 314.86,-87.86 317.06,-88.08 319.25,-88.31" fill="none" stroke="#c08970" stroke-width="1.8" stroke-linecap="round" transform="translate(-0.8,-1.2)" opacity="0.8"/>
<polyline points="296.44,-83.77 298.71,-83.99 300.98,-84.22 303.24,-84.45 305.33,-84.85 307.13,-85.54 308.65,-86.46 309.9,-87.55 310.91,-88.73 311.72,-89.92 312.36,-91.04 312.9,-92.02 313.39,-92.8 313.89,-93.37 314.46,-93.74 315.16,-93.94 316.05,-94.01 317.17,-94.03 318.56,-94.04 320.25,-94.11 322.25,-94.28 324.47,-94.52 326.68,-94.76 328.9,-95 331.12,-95.24" fill="none" stroke="#1a0a02" stroke-width="8.6" stroke-linecap="round" stroke-linejoin="round"/>
<polyline points="296.44,-83.77 298.71,-83.99 300.98,-84.22 303.24,-84.45 305.33,-84.85 307.13,-85.54 308.65,-86.46 309.9,-87.55 310.91,-88.73 311.72,-89.92 312.36,-91.04 312.9,-92.02 313.39,-92.8 313.89,-93.37 314.46,-93.74 315.16,-93.94 316.05,-94.01 317.17,-94.03 318.56,-94.04 320.25,-94.11 322.25,-94.28 324.47,-94.52 326.68,-94.76 328.9,-95 331.12,-95.24" fill="none" stroke="#9d5a40" stroke-width="6.4" stroke-linecap="round" stroke-linejoin="round"/>
<polyline points="300.98,-84.22 303.24,-84.45 305.33,-84.85 307.13,-85.54 308.65,-86.46 309.9,-87.55 310.91,-88.73 311.72,-89.92 312.36,-91.04 312.9,-92.02 313.39,-92.8 313.89,-93.37 314.46,-93.74 315.16,-93.94 316.05,-94.01 317.17,-94.03 318.56,-94.04 320.25,-94.11 322.25,-94.28 324.47,-94.52 326.68,-94.76 328.9,-95" fill="none" stroke="#c48c73" stroke-width="1.8" stroke-linecap="round" transform="translate(-0.8,-1.2)" opacity="0.8"/>
<polyline points="304.65,-72.15 306.94,-72.35 309.23,-72.54 311.52,-72.74 313.66,-73.23 315.54,-74.17 317.17,-75.52 318.57,-77.21 319.75,-79.14 320.73,-81.22 321.55,-83.32 322.24,-85.36 322.87,-87.24 323.49,-88.92 324.15,-90.35 324.93,-91.53 325.87,-92.47 327.03,-93.2 328.45,-93.76 330.16,-94.18 332.19,-94.49 334.43,-94.74 336.67,-94.98 338.92,-95.22 341.16,-95.46" fill="none" stroke="#1a0a02" stroke-width="8.6" stroke-linecap="round" stroke-linejoin="round"/>
<polyline points="304.65,-72.15 306.94,-72.35 309.23,-72.54 311.52,-72.74 313.66,-73.23 315.54,-74.17 317.17,-75.52 318.57,-77.21 319.75,-79.14 320.73,-81.22 321.55,-83.32 322.24,-85.36 322.87,-87.24 323.49,-88.92 324.15,-90.35 324.93,-91.53 325.87,-92.47 327.03,-93.2 328.45,-93.76 330.16,-94.18 332.19,-94.49 334.43,-94.74 336.67,-94.98 338.92,-95.22 341.16,-95.46" fill="none" stroke="#ac6449" stroke-width="6.4" stroke-linecap="round" stroke-linejoin="round"/>
<polyline points="309.23,-72.54 311.52,-72.74 313.66,-73.23 315.54,-74.17 317.17,-75.52 318.57,-77.21 319.75,-79.14 320.73,-81.22 321.55,-83.32 322.24,-85.36 322.87,-87.24 323.49,-88.92 324.15,-90.35 324.93,-91.53 325.87,-92.47 327.03,-93.2 328.45,-93.76 330.16,-94.18 332.19,-94.49 334.43,-94.74 336.67,-94.98 338.92,-95.22" fill="none" stroke="#cd9278" stroke-width="1.8" stroke-linecap="round" transform="translate(-0.8,-1.2)" opacity="0.8"/>
<polyline points="311.38,-55.62 313.69,-55.77 316,-55.92 318.3,-56.08 320.49,-56.61 322.48,-57.75 324.28,-59.44 325.88,-61.61 327.29,-64.16 328.53,-66.97 329.61,-69.92 330.57,-72.88 331.45,-75.74 332.3,-78.41 333.16,-80.8 334.11,-82.89 335.19,-84.63 336.46,-86.03 337.97,-87.1 339.75,-87.84 341.81,-88.27 344.08,-88.5 346.35,-88.72 348.61,-88.95 350.88,-89.17" fill="none" stroke="#1a0a02" stroke-width="8.6" stroke-linecap="round" stroke-linejoin="round"/>
<polyline points="311.38,-55.62 313.69,-55.77 316,-55.92 318.3,-56.08 320.49,-56.61 322.48,-57.75 324.28,-59.44 325.88,-61.61 327.29,-64.16 328.53,-66.97 329.61,-69.92 330.57,-72.88 331.45,-75.74 332.3,-78.41 333.16,-80.8 334.11,-82.89 335.19,-84.63 336.46,-86.03 337.97,-87.1 339.75,-87.84 341.81,-88.27 344.08,-88.5 346.35,-88.72 348.61,-88.95 350.88,-89.17" fill="none" stroke="#bb6f52" stroke-width="6.4" stroke-linecap="round" stroke-linejoin="round"/>
<polyline points="316,-55.92 318.3,-56.08 320.49,-56.61 322.48,-57.75 324.28,-59.44 325.88,-61.61 327.29,-64.16 328.53,-66.97 329.61,-69.92 330.57,-72.88 331.45,-75.74 332.3,-78.41 333.16,-80.8 334.11,-82.89 335.19,-84.63 336.46,-86.03 337.97,-87.1 339.75,-87.84 341.81,-88.27 344.08,-88.5 346.35,-88.72 348.61,-88.95" fill="none" stroke="#d6997d" stroke-width="1.8" stroke-linecap="round" transform="translate(-0.8,-1.2)" opacity="0.8"/>
<polyline points="316.17,-35.3 318.49,-35.4 320.81,-35.49 323.13,-35.59 325.38,-36.13 327.49,-37.39 329.48,-39.3 331.33,-41.81 333.03,-44.8 334.59,-48.16 336.02,-51.75 337.33,-55.44 338.55,-59.08 339.72,-62.55 340.88,-65.75 342.09,-68.59 343.39,-71.02 344.84,-73 346.48,-74.49 348.35,-75.51 350.46,-76.03 352.75,-76.23 355.04,-76.42 357.33,-76.61 359.62,-76.81" fill="none" stroke="#1a0a02" stroke-width="8.6" stroke-linecap="round" stroke-linejoin="round"/>
<polyline points="316.17,-35.3 318.49,-35.4 320.81,-35.49 323.13,-35.59 325.38,-36.13 327.49,-37.39 329.48,-39.3 331.33,-41.81 333.03,-44.8 334.59,-48.16 336.02,-51.75 337.33,-55.44 338.55,-59.08 339.72,-62.55 340.88,-65.75 342.09,-68.59 343.39,-71.02 344.84,-73 346.48,-74.49 348.35,-75.51 350.46,-76.03 352.75,-76.23 355.04,-76.42 357.33,-76.61 359.62,-76.81" fill="none" stroke="#c9795b" stroke-width="6.4" stroke-linecap="round" stroke-linejoin="round"/>
<polyline points="320.81,-35.49 323.13,-35.59 325.38,-36.13 327.49,-37.39 329.48,-39.3 331.33,-41.81 333.03,-44.8 334.59,-48.16 336.02,-51.75 337.33,-55.44 338.55,-59.08 339.72,-62.55 340.88,-65.75 342.09,-68.59 343.39,-71.02 344.84,-73 346.48,-74.49 348.35,-75.51 350.46,-76.03 352.75,-76.23 355.04,-76.42 357.33,-76.61" fill="none" stroke="#df9f82" stroke-width="1.8" stroke-linecap="round" transform="translate(-0.8,-1.2)" opacity="0.8"/>
<polyline points="318.69,-12.57 321.02,-12.61 323.34,-12.64 325.67,-12.68 327.97,-13.2 330.22,-14.48 332.42,-16.49 334.54,-19.16 336.57,-22.39 338.5,-26.07 340.33,-30.06 342.05,-34.22 343.68,-38.39 345.25,-42.43 346.77,-46.21 348.31,-49.63 349.9,-52.57 351.58,-54.99 353.39,-56.82 355.38,-58.03 357.55,-58.6 359.86,-58.76 362.17,-58.91 364.48,-59.06 366.78,-59.21" fill="none" stroke="#1a0a02" stroke-width="8.6" stroke-linecap="round" stroke-linejoin="round"/>
<polyline points="318.69,-12.57 321.02,-12.61 323.34,-12.64 325.67,-12.68 327.97,-13.2 330.22,-14.48 332.42,-16.49 334.54,-19.16 336.57,-22.39 338.5,-26.07 340.33,-30.06 342.05,-34.22 343.68,-38.39 345.25,-42.43 346.77,-46.21 348.31,-49.63 349.9,-52.57 351.58,-54.99 353.39,-56.82 355.38,-58.03 357.55,-58.6 359.86,-58.76 362.17,-58.91 364.48,-59.06 366.78,-59.21" fill="none" stroke="#d08060" stroke-width="6.4" stroke-linecap="round" stroke-linejoin="round"/>
<polyline points="323.34,-12.64 325.67,-12.68 327.97,-13.2 330.22,-14.48 332.42,-16.49 334.54,-19.16 336.57,-22.39 338.5,-26.07 340.33,-30.06 342.05,-34.22 343.68,-38.39 345.25,-42.43 346.77,-46.21 348.31,-49.63 349.9,-52.57 351.58,-54.99 353.39,-56.82 355.38,-58.03 357.55,-58.6 359.86,-58.76 362.17,-58.91 364.48,-59.06" fill="none" stroke="#e3a386" stroke-width="1.8" stroke-linecap="round" transform="translate(-0.8,-1.2)" opacity="0.8"/>
<polyline points="318.77,11.01 321.1,11.04 323.43,11.07 325.76,11.09 328.11,10.64 330.49,9.41 332.89,7.44 335.29,4.79 337.67,1.54 339.99,-2.21 342.24,-6.32 344.41,-10.67 346.5,-15.08 348.5,-19.42 350.45,-23.53 352.36,-27.28 354.27,-30.54 356.22,-33.23 358.24,-35.26 360.36,-36.6 362.6,-37.19 364.92,-37.29 367.24,-37.39 369.56,-37.48 371.88,-37.58" fill="none" stroke="#1a0a02" stroke-width="8.6" stroke-linecap="round" stroke-linejoin="round"/>
<polyline points="318.77,11.01 321.1,11.04 323.43,11.07 325.76,11.09 328.11,10.64 330.49,9.41 332.89,7.44 335.29,4.79 337.67,1.54 339.99,-2.21 342.24,-6.32 344.41,-10.67 346.5,-15.08 348.5,-19.42 350.45,-23.53 352.36,-27.28 354.27,-30.54 356.22,-33.23 358.24,-35.26 360.36,-36.6 362.6,-37.19 364.92,-37.29 367.24,-37.39 369.56,-37.48 371.88,-37.58" fill="none" stroke="#d88866" stroke-width="6.4" stroke-linecap="round" stroke-linejoin="round"/>
<polyline points="323.43,11.07 325.76,11.09 328.11,10.64 330.49,9.41 332.89,7.44 335.29,4.79 337.67,1.54 339.99,-2.21 342.24,-6.32 344.41,-10.67 346.5,-15.08 348.5,-19.42 350.45,-23.53 352.36,-27.28 354.27,-30.54 356.22,-33.23 358.24,-35.26 360.36,-36.6 362.6,-37.19 364.92,-37.29 367.24,-37.39 369.56,-37.48" fill="none" stroke="#e8a889" stroke-width="1.8" stroke-linecap="round" transform="translate(-0.8,-1.2)" opacity="0.8"/>
<polyline points="316.41,33.84 318.73,33.94 321.05,34.03 323.38,34.11 325.77,33.75 328.28,32.66 330.88,30.87 333.54,28.42 336.25,25.37 338.96,21.81 341.64,17.85 344.26,13.61 346.81,9.25 349.27,4.91 351.65,0.76 353.96,-3.07 356.22,-6.43 358.46,-9.21 360.69,-11.31 362.95,-12.67 365.25,-13.24 367.58,-13.28 369.91,-13.32 372.24,-13.35 374.56,-13.39" fill="none" stroke="#1a0a02" stroke-width="8.6" stroke-linecap="round" stroke-linejoin="round"/>
<polyline points="316.41,33.84 318.73,33.94 321.05,34.03 323.38,34.11 325.77,33.75 328.28,32.66 330.88,30.87 333.54,28.42 336.25,25.37 338.96,21.81 341.64,17.85 344.26,13.61 346.81,9.25 349.27,4.91 351.65,0.76 353.96,-3.07 356.22,-6.43 358.46,-9.21 360.69,-11.31 362.95,-12.67 365.25,-13.24 367.58,-13.28 369.91,-13.32 372.24,-13.35 374.56,-13.39" fill="none" stroke="#d48563" stroke-width="6.4" stroke-linecap="round" stroke-linejoin="round"/>
<polyline points="321.05,34.03 323.38,34.11 325.77,33.75 328.28,32.66 330.88,30.87 333.54,28.42 336.25,25.37 338.96,21.81 341.64,17.85 344.26,13.61 346.81,9.25 349.27,4.91 351.65,0.76 353.96,-3.07 356.22,-6.43 358.46,-9.21 360.69,-11.31 362.95,-12.67 365.25,-13.24 367.58,-13.28 369.91,-13.32 372.24,-13.35" fill="none" stroke="#e5a687" stroke-width="1.8" stroke-linecap="round" transform="translate(-0.8,-1.2)" opacity="0.8"/>
<polyline points="311.76,54.37 314.07,54.52 316.38,54.66 318.69,54.81 321.12,54.56 323.73,53.69 326.5,52.2 329.41,50.11 332.41,47.47 335.48,44.34 338.55,40.8 341.6,36.97 344.58,32.95 347.49,28.91 350.29,25 352.99,21.35 355.6,18.12 358.13,15.44 360.58,13.41 362.98,12.12 365.34,11.61 367.67,11.63 370,11.66 372.32,11.69 374.65,11.72" fill="none" stroke="#1a0a02" stroke-width="8.6" stroke-linecap="round" stroke-linejoin="round"/>
<polyline points="311.76,54.37 314.07,54.52 316.38,54.66 318.69,54.81 321.12,54.56 323.73,53.69 326.5,52.2 329.41,50.11 332.41,47.47 335.48,44.34 338.55,40.8 341.6,36.97 344.58,32.95 347.49,28.91 350.29,25 352.99,21.35 355.6,18.12 358.13,15.44 360.58,13.41 362.98,12.12 365.34,11.61 367.67,11.63 370,11.66 372.32,11.69 374.65,11.72" fill="none" stroke="#c47655" stroke-width="6.4" stroke-linecap="round" stroke-linejoin="round"/>
<polyline points="316.38,54.66 318.69,54.81 321.12,54.56 323.73,53.69 326.5,52.2 329.41,50.11 332.41,47.47 335.48,44.34 338.55,40.8 341.6,36.97 344.58,32.95 347.49,28.91 350.29,25 352.99,21.35 355.6,18.12 358.13,15.44 360.58,13.41 362.98,12.12 365.34,11.61 367.67,11.63 370,11.66 372.32,11.69" fill="none" stroke="#db9d7f" stroke-width="1.8" stroke-linecap="round" transform="translate(-0.8,-1.2)" opacity="0.8"/>
<polyline points="305.15,71.19 307.44,71.39 309.74,71.58 312.03,71.76 314.47,71.65 317.16,71.05 320.07,69.96 323.17,68.39 326.42,66.34 329.78,63.85 333.19,60.98 336.61,57.8 339.98,54.41 343.28,50.94 346.47,47.53 349.54,44.31 352.47,41.44 355.26,39.04 357.92,37.22 360.44,36.08 362.85,35.67 365.17,35.75 367.49,35.85 369.82,35.94 372.14,36.03" fill="none" stroke="#1a0a02" stroke-width="8.6" stroke-linecap="round" stroke-linejoin="round"/>
<polyline points="305.15,71.19 307.44,71.39 309.74,71.58 312.03,71.76 314.47,71.65 317.16,71.05 320.07,69.96 323.17,68.39 326.42,66.34 329.78,63.85 333.19,60.98 336.61,57.8 339.98,54.41 343.28,50.94 346.47,47.53 349.54,44.31 352.47,41.44 355.26,39.04 357.92,37.22 360.44,36.08 362.85,35.67 365.17,35.75 367.49,35.85 369.82,35.94 372.14,36.03" fill="none" stroke="#b36748" stroke-width="6.4" stroke-linecap="round" stroke-linejoin="round"/>
<polyline points="309.74,71.58 312.03,71.76 314.47,71.65 317.16,71.05 320.07,69.96 323.17,68.39 326.42,66.34 329.78,63.85 333.19,60.98 336.61,57.8 339.98,54.41 343.28,50.94 346.47,47.53 349.54,44.31 352.47,41.44 355.26,39.04 357.92,37.22 360.44,36.08 362.85,35.67 365.17,35.75 367.49,35.85 369.82,35.94" fill="none" stroke="#d29477" stroke-width="1.8" stroke-linecap="round" transform="translate(-0.8,-1.2)" opacity="0.8"/>
<polyline points="297.02,83.16 299.29,83.39 301.56,83.61 303.84,83.83 306.29,83.86 309.02,83.58 312.02,82.96 315.25,82 318.68,80.68 322.26,79.01 325.93,77 329.63,74.69 333.32,72.16 336.94,69.5 340.45,66.82 343.82,64.26 347.02,61.93 350.04,59.98 352.88,58.5 355.51,57.59 357.95,57.3 360.26,57.44 362.57,57.59 364.88,57.73 367.19,57.88" fill="none" stroke="#1a0a02" stroke-width="8.6" stroke-linecap="round" stroke-linejoin="round"/>
<polyline points="297.02,83.16 299.29,83.39 301.56,83.61 303.84,83.83 306.29,83.86 309.02,83.58 312.02,82.96 315.25,82 318.68,80.68 322.26,79.01 325.93,77 329.63,74.69 333.32,72.16 336.94,69.5 340.45,66.82 343.82,64.26 347.02,61.93 350.04,59.98 352.88,58.5 355.51,57.59 357.95,57.3 360.26,57.44 362.57,57.59 364.88,57.73 367.19,57.88" fill="none" stroke="#a2583b" stroke-width="6.4" stroke-linecap="round" stroke-linejoin="round"/>
<polyline points="301.56,83.61 303.84,83.83 306.29,83.86 309.02,83.58 312.02,82.96 315.25,82 318.68,80.68 322.26,79.01 325.93,77 329.63,74.69 333.32,72.16 336.94,69.5 340.45,66.82 343.82,64.26 347.02,61.93 350.04,59.98 352.88,58.5 355.51,57.59 357.95,57.3 360.26,57.44 362.57,57.59 364.88,57.73" fill="none" stroke="#c78b6f" stroke-width="1.8" stroke-linecap="round" transform="translate(-0.8,-1.2)" opacity="0.8"/>
<polyline points="287.93,89.47 290.18,89.71 292.43,89.95 294.67,90.19 297.11,90.36 299.86,90.41 302.89,90.31 306.19,90.03 309.72,89.53 313.42,88.78 317.25,87.77 321.14,86.5 325.04,84.99 328.89,83.32 332.64,81.56 336.23,79.82 339.64,78.2 342.84,76.83 345.81,75.79 348.52,75.17 350.98,75.03 353.28,75.21 355.57,75.4 357.86,75.6 360.16,75.79" fill="none" stroke="#1a0a02" stroke-width="8.6" stroke-linecap="round" stroke-linejoin="round"/>
<polyline points="287.93,89.47 290.18,89.71 292.43,89.95 294.67,90.19 297.11,90.36 299.86,90.41 302.89,90.31 306.19,90.03 309.72,89.53 313.42,88.78 317.25,87.77 321.14,86.5 325.04,84.99 328.89,83.32 332.64,81.56 336.23,79.82 339.64,78.2 342.84,76.83 345.81,75.79 348.52,75.17 350.98,75.03 353.28,75.21 355.57,75.4 357.86,75.6 360.16,75.79" fill="none" stroke="#8e4d33" stroke-width="6.4" stroke-linecap="round" stroke-linejoin="round"/>
<polyline points="292.43,89.95 294.67,90.19 297.11,90.36 299.86,90.41 302.89,90.31 306.19,90.03 309.72,89.53 313.42,88.78 317.25,87.77 321.14,86.5 325.04,84.99 328.89,83.32 332.64,81.56 336.23,79.82 339.64,78.2 342.84,76.83 345.81,75.79 348.52,75.17 350.98,75.03 353.28,75.21 355.57,75.4 357.86,75.6" fill="none" stroke="#bb846a" stroke-width="1.8" stroke-linecap="round" transform="translate(-0.8,-1.2)" opacity="0.8"/>
<polyline points="278.5,89.67 280.72,89.91 282.94,90.16 285.17,90.4 287.58,90.7 290.3,91.08 293.32,91.5 296.61,91.92 300.15,92.28 303.88,92.51 307.75,92.56 311.72,92.4 315.72,92.03 319.69,91.46 323.56,90.75 327.29,89.94 330.83,89.15 334.14,88.44 337.19,87.91 339.95,87.63 342.42,87.64 344.69,87.86 346.96,88.08 349.23,88.31 351.5,88.53" fill="none" stroke="#1a0a02" stroke-width="8.6" stroke-linecap="round" stroke-linejoin="round"/>
<polyline points="278.5,89.67 280.72,89.91 282.94,90.16 285.17,90.4 287.58,90.7 290.3,91.08 293.32,91.5 296.61,91.92 300.15,92.28 303.88,92.51 307.75,92.56 311.72,92.4 315.72,92.03 319.69,91.46 323.56,90.75 327.29,89.94 330.83,89.15 334.14,88.44 337.19,87.91 339.95,87.63 342.42,87.64 344.69,87.86 346.96,88.08 349.23,88.31 351.5,88.53" fill="none" stroke="#79422a" stroke-width="6.4" stroke-linecap="round" stroke-linejoin="round"/>
<polyline points="282.94,90.16 285.17,90.4 287.58,90.7 290.3,91.08 293.32,91.5 296.61,91.92 300.15,92.28 303.88,92.51 307.75,92.56 311.72,92.4 315.72,92.03 319.69,91.46 323.56,90.75 327.29,89.94 330.83,89.15 334.14,88.44 337.19,87.91 339.95,87.63 342.42,87.64 344.69,87.86 346.96,88.08 349.23,88.31" fill="none" stroke="#af7e65" stroke-width="1.8" stroke-linecap="round" transform="translate(-0.8,-1.2)" opacity="0.8"/>
<polyline points="269.37,83.77 271.57,83.99 273.76,84.22 275.96,84.45 278.34,84.85 281,85.54 283.95,86.46 287.16,87.55 290.61,88.73 294.27,89.92 298.09,91.04 302.01,92.02 305.99,92.8 309.96,93.37 313.85,93.74 317.61,93.94 321.19,94.01 324.53,94.03 327.61,94.04 330.38,94.11 332.84,94.28 335.09,94.52 337.34,94.76 339.58,95 341.83,95.24" fill="none" stroke="#1a0a02" stroke-width="8.6" stroke-linecap="round" stroke-linejoin="round"/>
<polyline points="269.37,83.77 271.57,83.99 273.76,84.22 275.96,84.45 278.34,84.85 281,85.54 283.95,86.46 287.16,87.55 290.61,88.73 294.27,89.92 298.09,91.04 302.01,92.02 305.99,92.8 309.96,93.37 313.85,93.74 317.61,93.94 321.19,94.01 324.53,94.03 327.61,94.04 330.38,94.11 332.84,94.28 335.09,94.52 337.34,94.76 339.58,95 341.83,95.24" fill="none" stroke="#6e3c26" stroke-width="6.4" stroke-linecap="round" stroke-linejoin="round"/>
<polyline points="273.76,84.22 275.96,84.45 278.34,84.85 281,85.54 283.95,86.46 287.16,87.55 290.61,88.73 294.27,89.92 298.09,91.04 302.01,92.02 305.99,92.8 309.96,93.37 313.85,93.74 317.61,93.94 321.19,94.01 324.53,94.03 327.61,94.04 330.38,94.11 332.84,94.28 335.09,94.52 337.34,94.76 339.58,95" fill="none" stroke="#a87a63" stroke-width="1.8" stroke-linecap="round" transform="translate(-0.8,-1.2)" opacity="0.8"/>
<path d="M262.82,-96.54 L282.91,-96.54 A38.61,96.54 0 0 1 282.91,96.54 L262.82,96.54 Z" fill="#bbb" stroke="#111" stroke-width="1.3"/>
<polygon points="262.82,-96.54 282.91,-96.54 284.93,-96.41 264.84,-96.41" fill="#989182" stroke="#989182" stroke-width="0.6"/>
<polygon points="264.84,-96.41 284.93,-96.41 286.94,-96.01 266.85,-96.01" fill="#9b9485" stroke="#9b9485" stroke-width="0.6"/>
<polygon points="266.85,-96.01 286.94,-96.01 288.95,-95.35 268.86,-95.35" fill="#9f9888" stroke="#9f9888" stroke-width="0.6"/>
<polygon points="268.86,-95.35 288.95,-95.35 290.93,-94.43 270.85,-94.43" fill="#a29b8b" stroke="#a29b8b" stroke-width="0.6"/>
<polygon points="270.85,-94.43 290.93,-94.43 292.9,-93.25 272.81,-93.25" fill="#a59e8f" stroke="#a59e8f" stroke-width="0.6"/>
<polygon points="272.81,-93.25 292.9,-93.25 294.84,-91.81 274.75,-91.81" fill="#a9a292" stroke="#a9a292" stroke-width="0.6"/>
<polygon points="274.75,-91.81 294.84,-91.81 296.74,-90.13 276.65,-90.13" fill="#aca595" stroke="#aca595" stroke-width="0.6"/>
<polygon points="276.65,-90.13 296.74,-90.13 298.61,-88.19 278.52,-88.19" fill="#b0a998" stroke="#b0a998" stroke-width="0.6"/>
<polygon points="278.52,-88.19 298.61,-88.19 300.43,-86.02 280.35,-86.02" fill="#b3ac9c" stroke="#b3ac9c" stroke-width="0.6"/>
<polygon points="280.35,-86.02 300.43,-86.02 302.21,-83.61 282.12,-83.61" fill="#b7b09f" stroke="#b7b09f" stroke-width="0.6"/>
<polygon points="282.12,-83.61 302.21,-83.61 303.93,-80.96 283.85,-80.96" fill="#bab3a2" stroke="#bab3a2" stroke-width="0.6"/>
<polygon points="283.85,-80.96 303.93,-80.96 305.6,-78.1 285.51,-78.1" fill="#bdb6a5" stroke="#bdb6a5" stroke-width="0.6"/>
<polygon points="285.51,-78.1 305.6,-78.1 307.2,-75.03 287.12,-75.03" fill="#c0baa9" stroke="#c0baa9" stroke-width="0.6"/>
<polygon points="287.12,-75.03 307.2,-75.03 308.74,-71.74 288.65,-71.74" fill="#c4bdac" stroke="#c4bdac" stroke-width="0.6"/>
<polygon points="288.65,-71.74 308.74,-71.74 310.21,-68.26 290.12,-68.26" fill="#c6c0af" stroke="#c6c0af" stroke-width="0.6"/>
<polygon points="290.12,-68.26 310.21,-68.26 311.6,-64.6 291.51,-64.6" fill="#cac3b3" stroke="#cac3b3" stroke-width="0.6"/>
<polygon points="291.51,-64.6 311.6,-64.6 312.91,-60.75 292.82,-60.75" fill="#ccc6b6" stroke="#ccc6b6" stroke-width="0.6"/>
<polygon points="292.82,-60.75 312.91,-60.75 314.14,-56.74 294.05,-56.74" fill="#d0caba" stroke="#d0caba" stroke-width="0.6"/>
<polygon points="294.05,-56.74 314.14,-56.74 315.29,-52.58 295.2,-52.58" fill="#d2cdbd" stroke="#d2cdbd" stroke-width="0.6"/>
<polygon points="295.2,-52.58 315.29,-52.58 316.34,-48.27 296.26,-48.27" fill="#d6d0c0" stroke="#d6d0c0" stroke-width="0.6"/>
<polygon points="296.26,-48.27 316.34,-48.27 317.31,-43.83 297.22,-43.83" fill="#d8d3c4" stroke="#d8d3c4" stroke-width="0.6"/>
<polygon points="297.22,-43.83 317.31,-43.83 318.18,-39.27 298.09,-39.27" fill="#dcd6c7" stroke="#dcd6c7" stroke-width="0.6"/>
<polygon points="298.09,-39.27 318.18,-39.27 318.95,-34.6 298.86,-34.6" fill="#ded9ca" stroke="#ded9ca" stroke-width="0.6"/>
<polygon points="298.86,-34.6 318.95,-34.6 319.63,-29.83 299.54,-29.83" fill="#e1dccd" stroke="#e1dccd" stroke-width="0.6"/>
<polygon points="299.54,-29.83 319.63,-29.83 320.2,-24.99 300.11,-24.99" fill="#ded9ca" stroke="#ded9ca" stroke-width="0.6"/>
<polygon points="300.11,-24.99 320.2,-24.99 320.67,-20.07 300.58,-20.07" fill="#dcd6c7" stroke="#dcd6c7" stroke-width="0.6"/>
<polygon points="300.58,-20.07 320.67,-20.07 321.04,-15.1 300.95,-15.1" fill="#d9d4c4" stroke="#d9d4c4" stroke-width="0.6"/>
<polygon points="300.95,-15.1 321.04,-15.1 321.3,-10.09 301.22,-10.09" fill="#d7d1c2" stroke="#d7d1c2" stroke-width="0.6"/>
<polygon points="301.22,-10.09 321.3,-10.09 321.46,-5.05 301.38,-5.05" fill="#d5cebf" stroke="#d5cebf" stroke-width="0.6"/>
<polygon points="301.38,-5.05 321.46,-5.05 321.52,-0 301.43,-0" fill="#d2ccbc" stroke="#d2ccbc" stroke-width="0.6"/>
<polygon points="301.43,-0 321.52,-0 321.46,5.05 301.38,5.05" fill="#d0c9b9" stroke="#d0c9b9" stroke-width="0.6"/>
<polygon points="301.38,5.05 321.46,5.05 321.3,10.09 301.22,10.09" fill="#cdc6b6" stroke="#cdc6b6" stroke-width="0.6"/>
<polygon points="301.22,10.09 321.3,10.09 321.04,15.1 300.95,15.1" fill="#cac3b3" stroke="#cac3b3" stroke-width="0.6"/>
<polygon points="300.95,15.1 321.04,15.1 320.67,20.07 300.58,20.07" fill="#c6bfaf" stroke="#c6bfaf" stroke-width="0.6"/>
<polygon points="300.58,20.07 320.67,20.07 320.2,24.99 300.11,24.99" fill="#c2bbab" stroke="#c2bbab" stroke-width="0.6"/>
<polygon points="300.11,24.99 320.2,24.99 319.63,29.83 299.54,29.83" fill="#beb7a8" stroke="#beb7a8" stroke-width="0.6"/>
<polygon points="299.54,29.83 319.63,29.83 318.95,34.6 298.86,34.6" fill="#bab3a4" stroke="#bab3a4" stroke-width="0.6"/>
<polygon points="298.86,34.6 318.95,34.6 318.18,39.27 298.09,39.27" fill="#b6b0a0" stroke="#b6b0a0" stroke-width="0.6"/>
<polygon points="298.09,39.27 318.18,39.27 317.31,43.83 297.22,43.83" fill="#b3ac9c" stroke="#b3ac9c" stroke-width="0.6"/>
<polygon points="297.22,43.83 317.31,43.83 316.34,48.27 296.26,48.27" fill="#afa898" stroke="#afa898" stroke-width="0.6"/>
<polygon points="296.26,48.27 316.34,48.27 315.29,52.58 295.2,52.58" fill="#aba495" stroke="#aba495" stroke-width="0.6"/>
<polygon points="295.2,52.58 315.29,52.58 314.14,56.74 294.05,56.74" fill="#a7a091" stroke="#a7a091" stroke-width="0.6"/>
<polygon points="294.05,56.74 314.14,56.74 312.91,60.75 292.82,60.75" fill="#a39c8d" stroke="#a39c8d" stroke-width="0.6"/>
<polygon points="292.82,60.75 312.91,60.75 311.6,64.6 291.51,64.6" fill="#a0998a" stroke="#a0998a" stroke-width="0.6"/>
<polygon points="291.51,64.6 311.6,64.6 310.21,68.26 290.12,68.26" fill="#9c9687" stroke="#9c9687" stroke-width="0.6"/>
<polygon points="290.12,68.26 310.21,68.26 308.74,71.74 288.65,71.74" fill="#9a9384" stroke="#9a9384" stroke-width="0.6"/>
<polygon points="288.65,71.74 308.74,71.74 307.2,75.03 287.12,75.03" fill="#969081" stroke="#969081" stroke-width="0.6"/>
<polygon points="287.12,75.03 307.2,75.03 305.6,78.1 285.51,78.1" fill="#948d7e" stroke="#948d7e" stroke-width="0.6"/>
<polygon points="285.51,78.1 305.6,78.1 303.93,80.96 283.85,80.96" fill="#908a7c" stroke="#908a7c" stroke-width="0.6"/>
<polygon points="283.85,80.96 303.93,80.96 302.21,83.61 282.12,83.61" fill="#8e8779" stroke="#8e8779" stroke-width="0.6"/>
<polygon points="282.12,83.61 302.21,83.61 300.43,86.02 280.35,86.02" fill="#8a8476" stroke="#8a8476" stroke-width="0.6"/>
<polygon points="280.35,86.02 300.43,86.02 298.61,88.19 278.52,88.19" fill="#888173" stroke="#888173" stroke-width="0.6"/>
<polygon points="278.52,88.19 298.61,88.19 296.74,90.13 276.65,90.13" fill="#847e70" stroke="#847e70" stroke-width="0.6"/>
<polygon points="276.65,90.13 296.74,90.13 294.84,91.81 274.75,91.81" fill="#817b6e" stroke="#817b6e" stroke-width="0.6"/>
<polygon points="274.75,91.81 294.84,91.81 292.9,93.25 272.81,93.25" fill="#7e786a" stroke="#7e786a" stroke-width="0.6"/>
<polygon points="272.81,93.25 292.9,93.25 290.93,94.43 270.85,94.43" fill="#7a7468" stroke="#7a7468" stroke-width="0.6"/>
<polygon points="270.85,94.43 290.93,94.43 288.95,95.35 268.86,95.35" fill="#767164" stroke="#767164" stroke-width="0.6"/>
<polygon points="268.86,95.35 288.95,95.35 286.94,96.01 266.85,96.01" fill="#726d62" stroke="#726d62" stroke-width="0.6"/>
<polygon points="266.85,96.01 286.94,96.01 284.93,96.41 264.84,96.41" fill="#6f695e" stroke="#6f695e" stroke-width="0.6"/>
<polygon points="264.84,96.41 284.93,96.41 282.91,96.54 262.82,96.54" fill="#6b665c" stroke="#6b665c" stroke-width="0.6"/>
<path d="M262.82,-96.54 L282.91,-96.54 A38.61,96.54 0 0 1 282.91,96.54 L262.82,96.54" fill="none" stroke="#111" stroke-width="1.4"/>
<ellipse cx="262.82" cy="0" rx="38.61" ry="96.54" fill="#d2cbbb" stroke="#111" stroke-width="1.3" />
<ellipse cx="262.82" cy="0" rx="37.3" ry="93.26" fill="#2e1608" stroke="#111" stroke-width="1" />
<polygon points="263.66,-88.86 266.63,-88.38 257.34,-67.01 255.08,-67.38" fill="#bb773c" stroke="#1a0a02" stroke-width="0.8"/>
<polygon points="268.29,-87.83 271.21,-86.38 260.81,-65.49 258.59,-66.59" fill="#c27b3e" stroke="#1a0a02" stroke-width="0.8"/>
<polygon points="272.83,-85.29 275.65,-82.9 264.17,-62.86 262.04,-64.67" fill="#c77f3f" stroke="#1a0a02" stroke-width="0.8"/>
<polygon points="277.19,-81.3 279.86,-78.01 267.37,-59.14 265.35,-61.64" fill="#cd8241" stroke="#1a0a02" stroke-width="0.8"/>
<polygon points="281.31,-75.91 283.79,-71.78 270.35,-54.42 268.47,-57.56" fill="#d18543" stroke="#1a0a02" stroke-width="0.8"/>
<polygon points="285.12,-69.23 287.36,-64.32 273.05,-48.77 271.36,-52.49" fill="#d58844" stroke="#1a0a02" stroke-width="0.8"/>
<polygon points="288.54,-61.36 290.5,-55.76 275.44,-42.28 273.95,-46.52" fill="#d88a45" stroke="#1a0a02" stroke-width="0.8"/>
<polygon points="291.52,-52.44 293.18,-46.25 277.47,-35.06 276.21,-39.76" fill="#da8b45" stroke="#1a0a02" stroke-width="0.8"/>
<polygon points="294.02,-42.62 295.33,-35.94 279.1,-27.25 278.1,-32.31" fill="#dc8c46" stroke="#1a0a02" stroke-width="0.8"/>
<polygon points="295.97,-32.07 296.93,-25.02 280.31,-18.97 279.59,-24.32" fill="#dc8c46" stroke="#1a0a02" stroke-width="0.8"/>
<polygon points="297.36,-20.98 297.95,-13.68 281.08,-10.37 280.64,-15.9" fill="#db8c46" stroke="#1a0a02" stroke-width="0.8"/>
<polygon points="298.16,-9.52 298.36,-2.09 281.4,-1.59 281.25,-7.22" fill="#da8b45" stroke="#1a0a02" stroke-width="0.8"/>
<polygon points="298.36,2.09 298.16,9.52 281.25,7.22 281.4,1.59" fill="#d78945" stroke="#1a0a02" stroke-width="0.8"/>
<polygon points="297.95,13.68 297.36,20.98 280.64,15.9 281.08,10.37" fill="#d48743" stroke="#1a0a02" stroke-width="0.8"/>
<polygon points="296.93,25.02 295.97,32.07 279.59,24.32 280.31,18.97" fill="#d08442" stroke="#1a0a02" stroke-width="0.8"/>
<polygon points="295.33,35.94 294.02,42.62 278.1,32.31 279.1,27.25" fill="#cb8141" stroke="#1a0a02" stroke-width="0.8"/>
<polygon points="293.18,46.25 291.52,52.44 276.21,39.76 277.47,35.06" fill="#c67e3f" stroke="#1a0a02" stroke-width="0.8"/>
<polygon points="290.5,55.76 288.54,61.36 273.95,46.52 275.44,42.28" fill="#bf7a3d" stroke="#1a0a02" stroke-width="0.8"/>
<polygon points="287.36,64.32 285.12,69.23 271.36,52.49 273.05,48.77" fill="#b9763b" stroke="#1a0a02" stroke-width="0.8"/>
<polygon points="283.79,71.78 281.31,75.91 268.47,57.56 270.35,54.42" fill="#b27139" stroke="#1a0a02" stroke-width="0.8"/>
<polygon points="279.86,78.01 277.19,81.3 265.35,61.64 267.37,59.14" fill="#ab6d36" stroke="#1a0a02" stroke-width="0.8"/>
<polygon points="275.65,82.9 272.83,85.29 262.04,64.67 264.17,62.86" fill="#a46834" stroke="#1a0a02" stroke-width="0.8"/>
<polygon points="271.21,86.38 268.29,87.83 258.59,66.59 260.81,65.49" fill="#9d6432" stroke="#1a0a02" stroke-width="0.8"/>
<polygon points="266.63,88.38 263.66,88.86 255.08,67.38 257.34,67.01" fill="#965f30" stroke="#1a0a02" stroke-width="0.8"/>
<polygon points="261.98,88.86 259.01,88.38 251.56,67.01 253.81,67.38" fill="#8f5b2d" stroke="#1a0a02" stroke-width="0.8"/>
<polygon points="257.35,87.83 254.43,86.38 248.09,65.49 250.3,66.59" fill="#88572b" stroke="#1a0a02" stroke-width="0.8"/>
<polygon points="252.81,85.29 249.99,82.9 244.72,62.86 246.86,64.67" fill="#83532a" stroke="#1a0a02" stroke-width="0.8"/>
<polygon points="248.44,81.3 245.77,78.01 241.52,59.14 243.55,61.64" fill="#7d5028" stroke="#1a0a02" stroke-width="0.8"/>
<polygon points="244.32,75.91 241.85,71.78 238.55,54.42 240.42,57.56" fill="#794d26" stroke="#1a0a02" stroke-width="0.8"/>
<polygon points="240.52,69.23 238.28,64.32 235.84,48.77 237.54,52.49" fill="#754a25" stroke="#1a0a02" stroke-width="0.8"/>
<polygon points="237.09,61.36 235.13,55.76 233.46,42.28 234.94,46.52" fill="#724824" stroke="#1a0a02" stroke-width="0.8"/>
<polygon points="234.11,52.44 232.46,46.25 231.43,35.06 232.68,39.76" fill="#704724" stroke="#1a0a02" stroke-width="0.8"/>
<polygon points="231.62,42.62 230.3,35.94 229.8,27.25 230.79,32.31" fill="#6e4623" stroke="#1a0a02" stroke-width="0.8"/>
<polygon points="229.66,32.07 228.7,25.02 228.58,18.97 229.31,24.32" fill="#6e4623" stroke="#1a0a02" stroke-width="0.8"/>
<polygon points="228.27,20.98 227.69,13.68 227.81,10.37 228.25,15.9" fill="#6f4623" stroke="#1a0a02" stroke-width="0.8"/>
<polygon points="227.47,9.52 227.28,2.09 227.5,1.59 227.65,7.22" fill="#704724" stroke="#1a0a02" stroke-width="0.8"/>
<polygon points="227.28,-2.09 227.47,-9.52 227.65,-7.22 227.5,-1.59" fill="#734924" stroke="#1a0a02" stroke-width="0.8"/>
<polygon points="227.69,-13.68 228.27,-20.98 228.25,-15.9 227.81,-10.37" fill="#764b26" stroke="#1a0a02" stroke-width="0.8"/>
<polygon points="228.7,-25.02 229.66,-32.07 229.31,-24.32 228.58,-18.97" fill="#7a4e27" stroke="#1a0a02" stroke-width="0.8"/>
<polygon points="230.3,-35.94 231.62,-42.62 230.79,-32.31 229.8,-27.25" fill="#7f5128" stroke="#1a0a02" stroke-width="0.8"/>
<polygon points="232.46,-46.25 234.11,-52.44 232.68,-39.76 231.43,-35.06" fill="#84542a" stroke="#1a0a02" stroke-width="0.8"/>
<polygon points="235.13,-55.76 237.09,-61.36 234.94,-46.52 233.46,-42.28" fill="#8b582c" stroke="#1a0a02" stroke-width="0.8"/>
<polygon points="238.28,-64.32 240.52,-69.23 237.54,-52.49 235.84,-48.77" fill="#915c2e" stroke="#1a0a02" stroke-width="0.8"/>
<polygon points="241.85,-71.78 244.32,-75.91 240.42,-57.56 238.55,-54.42" fill="#986130" stroke="#1a0a02" stroke-width="0.8"/>
<polygon points="245.77,-78.01 248.44,-81.3 243.55,-61.64 241.52,-59.14" fill="#9f6533" stroke="#1a0a02" stroke-width="0.8"/>
<polygon points="249.99,-82.9 252.81,-85.29 246.86,-64.67 244.72,-62.86" fill="#a66a35" stroke="#1a0a02" stroke-width="0.8"/>
<polygon points="254.43,-86.38 257.35,-87.83 250.3,-66.59 248.09,-65.49" fill="#ad6e37" stroke="#1a0a02" stroke-width="0.8"/>
<polygon points="259.01,-88.38 261.98,-88.86 253.81,-67.38 251.56,-67.01" fill="#b47339" stroke="#1a0a02" stroke-width="0.8"/>
<path d="M172.42,-65.57 L256.12,-65.57 A26.23,65.57 0 0 1 256.12,65.57 L172.42,65.57 Z" fill="#c07838" stroke="#111" stroke-width="1.2"/>
<polygon points="172.42,-65.57 256.12,-65.57 257.04,-65.53 173.34,-65.53" fill="#925322" stroke="#925322" stroke-width="0.6"/>
<polygon points="173.34,-65.53 257.04,-65.53 257.95,-65.41 174.25,-65.41" fill="#915323" stroke="#915323" stroke-width="0.6"/>
<polygon points="174.25,-65.41 257.95,-65.41 258.86,-65.21 175.16,-65.21" fill="#8f5223" stroke="#8f5223" stroke-width="0.6"/>
<polygon points="175.16,-65.21 258.86,-65.21 259.77,-64.94 176.07,-64.94" fill="#b1662b" stroke="#b1662b" stroke-width="0.6"/>
<polygon points="176.07,-64.94 259.77,-64.94 260.68,-64.58 176.98,-64.58" fill="#b0662c" stroke="#b0662c" stroke-width="0.6"/>
<polygon points="176.98,-64.58 260.68,-64.58 261.57,-64.14 177.87,-64.14" fill="#af652c" stroke="#af652c" stroke-width="0.6"/>
<polygon points="177.87,-64.14 261.57,-64.14 262.47,-63.63 178.77,-63.63" fill="#ad652c" stroke="#ad652c" stroke-width="0.6"/>
<polygon points="178.77,-63.63 262.47,-63.63 263.35,-63.03 179.65,-63.03" fill="#ab642c" stroke="#ab642c" stroke-width="0.6"/>
<polygon points="179.65,-63.03 263.35,-63.03 264.23,-62.36 180.53,-62.36" fill="#a9632c" stroke="#a9632c" stroke-width="0.6"/>
<polygon points="180.53,-62.36 264.23,-62.36 265.09,-61.62 181.39,-61.62" fill="#a7632c" stroke="#a7632c" stroke-width="0.6"/>
<polygon points="181.39,-61.62 265.09,-61.62 265.95,-60.8 182.25,-60.8" fill="#cd7a36" stroke="#cd7a36" stroke-width="0.6"/>
<polygon points="182.25,-60.8 265.95,-60.8 266.79,-59.9 183.09,-59.9" fill="#cc7936" stroke="#cc7936" stroke-width="0.6"/>
<polygon points="183.09,-59.9 266.79,-59.9 267.62,-58.94 183.92,-58.94" fill="#ca7836" stroke="#ca7836" stroke-width="0.6"/>
<polygon points="183.92,-58.94 267.62,-58.94 268.43,-57.9 184.73,-57.9" fill="#c77736" stroke="#c77736" stroke-width="0.6"/>
<polygon points="184.73,-57.9 268.43,-57.9 269.24,-56.79 185.53,-56.79" fill="#c57636" stroke="#c57636" stroke-width="0.6"/>
<polygon points="185.53,-56.79 269.24,-56.79 270.02,-55.61 186.32,-55.61" fill="#c27535" stroke="#c27535" stroke-width="0.6"/>
<polygon points="186.32,-55.61 270.02,-55.61 270.79,-54.36 187.09,-54.36" fill="#be7335" stroke="#be7335" stroke-width="0.6"/>
<polygon points="187.09,-54.36 270.79,-54.36 271.54,-53.05 187.84,-53.05" fill="#ba7134" stroke="#ba7134" stroke-width="0.6"/>
<polygon points="187.84,-53.05 271.54,-53.05 272.27,-51.67 188.57,-51.67" fill="#e48b40" stroke="#e48b40" stroke-width="0.6"/>
<polygon points="188.57,-51.67 272.27,-51.67 272.98,-50.23 189.28,-50.23" fill="#e08a3f" stroke="#e08a3f" stroke-width="0.6"/>
<polygon points="189.28,-50.23 272.98,-50.23 273.67,-48.73 189.97,-48.73" fill="#dd883f" stroke="#dd883f" stroke-width="0.6"/>
<polygon points="189.97,-48.73 273.67,-48.73 274.34,-47.17 190.64,-47.17" fill="#d9863e" stroke="#d9863e" stroke-width="0.6"/>
<polygon points="190.64,-47.17 274.34,-47.17 274.99,-45.55 191.29,-45.55" fill="#d5843d" stroke="#d5843d" stroke-width="0.6"/>
<polygon points="191.29,-45.55 274.99,-45.55 275.61,-43.88 191.91,-43.88" fill="#d1823c" stroke="#d1823c" stroke-width="0.6"/>
<polygon points="191.91,-43.88 275.61,-43.88 276.21,-42.15 192.51,-42.15" fill="#cc803b" stroke="#cc803b" stroke-width="0.6"/>
<polygon points="192.51,-42.15 276.21,-42.15 276.79,-40.37 193.09,-40.37" fill="#f99d49" stroke="#f99d49" stroke-width="0.6"/>
<polygon points="193.09,-40.37 276.79,-40.37 277.34,-38.54 193.64,-38.54" fill="#f59b48" stroke="#f59b48" stroke-width="0.6"/>
<polygon points="193.64,-38.54 277.34,-38.54 277.86,-36.67 194.16,-36.67" fill="#f19847" stroke="#f19847" stroke-width="0.6"/>
<polygon points="194.16,-36.67 277.86,-36.67 278.36,-34.75 194.66,-34.75" fill="#ed9646" stroke="#ed9646" stroke-width="0.6"/>
<polygon points="194.66,-34.75 278.36,-34.75 278.83,-32.79 195.13,-32.79" fill="#e89445" stroke="#e89445" stroke-width="0.6"/>
<polygon points="195.13,-32.79 278.83,-32.79 279.28,-30.79 195.58,-30.79" fill="#e39144" stroke="#e39144" stroke-width="0.6"/>
<polygon points="195.58,-30.79 279.28,-30.79 279.69,-28.75 195.99,-28.75" fill="#dd8e43" stroke="#dd8e43" stroke-width="0.6"/>
<polygon points="195.99,-28.75 279.69,-28.75 280.08,-26.67 196.38,-26.67" fill="#d68a41" stroke="#d68a41" stroke-width="0.6"/>
<polygon points="196.38,-26.67 280.08,-26.67 280.44,-24.56 196.74,-24.56" fill="#ffa950" stroke="#ffa950" stroke-width="0.6"/>
<polygon points="196.74,-24.56 280.44,-24.56 280.77,-22.43 197.07,-22.43" fill="#fea64e" stroke="#fea64e" stroke-width="0.6"/>
<polygon points="197.07,-22.43 280.77,-22.43 281.06,-20.26 197.36,-20.26" fill="#f8a24d" stroke="#f8a24d" stroke-width="0.6"/>
<polygon points="197.36,-20.26 281.06,-20.26 281.33,-18.07 197.63,-18.07" fill="#f29f4c" stroke="#f29f4c" stroke-width="0.6"/>
<polygon points="197.63,-18.07 281.33,-18.07 281.57,-15.86 197.87,-15.86" fill="#ec9c4a" stroke="#ec9c4a" stroke-width="0.6"/>
<polygon points="197.87,-15.86 281.57,-15.86 281.77,-13.63 198.07,-13.63" fill="#e59849" stroke="#e59849" stroke-width="0.6"/>
<polygon points="198.07,-13.63 281.77,-13.63 281.95,-11.39 198.25,-11.39" fill="#df9447" stroke="#df9447" stroke-width="0.6"/>
<polygon points="198.25,-11.39 281.95,-11.39 282.09,-9.13 198.39,-9.13" fill="#ffb457" stroke="#ffb457" stroke-width="0.6"/>
<polygon points="198.39,-9.13 282.09,-9.13 282.2,-6.85 198.5,-6.85" fill="#ffb156" stroke="#ffb156" stroke-width="0.6"/>
<polygon points="198.5,-6.85 282.2,-6.85 282.28,-4.57 198.58,-4.57" fill="#ffad54" stroke="#ffad54" stroke-width="0.6"/>
<polygon points="198.58,-4.57 282.28,-4.57 282.33,-2.29 198.63,-2.29" fill="#f8a650" stroke="#f8a650" stroke-width="0.6"/>
<polygon points="198.63,-2.29 282.33,-2.29 282.35,-0 198.65,-0" fill="#ee9e4b" stroke="#ee9e4b" stroke-width="0.6"/>
<polygon points="198.65,-0 282.35,-0 282.33,2.29 198.63,2.29" fill="#e59747" stroke="#e59747" stroke-width="0.6"/>
<polygon points="198.63,2.29 282.33,2.29 282.28,4.57 198.58,4.57" fill="#dc9043" stroke="#dc9043" stroke-width="0.6"/>
<polygon points="198.58,4.57 282.28,4.57 282.2,6.85 198.5,6.85" fill="#d3893f" stroke="#d3893f" stroke-width="0.6"/>
<polygon points="198.5,6.85 282.2,6.85 282.09,9.13 198.39,9.13" fill="#fda24a" stroke="#fda24a" stroke-width="0.6"/>
<polygon points="198.39,9.13 282.09,9.13 281.95,11.39 198.25,11.39" fill="#f39b46" stroke="#f39b46" stroke-width="0.6"/>
<polygon points="198.25,11.39 281.95,11.39 281.77,13.63 198.07,13.63" fill="#ea9442" stroke="#ea9442" stroke-width="0.6"/>
<polygon points="198.07,13.63 281.77,13.63 281.57,15.86 197.87,15.86" fill="#e18d3e" stroke="#e18d3e" stroke-width="0.6"/>
<polygon points="197.87,15.86 281.57,15.86 281.33,18.07 197.63,18.07" fill="#d8863b" stroke="#d8863b" stroke-width="0.6"/>
<polygon points="197.63,18.07 281.33,18.07 281.06,20.26 197.36,20.26" fill="#cf7f37" stroke="#cf7f37" stroke-width="0.6"/>
<polygon points="197.36,20.26 281.06,20.26 280.77,22.43 197.07,22.43" fill="#c77933" stroke="#c77933" stroke-width="0.6"/>
<polygon points="197.07,22.43 280.77,22.43 280.44,24.56 196.74,24.56" fill="#ed8f3c" stroke="#ed8f3c" stroke-width="0.6"/>
<polygon points="196.74,24.56 280.44,24.56 280.08,26.67 196.38,26.67" fill="#e4893a" stroke="#e4893a" stroke-width="0.6"/>
<polygon points="196.38,26.67 280.08,26.67 279.69,28.75 195.99,28.75" fill="#db8337" stroke="#db8337" stroke-width="0.6"/>
<polygon points="195.99,28.75 279.69,28.75 279.28,30.79 195.58,30.79" fill="#d27e35" stroke="#d27e35" stroke-width="0.6"/>
<polygon points="195.58,30.79 279.28,30.79 278.83,32.79 195.13,32.79" fill="#ca7832" stroke="#ca7832" stroke-width="0.6"/>
<polygon points="195.13,32.79 278.83,32.79 278.36,34.75 194.66,34.75" fill="#c17330" stroke="#c17330" stroke-width="0.6"/>
<polygon points="194.66,34.75 278.36,34.75 277.86,36.67 194.16,36.67" fill="#b96d2d" stroke="#b96d2d" stroke-width="0.6"/>
<polygon points="194.16,36.67 277.86,36.67 277.34,38.54 193.64,38.54" fill="#b0682b" stroke="#b0682b" stroke-width="0.6"/>
<polygon points="193.64,38.54 277.34,38.54 276.79,40.37 193.09,40.37" fill="#d37c33" stroke="#d37c33" stroke-width="0.6"/>
<polygon points="193.09,40.37 276.79,40.37 276.21,42.15 192.51,42.15" fill="#ca7631" stroke="#ca7631" stroke-width="0.6"/>
<polygon points="192.51,42.15 276.21,42.15 275.61,43.88 191.91,43.88" fill="#c2712e" stroke="#c2712e" stroke-width="0.6"/>
<polygon points="191.91,43.88 275.61,43.88 274.99,45.55 191.29,45.55" fill="#ba6c2c" stroke="#ba6c2c" stroke-width="0.6"/>
<polygon points="191.29,45.55 274.99,45.55 274.34,47.17 190.64,47.17" fill="#b2672a" stroke="#b2672a" stroke-width="0.6"/>
<polygon points="190.64,47.17 274.34,47.17 273.67,48.73 189.97,48.73" fill="#aa6227" stroke="#aa6227" stroke-width="0.6"/>
<polygon points="189.97,48.73 273.67,48.73 272.98,50.23 189.28,50.23" fill="#a25d25" stroke="#a25d25" stroke-width="0.6"/>
<polygon points="189.28,50.23 272.98,50.23 272.27,51.67 188.57,51.67" fill="#c16e2c" stroke="#c16e2c" stroke-width="0.6"/>
<polygon points="188.57,51.67 272.27,51.67 271.54,53.05 187.84,53.05" fill="#b9692a" stroke="#b9692a" stroke-width="0.6"/>
<polygon points="187.84,53.05 271.54,53.05 270.79,54.36 187.09,54.36" fill="#b16528" stroke="#b16528" stroke-width="0.6"/>
<polygon points="187.09,54.36 270.79,54.36 270.02,55.61 186.32,55.61" fill="#a96026" stroke="#a96026" stroke-width="0.6"/>
<polygon points="186.32,55.61 270.02,55.61 269.24,56.79 185.53,56.79" fill="#a15b24" stroke="#a15b24" stroke-width="0.6"/>
<polygon points="185.53,56.79 269.24,56.79 268.43,57.9 184.73,57.9" fill="#9a5723" stroke="#9a5723" stroke-width="0.6"/>
<polygon points="184.73,57.9 268.43,57.9 267.62,58.94 183.92,58.94" fill="#935321" stroke="#935321" stroke-width="0.6"/>
<polygon points="183.92,58.94 267.62,58.94 266.79,59.9 183.09,59.9" fill="#8c4f1f" stroke="#8c4f1f" stroke-width="0.6"/>
<polygon points="183.09,59.9 266.79,59.9 265.95,60.8 182.25,60.8" fill="#a65d25" stroke="#a65d25" stroke-width="0.6"/>
<polygon points="182.25,60.8 265.95,60.8 265.09,61.62 181.39,61.62" fill="#9f5923" stroke="#9f5923" stroke-width="0.6"/>
<polygon points="181.39,61.62 265.09,61.62 264.23,62.36 180.53,62.36" fill="#975521" stroke="#975521" stroke-width="0.6"/>
<polygon points="180.53,62.36 264.23,62.36 263.35,63.03 179.65,63.03" fill="#905020" stroke="#905020" stroke-width="0.6"/>
<polygon points="179.65,63.03 263.35,63.03 262.47,63.63 178.77,63.63" fill="#8a4c1e" stroke="#8a4c1e" stroke-width="0.6"/>
<polygon points="178.77,63.63 262.47,63.63 261.57,64.14 177.87,64.14" fill="#83481c" stroke="#83481c" stroke-width="0.6"/>
<polygon points="177.87,64.14 261.57,64.14 260.68,64.58 176.98,64.58" fill="#7c451b" stroke="#7c451b" stroke-width="0.6"/>
<polygon points="176.98,64.58 260.68,64.58 259.77,64.94 176.07,64.94" fill="#93511f" stroke="#93511f" stroke-width="0.6"/>
<polygon points="176.07,64.94 259.77,64.94 258.86,65.21 175.16,65.21" fill="#8c4d1e" stroke="#8c4d1e" stroke-width="0.6"/>
<polygon points="175.16,65.21 258.86,65.21 257.95,65.41 174.25,65.41" fill="#85491c" stroke="#85491c" stroke-width="0.6"/>
<polygon points="174.25,65.41 257.95,65.41 257.04,65.53 173.34,65.53" fill="#7f451b" stroke="#7f451b" stroke-width="0.6"/>
<polygon points="173.34,65.53 257.04,65.53 256.12,65.57 172.42,65.57" fill="#784119" stroke="#784119" stroke-width="0.6"/>
<line x1="175.16" y1="-65.21" x2="258.86" y2="-65.21" stroke="#1a0a02" stroke-width="3"/>
<line x1="181.82" y1="-61.22" x2="265.52" y2="-61.22" stroke="#1a0a02" stroke-width="3"/>
<line x1="187.84" y1="-53.05" x2="271.54" y2="-53.05" stroke="#1a0a02" stroke-width="3"/>
<line x1="192.8" y1="-41.27" x2="276.5" y2="-41.27" stroke="#1a0a02" stroke-width="3"/>
<line x1="196.38" y1="-26.67" x2="280.08" y2="-26.67" stroke="#1a0a02" stroke-width="3"/>
<line x1="198.33" y1="-10.26" x2="282.03" y2="-10.26" stroke="#1a0a02" stroke-width="3"/>
<line x1="198.5" y1="6.85" x2="282.2" y2="6.85" stroke="#1a0a02" stroke-width="3"/>
<line x1="196.91" y1="23.5" x2="280.61" y2="23.5" stroke="#1a0a02" stroke-width="3"/>
<line x1="193.64" y1="38.54" x2="277.34" y2="38.54" stroke="#1a0a02" stroke-width="3"/>
<line x1="188.93" y1="50.96" x2="272.63" y2="50.96" stroke="#1a0a02" stroke-width="3"/>
<line x1="183.09" y1="59.9" x2="266.79" y2="59.9" stroke="#1a0a02" stroke-width="3"/>
<line x1="176.52" y1="64.77" x2="260.22" y2="64.77" stroke="#1a0a02" stroke-width="3"/>
<path d="M172.42,-65.57 L256.12,-65.57 A26.23,65.57 0 0 1 256.12,65.57 L172.42,65.57" fill="none" stroke="#111" stroke-width="1.4"/>
<ellipse cx="172.42" cy="0" rx="26.23" ry="65.57" fill="#8a5020" stroke="#111" stroke-width="1.3" />
<ellipse cx="172.42" cy="0" rx="23.89" ry="59.75" fill="#3a3a3a" stroke="#111" stroke-width="1.2" />
<ellipse cx="172.42" cy="0" rx="18.65" ry="46.63" fill="#5a5a5a" stroke="#111" stroke-width="1" />
<path d="M147.98,-43.72 L167.4,-43.72 A17.48,43.72 0 0 1 167.4,43.72 L147.98,43.72 Z" fill="#aaa" stroke="#111" stroke-width="1.2"/>
<polygon points="147.98,-43.72 167.4,-43.72 168.54,-43.62 149.13,-43.62" fill="#999999" stroke="#999999" stroke-width="0.6"/>
<polygon points="149.13,-43.62 168.54,-43.62 169.68,-43.34 150.26,-43.34" fill="#9e9e9e" stroke="#9e9e9e" stroke-width="0.6"/>
<polygon points="150.26,-43.34 169.68,-43.34 170.81,-42.88 151.39,-42.88" fill="#a3a3a3" stroke="#a3a3a3" stroke-width="0.6"/>
<polygon points="151.39,-42.88 170.81,-42.88 171.93,-42.23 152.51,-42.23" fill="#a8a8a8" stroke="#a8a8a8" stroke-width="0.6"/>
<polygon points="152.51,-42.23 171.93,-42.23 173.02,-41.4 153.6,-41.4" fill="#aeaeae" stroke="#aeaeae" stroke-width="0.6"/>
<polygon points="153.6,-41.4 173.02,-41.4 174.09,-40.39 154.67,-40.39" fill="#b3b3b3" stroke="#b3b3b3" stroke-width="0.6"/>
<polygon points="154.67,-40.39 174.09,-40.39 175.13,-39.21 155.71,-39.21" fill="#b8b8b8" stroke="#b8b8b8" stroke-width="0.6"/>
<polygon points="155.71,-39.21 175.13,-39.21 176.14,-37.86 156.72,-37.86" fill="#bdbdbd" stroke="#bdbdbd" stroke-width="0.6"/>
<polygon points="156.72,-37.86 176.14,-37.86 177.11,-36.35 157.7,-36.35" fill="#c2c2c2" stroke="#c2c2c2" stroke-width="0.6"/>
<polygon points="157.7,-36.35 177.11,-36.35 178.04,-34.68 158.63,-34.68" fill="#c7c7c7" stroke="#c7c7c7" stroke-width="0.6"/>
<polygon points="158.63,-34.68 178.04,-34.68 178.93,-32.87 159.51,-32.87" fill="#cccccc" stroke="#cccccc" stroke-width="0.6"/>
<polygon points="159.51,-32.87 178.93,-32.87 179.76,-30.91 160.34,-30.91" fill="#d1d1d1" stroke="#d1d1d1" stroke-width="0.6"/>
<polygon points="160.34,-30.91 179.76,-30.91 180.55,-28.82 161.13,-28.82" fill="#d6d6d6" stroke="#d6d6d6" stroke-width="0.6"/>
<polygon points="161.13,-28.82 180.55,-28.82 181.27,-26.61 161.85,-26.61" fill="#dbdbdb" stroke="#dbdbdb" stroke-width="0.6"/>
<polygon points="161.85,-26.61 181.27,-26.61 181.94,-24.29 162.52,-24.29" fill="#e0e0e0" stroke="#e0e0e0" stroke-width="0.6"/>
<polygon points="162.52,-24.29 181.94,-24.29 182.54,-21.86 163.12,-21.86" fill="#e4e4e4" stroke="#e4e4e4" stroke-width="0.6"/>
<polygon points="163.12,-21.86 182.54,-21.86 183.08,-19.34 163.66,-19.34" fill="#e6e6e6" stroke="#e6e6e6" stroke-width="0.6"/>
<polygon points="163.66,-19.34 183.08,-19.34 183.55,-16.73 164.13,-16.73" fill="#eaeaea" stroke="#eaeaea" stroke-width="0.6"/>
<polygon points="164.13,-16.73 183.55,-16.73 183.96,-14.05 164.54,-14.05" fill="#ececec" stroke="#ececec" stroke-width="0.6"/>
<polygon points="164.54,-14.05 183.96,-14.05 184.29,-11.31 164.87,-11.31" fill="#f0f0f0" stroke="#f0f0f0" stroke-width="0.6"/>
<polygon points="164.87,-11.31 184.29,-11.31 184.55,-8.53 165.13,-8.53" fill="#f2f2f2" stroke="#f2f2f2" stroke-width="0.6"/>
<polygon points="165.13,-8.53 184.55,-8.53 184.73,-5.71 165.32,-5.71" fill="#f4f4f4" stroke="#f4f4f4" stroke-width="0.6"/>
<polygon points="165.32,-5.71 184.73,-5.71 184.85,-2.86 165.43,-2.86" fill="#ededed" stroke="#ededed" stroke-width="0.6"/>
<polygon points="165.43,-2.86 184.85,-2.86 184.88,-0 165.47,-0" fill="#e6e6e6" stroke="#e6e6e6" stroke-width="0.6"/>
<polygon points="165.47,-0 184.88,-0 184.85,2.86 165.43,2.86" fill="#e0e0e0" stroke="#e0e0e0" stroke-width="0.6"/>
<polygon points="165.43,2.86 184.85,2.86 184.73,5.71 165.32,5.71" fill="#d9d9d9" stroke="#d9d9d9" stroke-width="0.6"/>
<polygon points="165.32,5.71 184.73,5.71 184.55,8.53 165.13,8.53" fill="#d2d2d2" stroke="#d2d2d2" stroke-width="0.6"/>
<polygon points="165.13,8.53 184.55,8.53 184.29,11.31 164.87,11.31" fill="#cbcbcb" stroke="#cbcbcb" stroke-width="0.6"/>
<polygon points="164.87,11.31 184.29,11.31 183.96,14.05 164.54,14.05" fill="#c4c4c4" stroke="#c4c4c4" stroke-width="0.6"/>
<polygon points="164.54,14.05 183.96,14.05 183.55,16.73 164.13,16.73" fill="#bdbdbd" stroke="#bdbdbd" stroke-width="0.6"/>
<polygon points="164.13,16.73 183.55,16.73 183.08,19.34 163.66,19.34" fill="#b5b5b5" stroke="#b5b5b5" stroke-width="0.6"/>
<polygon points="163.66,19.34 183.08,19.34 182.54,21.86 163.12,21.86" fill="#aeaeae" stroke="#aeaeae" stroke-width="0.6"/>
<polygon points="163.12,21.86 182.54,21.86 181.94,24.29 162.52,24.29" fill="#a6a6a6" stroke="#a6a6a6" stroke-width="0.6"/>
<polygon points="162.52,24.29 181.94,24.29 181.27,26.61 161.85,26.61" fill="#9f9f9f" stroke="#9f9f9f" stroke-width="0.6"/>
<polygon points="161.85,26.61 181.27,26.61 180.55,28.82 161.13,28.82" fill="#979797" stroke="#979797" stroke-width="0.6"/>
<polygon points="161.13,28.82 180.55,28.82 179.76,30.91 160.34,30.91" fill="#909090" stroke="#909090" stroke-width="0.6"/>
<polygon points="160.34,30.91 179.76,30.91 178.93,32.87 159.51,32.87" fill="#8a8a8a" stroke="#8a8a8a" stroke-width="0.6"/>
<polygon points="159.51,32.87 178.93,32.87 178.04,34.68 158.63,34.68" fill="#848484" stroke="#848484" stroke-width="0.6"/>
<polygon points="158.63,34.68 178.04,34.68 177.11,36.35 157.7,36.35" fill="#808080" stroke="#808080" stroke-width="0.6"/>
<polygon points="157.7,36.35 177.11,36.35 176.14,37.86 156.72,37.86" fill="#7a7a7a" stroke="#7a7a7a" stroke-width="0.6"/>
<polygon points="156.72,37.86 176.14,37.86 175.13,39.21 155.71,39.21" fill="#767676" stroke="#767676" stroke-width="0.6"/>
<polygon points="155.71,39.21 175.13,39.21 174.09,40.39 154.67,40.39" fill="#707070" stroke="#707070" stroke-width="0.6"/>
<polygon points="154.67,40.39 174.09,40.39 173.02,41.4 153.6,41.4" fill="#6c6c6c" stroke="#6c6c6c" stroke-width="0.6"/>
<polygon points="153.6,41.4 173.02,41.4 171.93,42.23 152.51,42.23" fill="#666666" stroke="#666666" stroke-width="0.6"/>
<polygon points="152.51,42.23 171.93,42.23 170.81,42.88 151.39,42.88" fill="#626262" stroke="#626262" stroke-width="0.6"/>
<polygon points="151.39,42.88 170.81,42.88 169.68,43.34 150.26,43.34" fill="#5e5e5e" stroke="#5e5e5e" stroke-width="0.6"/>
<polygon points="150.26,43.34 169.68,43.34 168.54,43.62 149.13,43.62" fill="#5b5b5b" stroke="#5b5b5b" stroke-width="0.6"/>
<polygon points="149.13,43.62 168.54,43.62 167.4,43.72 147.98,43.72" fill="#575757" stroke="#575757" stroke-width="0.6"/>
<ellipse cx="147.98" cy="0" rx="17.48" ry="43.72" fill="#9a9a9a" stroke="#111" stroke-width="1.2" />
<path d="M103.79,-40.07 L147.98,-40.07 A16.03,40.07 0 0 1 147.98,40.07 L103.79,40.07 Z" fill="#aaa" stroke="#111" stroke-width="1.2"/>
<polygon points="103.79,-40.07 147.98,-40.07 149.03,-39.99 104.84,-39.99" fill="#999999" stroke="#999999" stroke-width="0.6"/>
<polygon points="104.84,-39.99 149.03,-39.99 150.07,-39.73 105.88,-39.73" fill="#9e9e9e" stroke="#9e9e9e" stroke-width="0.6"/>
<polygon points="105.88,-39.73 150.07,-39.73 151.11,-39.3 106.91,-39.3" fill="#a3a3a3" stroke="#a3a3a3" stroke-width="0.6"/>
<polygon points="106.91,-39.3 151.11,-39.3 152.13,-38.71 107.94,-38.71" fill="#a8a8a8" stroke="#a8a8a8" stroke-width="0.6"/>
<polygon points="107.94,-38.71 152.13,-38.71 153.13,-37.95 108.94,-37.95" fill="#aeaeae" stroke="#aeaeae" stroke-width="0.6"/>
<polygon points="108.94,-37.95 153.13,-37.95 154.11,-37.02 109.92,-37.02" fill="#b3b3b3" stroke="#b3b3b3" stroke-width="0.6"/>
<polygon points="109.92,-37.02 154.11,-37.02 155.07,-35.94 110.88,-35.94" fill="#b8b8b8" stroke="#b8b8b8" stroke-width="0.6"/>
<polygon points="110.88,-35.94 155.07,-35.94 156,-34.7 111.8,-34.7" fill="#bdbdbd" stroke="#bdbdbd" stroke-width="0.6"/>
<polygon points="111.8,-34.7 156,-34.7 156.89,-33.32 112.69,-33.32" fill="#c2c2c2" stroke="#c2c2c2" stroke-width="0.6"/>
<polygon points="112.69,-33.32 156.89,-33.32 157.74,-31.79 113.54,-31.79" fill="#c7c7c7" stroke="#c7c7c7" stroke-width="0.6"/>
<polygon points="113.54,-31.79 157.74,-31.79 158.55,-30.13 114.36,-30.13" fill="#cccccc" stroke="#cccccc" stroke-width="0.6"/>
<polygon points="114.36,-30.13 158.55,-30.13 159.31,-28.34 115.12,-28.34" fill="#d1d1d1" stroke="#d1d1d1" stroke-width="0.6"/>
<polygon points="115.12,-28.34 159.31,-28.34 160.03,-26.42 115.84,-26.42" fill="#d6d6d6" stroke="#d6d6d6" stroke-width="0.6"/>
<polygon points="115.84,-26.42 160.03,-26.42 160.7,-24.39 116.5,-24.39" fill="#dbdbdb" stroke="#dbdbdb" stroke-width="0.6"/>
<polygon points="116.5,-24.39 160.7,-24.39 161.31,-22.26 117.11,-22.26" fill="#e0e0e0" stroke="#e0e0e0" stroke-width="0.6"/>
<polygon points="117.11,-22.26 161.31,-22.26 161.86,-20.04 117.67,-20.04" fill="#e4e4e4" stroke="#e4e4e4" stroke-width="0.6"/>
<polygon points="117.67,-20.04 161.86,-20.04 162.36,-17.72 118.16,-17.72" fill="#e6e6e6" stroke="#e6e6e6" stroke-width="0.6"/>
<polygon points="118.16,-17.72 162.36,-17.72 162.79,-15.34 118.6,-15.34" fill="#eaeaea" stroke="#eaeaea" stroke-width="0.6"/>
<polygon points="118.6,-15.34 162.79,-15.34 163.16,-12.88 118.96,-12.88" fill="#ececec" stroke="#ececec" stroke-width="0.6"/>
<polygon points="118.96,-12.88 163.16,-12.88 163.46,-10.37 119.27,-10.37" fill="#f0f0f0" stroke="#f0f0f0" stroke-width="0.6"/>
<polygon points="119.27,-10.37 163.46,-10.37 163.7,-7.82 119.51,-7.82" fill="#f2f2f2" stroke="#f2f2f2" stroke-width="0.6"/>
<polygon points="119.51,-7.82 163.7,-7.82 163.87,-5.23 119.68,-5.23" fill="#f4f4f4" stroke="#f4f4f4" stroke-width="0.6"/>
<polygon points="119.68,-5.23 163.87,-5.23 163.97,-2.62 119.78,-2.62" fill="#ededed" stroke="#ededed" stroke-width="0.6"/>
<polygon points="119.78,-2.62 163.97,-2.62 164.01,-0 119.81,-0" fill="#e6e6e6" stroke="#e6e6e6" stroke-width="0.6"/>
<polygon points="119.81,-0 164.01,-0 163.97,2.62 119.78,2.62" fill="#e0e0e0" stroke="#e0e0e0" stroke-width="0.6"/>
<polygon points="119.78,2.62 163.97,2.62 163.87,5.23 119.68,5.23" fill="#d9d9d9" stroke="#d9d9d9" stroke-width="0.6"/>
<polygon points="119.68,5.23 163.87,5.23 163.7,7.82 119.51,7.82" fill="#d2d2d2" stroke="#d2d2d2" stroke-width="0.6"/>
<polygon points="119.51,7.82 163.7,7.82 163.46,10.37 119.27,10.37" fill="#cbcbcb" stroke="#cbcbcb" stroke-width="0.6"/>
<polygon points="119.27,10.37 163.46,10.37 163.16,12.88 118.96,12.88" fill="#c4c4c4" stroke="#c4c4c4" stroke-width="0.6"/>
<polygon points="118.96,12.88 163.16,12.88 162.79,15.34 118.6,15.34" fill="#bdbdbd" stroke="#bdbdbd" stroke-width="0.6"/>
<polygon points="118.6,15.34 162.79,15.34 162.36,17.72 118.16,17.72" fill="#b5b5b5" stroke="#b5b5b5" stroke-width="0.6"/>
<polygon points="118.16,17.72 162.36,17.72 161.86,20.04 117.67,20.04" fill="#aeaeae" stroke="#aeaeae" stroke-width="0.6"/>
<polygon points="117.67,20.04 161.86,20.04 161.31,22.26 117.11,22.26" fill="#a6a6a6" stroke="#a6a6a6" stroke-width="0.6"/>
<polygon points="117.11,22.26 161.31,22.26 160.7,24.39 116.5,24.39" fill="#9f9f9f" stroke="#9f9f9f" stroke-width="0.6"/>
<polygon points="116.5,24.39 160.7,24.39 160.03,26.42 115.84,26.42" fill="#979797" stroke="#979797" stroke-width="0.6"/>
<polygon points="115.84,26.42 160.03,26.42 159.31,28.34 115.12,28.34" fill="#909090" stroke="#909090" stroke-width="0.6"/>
<polygon points="115.12,28.34 159.31,28.34 158.55,30.13 114.36,30.13" fill="#8a8a8a" stroke="#8a8a8a" stroke-width="0.6"/>
<polygon points="114.36,30.13 158.55,30.13 157.74,31.79 113.54,31.79" fill="#848484" stroke="#848484" stroke-width="0.6"/>
<polygon points="113.54,31.79 157.74,31.79 156.89,33.32 112.69,33.32" fill="#808080" stroke="#808080" stroke-width="0.6"/>
<polygon points="112.69,33.32 156.89,33.32 156,34.7 111.8,34.7" fill="#7a7a7a" stroke="#7a7a7a" stroke-width="0.6"/>
<polygon points="111.8,34.7 156,34.7 155.07,35.94 110.88,35.94" fill="#767676" stroke="#767676" stroke-width="0.6"/>
<polygon points="110.88,35.94 155.07,35.94 154.11,37.02 109.92,37.02" fill="#707070" stroke="#707070" stroke-width="0.6"/>
<polygon points="109.92,37.02 154.11,37.02 153.13,37.95 108.94,37.95" fill="#6c6c6c" stroke="#6c6c6c" stroke-width="0.6"/>
<polygon points="108.94,37.95 153.13,37.95 152.13,38.71 107.94,38.71" fill="#666666" stroke="#666666" stroke-width="0.6"/>
<polygon points="107.94,38.71 152.13,38.71 151.11,39.3 106.91,39.3" fill="#626262" stroke="#626262" stroke-width="0.6"/>
<polygon points="106.91,39.3 151.11,39.3 150.07,39.73 105.88,39.73" fill="#5e5e5e" stroke="#5e5e5e" stroke-width="0.6"/>
<polygon points="105.88,39.73 150.07,39.73 149.03,39.99 104.84,39.99" fill="#5b5b5b" stroke="#5b5b5b" stroke-width="0.6"/>
<polygon points="104.84,39.99 149.03,39.99 147.98,40.07 103.79,40.07" fill="#575757" stroke="#575757" stroke-width="0.6"/>
<path d="M103.79,-40.07 L147.98,-40.07 A16.03,40.07 0 0 1 147.98,40.07 L103.79,40.07" fill="none" stroke="#111" stroke-width="1.3"/>
<ellipse cx="103.79" cy="0" rx="16.03" ry="40.07" fill="#b0b0b0" stroke="#111" stroke-width="1.2" />
<path d="M0,-39.53 L103.79,-39.53 A15.81,39.53 0 0 1 103.79,39.53 L0,39.53 Z" fill="#999" stroke="#111" stroke-width="1.3"/>
<polygon points="0,-39.53 103.79,-39.53 104.62,-39.47 0.83,-39.47" fill="#7b7b7b" stroke="#7b7b7b" stroke-width="0.6"/>
<polygon points="0.83,-39.47 104.62,-39.47 105.44,-39.31 1.65,-39.31" fill="#808080" stroke="#808080" stroke-width="0.6"/>
<polygon points="1.65,-39.31 105.44,-39.31 106.26,-39.04 2.47,-39.04" fill="#868686" stroke="#868686" stroke-width="0.6"/>
<polygon points="2.47,-39.04 106.26,-39.04 107.07,-38.66 3.29,-38.66" fill="#8b8b8b" stroke="#8b8b8b" stroke-width="0.6"/>
<polygon points="3.29,-38.66 107.07,-38.66 107.88,-38.18 4.09,-38.18" fill="#909090" stroke="#909090" stroke-width="0.6"/>
<polygon points="4.09,-38.18 107.88,-38.18 108.67,-37.59 4.89,-37.59" fill="#969696" stroke="#969696" stroke-width="0.6"/>
<polygon points="4.89,-37.59 108.67,-37.59 109.45,-36.9 5.67,-36.9" fill="#9b9b9b" stroke="#9b9b9b" stroke-width="0.6"/>
<polygon points="5.67,-36.9 109.45,-36.9 110.22,-36.11 6.43,-36.11" fill="#a0a0a0" stroke="#a0a0a0" stroke-width="0.6"/>
<polygon points="6.43,-36.11 110.22,-36.11 110.96,-35.22 7.18,-35.22" fill="#a6a6a6" stroke="#a6a6a6" stroke-width="0.6"/>
<polygon points="7.18,-35.22 110.96,-35.22 111.69,-34.23 7.9,-34.23" fill="#a9a9a9" stroke="#a9a9a9" stroke-width="0.6"/>
<polygon points="7.9,-34.23 111.69,-34.23 112.4,-33.15 8.61,-33.15" fill="#adadad" stroke="#adadad" stroke-width="0.6"/>
<polygon points="8.61,-33.15 112.4,-33.15 113.08,-31.98 9.29,-31.98" fill="#b0b0b0" stroke="#b0b0b0" stroke-width="0.6"/>
<polygon points="9.29,-31.98 113.08,-31.98 113.74,-30.72 9.95,-30.72" fill="#b4b4b4" stroke="#b4b4b4" stroke-width="0.6"/>
<polygon points="9.95,-30.72 113.74,-30.72 114.37,-29.37 10.58,-29.37" fill="#b7b7b7" stroke="#b7b7b7" stroke-width="0.6"/>
<polygon points="10.58,-29.37 114.37,-29.37 114.97,-27.95 11.18,-27.95" fill="#bbbbbb" stroke="#bbbbbb" stroke-width="0.6"/>
<polygon points="11.18,-27.95 114.97,-27.95 115.54,-26.45 11.75,-26.45" fill="#bebebe" stroke="#bebebe" stroke-width="0.6"/>
<polygon points="11.75,-26.45 115.54,-26.45 116.07,-24.87 12.29,-24.87" fill="#c2c2c2" stroke="#c2c2c2" stroke-width="0.6"/>
<polygon points="12.29,-24.87 116.07,-24.87 116.58,-23.23 12.79,-23.23" fill="#c5c5c5" stroke="#c5c5c5" stroke-width="0.6"/>
<polygon points="12.79,-23.23 116.58,-23.23 117.05,-21.53 13.26,-21.53" fill="#c9c9c9" stroke="#c9c9c9" stroke-width="0.6"/>
<polygon points="13.26,-21.53 117.05,-21.53 117.48,-19.76 13.69,-19.76" fill="#cdcdcd" stroke="#cdcdcd" stroke-width="0.6"/>
<polygon points="13.69,-19.76 117.48,-19.76 117.87,-17.94 14.09,-17.94" fill="#d2d2d2" stroke="#d2d2d2" stroke-width="0.6"/>
<polygon points="14.09,-17.94 117.87,-17.94 118.23,-16.08 14.44,-16.08" fill="#d6d6d6" stroke="#d6d6d6" stroke-width="0.6"/>
<polygon points="14.44,-16.08 118.23,-16.08 118.55,-14.17 14.76,-14.17" fill="#dbdbdb" stroke="#dbdbdb" stroke-width="0.6"/>
<polygon points="14.76,-14.17 118.55,-14.17 118.82,-12.21 15.03,-12.21" fill="#e0e0e0" stroke="#e0e0e0" stroke-width="0.6"/>
<polygon points="15.03,-12.21 118.82,-12.21 119.06,-10.23 15.27,-10.23" fill="#e4e4e4" stroke="#e4e4e4" stroke-width="0.6"/>
<polygon points="15.27,-10.23 119.06,-10.23 119.25,-8.22 15.46,-8.22" fill="#e9e9e9" stroke="#e9e9e9" stroke-width="0.6"/>
<polygon points="15.46,-8.22 119.25,-8.22 119.4,-6.18 15.61,-6.18" fill="#ededed" stroke="#ededed" stroke-width="0.6"/>
<polygon points="15.61,-6.18 119.4,-6.18 119.51,-4.13 15.72,-4.13" fill="#ececec" stroke="#ececec" stroke-width="0.6"/>
<polygon points="15.72,-4.13 119.51,-4.13 119.57,-2.07 15.79,-2.07" fill="#eaeaea" stroke="#eaeaea" stroke-width="0.6"/>
<polygon points="15.79,-2.07 119.57,-2.07 119.6,-0 15.81,-0" fill="#e8e8e8" stroke="#e8e8e8" stroke-width="0.6"/>
<polygon points="15.81,-0 119.6,-0 119.57,2.07 15.79,2.07" fill="#e7e7e7" stroke="#e7e7e7" stroke-width="0.6"/>
<polygon points="15.79,2.07 119.57,2.07 119.51,4.13 15.72,4.13" fill="#e5e5e5" stroke="#e5e5e5" stroke-width="0.6"/>
<polygon points="15.72,4.13 119.51,4.13 119.4,6.18 15.61,6.18" fill="#e3e3e3" stroke="#e3e3e3" stroke-width="0.6"/>
<polygon points="15.61,6.18 119.4,6.18 119.25,8.22 15.46,8.22" fill="#e0e0e0" stroke="#e0e0e0" stroke-width="0.6"/>
<polygon points="15.46,8.22 119.25,8.22 119.06,10.23 15.27,10.23" fill="#d6d6d6" stroke="#d6d6d6" stroke-width="0.6"/>
<polygon points="15.27,10.23 119.06,10.23 118.82,12.21 15.03,12.21" fill="#cecece" stroke="#cecece" stroke-width="0.6"/>
<polygon points="15.03,12.21 118.82,12.21 118.55,14.17 14.76,14.17" fill="#c4c4c4" stroke="#c4c4c4" stroke-width="0.6"/>
<polygon points="14.76,14.17 118.55,14.17 118.23,16.08 14.44,16.08" fill="#bcbcbc" stroke="#bcbcbc" stroke-width="0.6"/>
<polygon points="14.44,16.08 118.23,16.08 117.87,17.94 14.09,17.94" fill="#b2b2b2" stroke="#b2b2b2" stroke-width="0.6"/>
<polygon points="14.09,17.94 117.87,17.94 117.48,19.76 13.69,19.76" fill="#aaaaaa" stroke="#aaaaaa" stroke-width="0.6"/>
<polygon points="13.69,19.76 117.48,19.76 117.05,21.53 13.26,21.53" fill="#a0a0a0" stroke="#a0a0a0" stroke-width="0.6"/>
<polygon points="13.26,21.53 117.05,21.53 116.58,23.23 12.79,23.23" fill="#989898" stroke="#989898" stroke-width="0.6"/>
<polygon points="12.79,23.23 116.58,23.23 116.07,24.87 12.29,24.87" fill="#929292" stroke="#929292" stroke-width="0.6"/>
<polygon points="12.29,24.87 116.07,24.87 115.54,26.45 11.75,26.45" fill="#8e8e8e" stroke="#8e8e8e" stroke-width="0.6"/>
<polygon points="11.75,26.45 115.54,26.45 114.97,27.95 11.18,27.95" fill="#898989" stroke="#898989" stroke-width="0.6"/>
<polygon points="11.18,27.95 114.97,27.95 114.37,29.37 10.58,29.37" fill="#858585" stroke="#858585" stroke-width="0.6"/>
<polygon points="10.58,29.37 114.37,29.37 113.74,30.72 9.95,30.72" fill="#808080" stroke="#808080" stroke-width="0.6"/>
<polygon points="9.95,30.72 113.74,30.72 113.08,31.98 9.29,31.98" fill="#7c7c7c" stroke="#7c7c7c" stroke-width="0.6"/>
<polygon points="9.29,31.98 113.08,31.98 112.4,33.15 8.61,33.15" fill="#777777" stroke="#777777" stroke-width="0.6"/>
<polygon points="8.61,33.15 112.4,33.15 111.69,34.23 7.9,34.23" fill="#737373" stroke="#737373" stroke-width="0.6"/>
<polygon points="7.9,34.23 111.69,34.23 110.96,35.22 7.18,35.22" fill="#6e6e6e" stroke="#6e6e6e" stroke-width="0.6"/>
<polygon points="7.18,35.22 110.96,35.22 110.22,36.11 6.43,36.11" fill="#6a6a6a" stroke="#6a6a6a" stroke-width="0.6"/>
<polygon points="6.43,36.11 110.22,36.11 109.45,36.9 5.67,36.9" fill="#666666" stroke="#666666" stroke-width="0.6"/>
<polygon points="5.67,36.9 109.45,36.9 108.67,37.59 4.89,37.59" fill="#646464" stroke="#646464" stroke-width="0.6"/>
<polygon points="4.89,37.59 108.67,37.59 107.88,38.18 4.09,38.18" fill="#606060" stroke="#606060" stroke-width="0.6"/>
<polygon points="4.09,38.18 107.88,38.18 107.07,38.66 3.29,38.66" fill="#5e5e5e" stroke="#5e5e5e" stroke-width="0.6"/>
<polygon points="3.29,38.66 107.07,38.66 106.26,39.04 2.47,39.04" fill="#5a5a5a" stroke="#5a5a5a" stroke-width="0.6"/>
<polygon points="2.47,39.04 106.26,39.04 105.44,39.31 1.65,39.31" fill="#585858" stroke="#585858" stroke-width="0.6"/>
<polygon points="1.65,39.31 105.44,39.31 104.62,39.47 0.83,39.47" fill="#545454" stroke="#545454" stroke-width="0.6"/>
<polygon points="0.83,39.47 104.62,39.47 103.79,39.53 0,39.53" fill="#525252" stroke="#525252" stroke-width="0.6"/>
<polygon points="2.75,-38.93 89.79,-38.93 107.88,-38.18 92.45,-37.14 5.41,-37.14" fill="#585858" stroke="#151515" stroke-width="1.1" stroke-linejoin="round"/>
<line x1="4.09" y1="-38.18" x2="94.49" y2="-38.18" stroke="#151515" stroke-width="1.6"/>
<polygon points="10.16,-30.28 97.21,-30.28 114.97,-27.95 99.16,-25.41 12.11,-25.41" fill="#6b6b6b" stroke="#151515" stroke-width="1.1" stroke-linejoin="round"/>
<line x1="11.18" y1="-27.95" x2="101.57" y2="-27.95" stroke="#151515" stroke-width="1.6"/>
<polygon points="14.86,-13.52 101.9,-13.52 119.06,-10.23 102.62,-6.86 15.57,-6.86" fill="#7e7e7e" stroke="#151515" stroke-width="1.1" stroke-linejoin="round"/>
<line x1="15.27" y1="-10.23" x2="105.67" y2="-10.23" stroke="#151515" stroke-width="1.6"/>
<polygon points="15.57,6.86 102.62,6.86 119.06,10.23 101.9,13.52 14.86,13.52" fill="#747474" stroke="#151515" stroke-width="1.1" stroke-linejoin="round"/>
<line x1="15.27" y1="10.23" x2="105.67" y2="10.23" stroke="#151515" stroke-width="1.6"/>
<polygon points="12.11,25.41 99.16,25.41 114.97,27.95 97.21,30.28 10.16,30.28" fill="#535353" stroke="#151515" stroke-width="1.1" stroke-linejoin="round"/>
<line x1="11.18" y1="27.95" x2="101.57" y2="27.95" stroke="#151515" stroke-width="1.6"/>
<polygon points="5.41,37.14 92.45,37.14 107.88,38.18 89.79,38.93 2.75,38.93" fill="#414141" stroke="#151515" stroke-width="1.1" stroke-linejoin="round"/>
<line x1="4.09" y1="38.18" x2="94.49" y2="38.18" stroke="#151515" stroke-width="1.6"/>
<path d="M0,-39.53 L103.79,-39.53 A15.81,39.53 0 0 1 103.79,39.53 L0,39.53" fill="none" stroke="#111" stroke-width="1.4"/>
<polygon points="0,-29.87 0.83,-31.74 1.91,-36.32 3.08,-38.77 4.09,-38.18 5.08,-37.43 5.61,-33.84 5.63,-28.52 5.97,-25.87 7.07,-26.44 8.92,-29.06 10.42,-29.72 11.18,-27.95 11.89,-26.06 11.62,-22.3 10.58,-17.67 10.35,-14.94 11.41,-14.07 13.53,-14.02 14.97,-12.71 15.27,-10.23 15.5,-7.71 14.52,-4.78 12.69,-2.08 11.95,-0 12.69,2.08 14.52,4.78 15.5,7.71 15.27,10.23 14.97,12.71 13.53,14.02 11.41,14.07 10.35,14.94 10.58,17.67 11.62,22.3 11.89,26.06 11.18,27.95 10.42,29.72 8.92,29.06 7.07,26.44 5.97,25.87 5.63,28.52 5.61,33.84 5.08,37.43 4.09,38.18 3.08,38.77 1.91,36.32 0.83,31.74 0,29.87 -0.83,31.74 -1.91,36.32 -3.08,38.77 -4.09,38.18 -5.08,37.43 -5.61,33.84 -5.63,28.52 -5.97,25.87 -7.07,26.44 -8.92,29.06 -10.42,29.72 -11.18,27.95 -11.89,26.06 -11.62,22.3 -10.58,17.67 -10.35,14.94 -11.41,14.07 -13.53,14.02 -14.97,12.71 -15.27,10.23 -15.5,7.71 -14.52,4.78 -12.69,2.08 -11.95,0 -12.69,-2.08 -14.52,-4.78 -15.5,-7.71 -15.27,-10.23 -14.97,-12.71 -13.53,-14.02 -11.41,-14.07 -10.35,-14.94 -10.58,-17.67 -11.62,-22.3 -11.89,-26.06 -11.18,-27.95 -10.42,-29.72 -8.92,-29.06 -7.07,-26.44 -5.97,-25.87 -5.63,-28.52 -5.61,-33.84 -5.08,-37.43 -4.09,-38.18 -3.08,-38.77 -1.91,-36.32 -0.83,-31.74" fill="#5a5a5a" stroke="#111" stroke-width="1.3" stroke-linejoin="round"/>
<ellipse cx="0" cy="0" rx="2.62" ry="6.56" fill="#e0e0e0" stroke="#111" stroke-width="1"/>
</g>
<circle cx="865.9" cy="756.9" r="66" fill="none" stroke="#666" stroke-width="0.9" stroke-dasharray="7,5"/>
<polygon points="911.1,756.9 911.14,756.11 911.27,755.32 911.49,754.51 911.79,753.69 912.18,752.85 912.66,751.99 913.64,751.04 917.38,749.67 922.41,747.95 926.31,746.25 927.43,744.94 927.99,743.7 928.3,742.49 928.37,741.32 928.2,740.21 927.79,739.15 927.15,738.17 926.27,737.28 925.17,736.49 923.54,735.92 919.31,736.4 914.1,737.43 910.17,738.11 908.85,737.78 908.01,737.27 907.25,736.73 906.58,736.17 905.99,735.59 905.48,734.96 905.04,734.3 904.69,733.59 904.4,732.84 904.19,732.04 904.04,731.17 903.96,730.25 903.94,729.27 904.31,727.96 906.86,724.9 910.36,720.89 912.89,717.47 913.21,715.77 913.07,714.42 912.74,713.22 912.22,712.17 911.51,711.29 910.63,710.58 909.58,710.06 908.38,709.73 907.03,709.59 905.33,709.91 901.91,712.44 897.9,715.94 894.84,718.49 893.53,718.86 892.55,718.84 891.63,718.76 890.76,718.61 889.96,718.4 889.21,718.11 888.5,717.76 887.84,717.32 887.21,716.81 886.63,716.22 886.07,715.55 885.53,714.79 885.02,713.95 884.69,712.63 885.37,708.7 886.4,703.49 886.88,699.26 886.31,697.63 885.52,696.53 884.63,695.65 883.65,695.01 882.59,694.6 881.48,694.43 880.31,694.5 879.1,694.81 877.86,695.37 876.55,696.49 874.85,700.39 873.13,705.42 871.76,709.16 870.81,710.14 869.95,710.62 869.11,711.01 868.29,711.31 867.48,711.53 866.69,711.66 865.9,711.7 865.11,711.66 864.32,711.53 863.51,711.31 862.69,711.01 861.85,710.62 860.99,710.14 860.04,709.16 858.67,705.42 856.95,700.39 855.25,696.49 853.94,695.37 852.7,694.81 851.49,694.5 850.32,694.43 849.21,694.6 848.15,695.01 847.17,695.65 846.28,696.53 845.49,697.63 844.92,699.26 845.4,703.49 846.43,708.7 847.11,712.63 846.78,713.95 846.27,714.79 845.73,715.55 845.17,716.22 844.59,716.81 843.96,717.32 843.3,717.76 842.59,718.11 841.84,718.4 841.04,718.61 840.17,718.76 839.25,718.84 838.27,718.86 836.96,718.49 833.9,715.94 829.89,712.44 826.47,709.91 824.77,709.59 823.42,709.73 822.22,710.06 821.17,710.58 820.29,711.29 819.58,712.17 819.06,713.22 818.73,714.42 818.59,715.77 818.91,717.47 821.44,720.89 824.94,724.9 827.49,727.96 827.86,729.27 827.84,730.25 827.76,731.17 827.61,732.04 827.4,732.84 827.11,733.59 826.76,734.3 826.32,734.96 825.81,735.59 825.22,736.17 824.55,736.73 823.79,737.27 822.95,737.78 821.63,738.11 817.7,737.43 812.49,736.4 808.26,735.92 806.63,736.49 805.53,737.28 804.65,738.17 804.01,739.15 803.6,740.21 803.43,741.32 803.5,742.49 803.81,743.7 804.37,744.94 805.49,746.25 809.39,747.95 814.42,749.67 818.16,751.04 819.14,751.99 819.62,752.85 820.01,753.69 820.31,754.51 820.53,755.32 820.66,756.11 820.7,756.9 820.66,757.69 820.53,758.48 820.31,759.29 820.01,760.11 819.62,760.95 819.14,761.81 818.16,762.76 814.42,764.13 809.39,765.85 805.49,767.55 804.37,768.86 803.81,770.1 803.5,771.31 803.43,772.48 803.6,773.59 804.01,774.65 804.65,775.63 805.53,776.52 806.63,777.31 808.26,777.88 812.49,777.4 817.7,776.37 821.63,775.69 822.95,776.02 823.79,776.53 824.55,777.07 825.22,777.63 825.81,778.21 826.32,778.84 826.76,779.5 827.11,780.21 827.4,780.96 827.61,781.76 827.76,782.63 827.84,783.55 827.86,784.53 827.49,785.84 824.94,788.9 821.44,792.91 818.91,796.33 818.59,798.03 818.73,799.38 819.06,800.58 819.58,801.63 820.29,802.51 821.17,803.22 822.22,803.74 823.42,804.07 824.77,804.21 826.47,803.89 829.89,801.36 833.9,797.86 836.96,795.31 838.27,794.94 839.25,794.96 840.17,795.04 841.04,795.19 841.84,795.4 842.59,795.69 843.3,796.04 843.96,796.48 844.59,796.99 845.17,797.58 845.73,798.25 846.27,799.01 846.78,799.85 847.11,801.17 846.43,805.1 845.4,810.31 844.92,814.54 845.49,816.17 846.28,817.27 847.17,818.15 848.15,818.79 849.21,819.2 850.32,819.37 851.49,819.3 852.7,818.99 853.94,818.43 855.25,817.31 856.95,813.41 858.67,808.38 860.04,804.64 860.99,803.66 861.85,803.18 862.69,802.79 863.51,802.49 864.32,802.27 865.11,802.14 865.9,802.1 866.69,802.14 867.48,802.27 868.29,802.49 869.11,802.79 869.95,803.18 870.81,803.66 871.76,804.64 873.13,808.38 874.85,813.41 876.55,817.31 877.86,818.43 879.1,818.99 880.31,819.3 881.48,819.37 882.59,819.2 883.65,818.79 884.63,818.15 885.52,817.27 886.31,816.17 886.88,814.54 886.4,810.31 885.37,805.1 884.69,801.17 885.02,799.85 885.53,799.01 886.07,798.25 886.63,797.58 887.21,796.99 887.84,796.48 888.5,796.04 889.21,795.69 889.96,795.4 890.76,795.19 891.63,795.04 892.55,794.96 893.53,794.94 894.84,795.31 897.9,797.86 901.91,801.36 905.33,803.89 907.03,804.21 908.38,804.07 909.58,803.74 910.63,803.22 911.51,802.51 912.22,801.63 912.74,800.58 913.07,799.38 913.21,798.03 912.89,796.33 910.36,792.91 906.86,788.9 904.31,785.84 903.94,784.53 903.96,783.55 904.04,782.63 904.19,781.76 904.4,780.96 904.69,780.21 905.04,779.5 905.48,778.84 905.99,778.21 906.58,777.63 907.25,777.07 908.01,776.53 908.85,776.02 910.17,775.69 914.1,776.37 919.31,777.4 923.54,777.88 925.17,777.31 926.27,776.52 927.15,775.63 927.79,774.65 928.2,773.59 928.37,772.48 928.3,771.31 927.99,770.1 927.43,768.86 926.31,767.55 922.41,765.85 917.38,764.13 913.64,762.76 912.66,761.81 912.18,760.95 911.79,760.11 911.49,759.29 911.27,758.48 911.14,757.69" fill="url(#hatch3)" stroke="#111" stroke-width="2.2" stroke-linejoin="round"/>
<line x1="865.9" y1="681" x2="865.9" y2="833" stroke="#7a7aa6" stroke-width="0.8" stroke-dasharray="40,4,4,4"/>
<line x1="786" y1="756.9" x2="943" y2="756.9" stroke="#7a7aa6" stroke-width="0.8" stroke-dasharray="40,4,4,4"/>
<text x="866.3" y="857" font-family="&quot;Liberation Serif&quot;, serif" font-size="22.8" text-anchor="middle" fill="#0c0c5e" stroke="#0c0c5e" stroke-width="0.2">PRZEKRÓJ A-A</text></svg></body></html>
